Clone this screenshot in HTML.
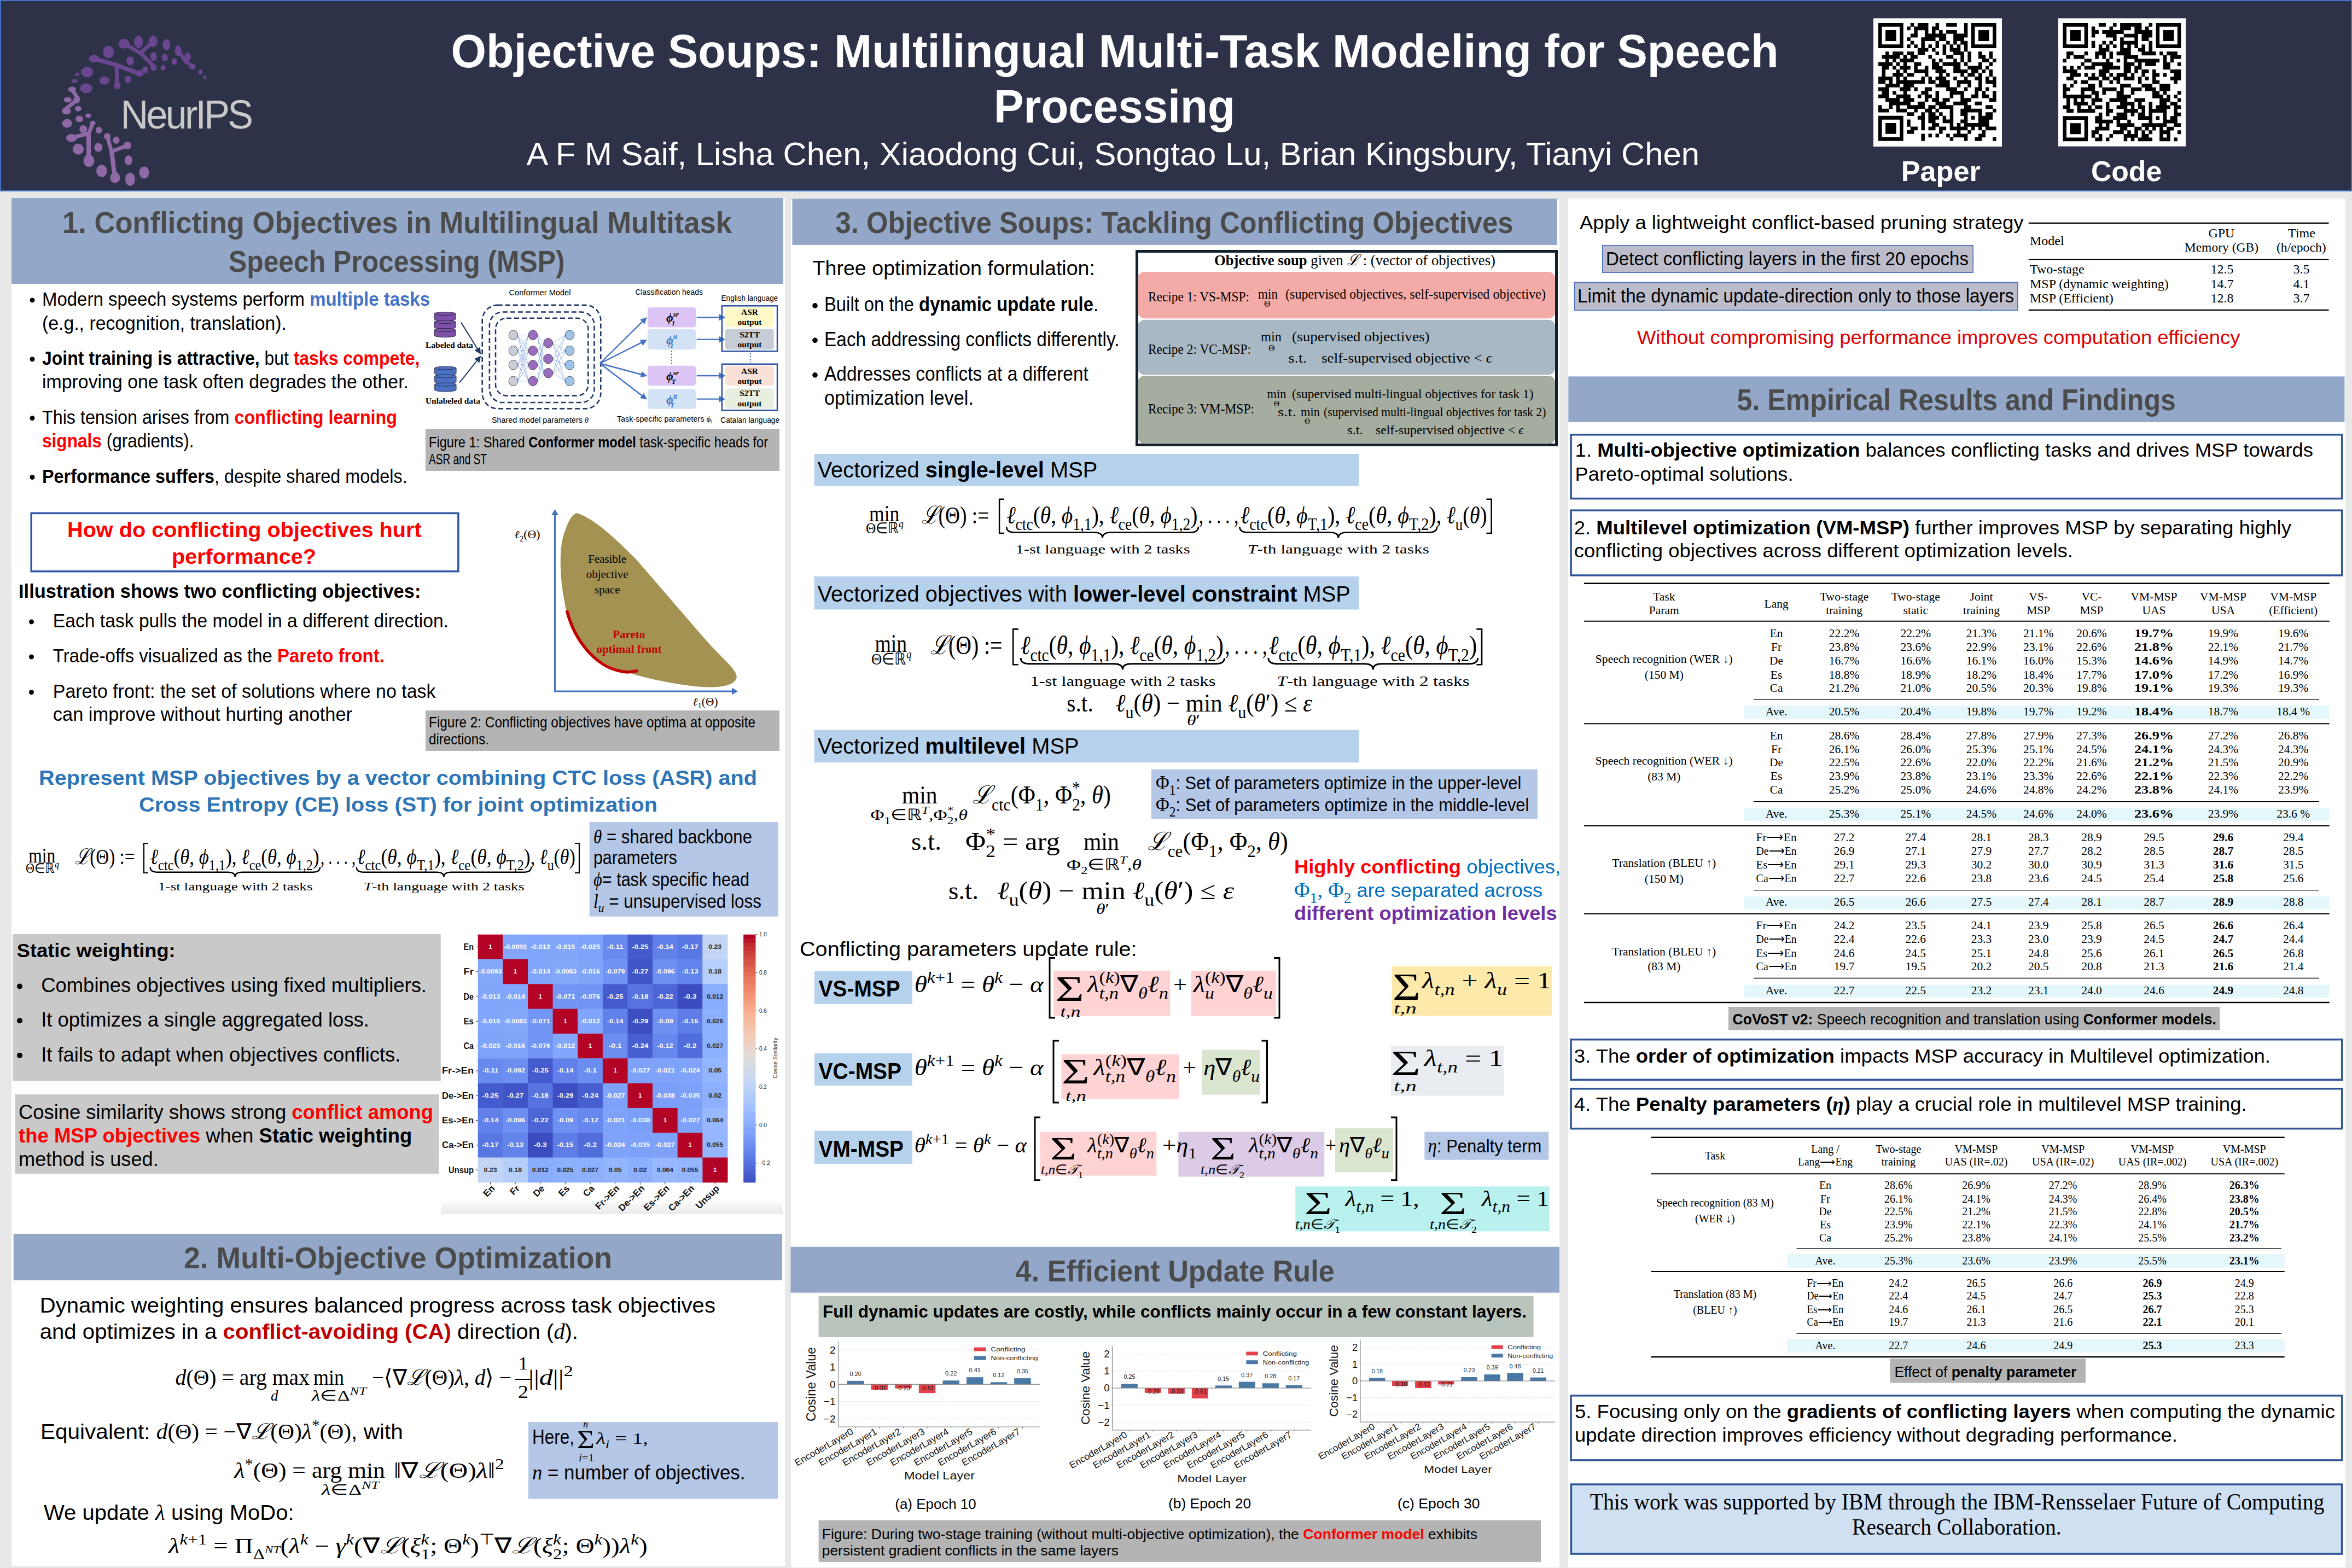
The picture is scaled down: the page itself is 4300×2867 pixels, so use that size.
<!DOCTYPE html>
<html><head><meta charset="utf-8"><title>Objective Soups poster</title>
<style>html,body{margin:0;padding:0;background:#e8e8e8;} svg{display:block;}</style>
</head><body>
<svg width="4300" height="2867" viewBox="0 0 4300 2867">
<rect x="0" y="0" width="4300" height="2867" fill="#e8e8e8"/>
<rect x="0.0" y="0.0" width="4300.0" height="350.0" fill="#2e3248"/>
<rect x="1.0" y="1.0" width="4298.0" height="348.0" fill="none" stroke="#4472c4" stroke-width="2"/>
<text x="824.5" y="123.4" font-family="Liberation Sans" font-size="85.0" font-weight="bold" fill="#fff" textLength="2427.1" lengthAdjust="spacingAndGlyphs">Objective Soups: Multilingual Multi-Task Modeling for Speech</text>
<text x="1817.0" y="224.0" font-family="Liberation Sans" font-size="85.0" font-weight="bold" fill="#fff" textLength="441.0" lengthAdjust="spacingAndGlyphs">Processing</text>
<text x="962.6" y="301.7" font-family="Liberation Sans" font-size="60.0" fill="#fff" textLength="2144.4" lengthAdjust="spacingAndGlyphs">A F M Saif, Lisha Chen, Xiaodong Cui, Songtao Lu, Brian Kingsbury, Tianyi Chen</text>
<rect x="3425.0" y="33.4" width="235.0" height="234.6" fill="#fff"/>
<path d="M3434.00 42.00h45.73v6.78h-45.73zM3492.80 42.00h6.53v6.78h-6.53zM3505.87 42.00h19.60v6.78h-19.60zM3538.53 42.00h6.53v6.78h-6.53zM3558.13 42.00h19.60v6.78h-19.60zM3590.80 42.00h6.53v6.78h-6.53zM3603.87 42.00h45.73v6.78h-45.73zM3434.00 48.53h6.53v6.78h-6.53zM3473.20 48.53h6.53v6.78h-6.53zM3486.27 48.53h6.53v6.78h-6.53zM3499.33 48.53h26.13v6.78h-26.13zM3532.00 48.53h13.07v6.78h-13.07zM3590.80 48.53h6.53v6.78h-6.53zM3603.87 48.53h6.53v6.78h-6.53zM3643.07 48.53h6.53v6.78h-6.53zM3434.00 55.07h6.53v6.78h-6.53zM3447.07 55.07h19.60v6.78h-19.60zM3473.20 55.07h6.53v6.78h-6.53zM3499.33 55.07h6.53v6.78h-6.53zM3518.93 55.07h6.53v6.78h-6.53zM3532.00 55.07h6.53v6.78h-6.53zM3545.07 55.07h6.53v6.78h-6.53zM3558.13 55.07h19.60v6.78h-19.60zM3590.80 55.07h6.53v6.78h-6.53zM3603.87 55.07h6.53v6.78h-6.53zM3616.93 55.07h19.60v6.78h-19.60zM3643.07 55.07h6.53v6.78h-6.53zM3434.00 61.60h6.53v6.78h-6.53zM3447.07 61.60h19.60v6.78h-19.60zM3473.20 61.60h6.53v6.78h-6.53zM3492.80 61.60h13.07v6.78h-13.07zM3518.93 61.60h39.20v6.78h-39.20zM3571.20 61.60h26.13v6.78h-26.13zM3603.87 61.60h6.53v6.78h-6.53zM3616.93 61.60h19.60v6.78h-19.60zM3643.07 61.60h6.53v6.78h-6.53zM3434.00 68.13h6.53v6.78h-6.53zM3447.07 68.13h19.60v6.78h-19.60zM3473.20 68.13h6.53v6.78h-6.53zM3486.27 68.13h6.53v6.78h-6.53zM3512.40 68.13h26.13v6.78h-26.13zM3545.07 68.13h13.07v6.78h-13.07zM3571.20 68.13h19.60v6.78h-19.60zM3603.87 68.13h6.53v6.78h-6.53zM3616.93 68.13h19.60v6.78h-19.60zM3643.07 68.13h6.53v6.78h-6.53zM3434.00 74.67h6.53v6.78h-6.53zM3473.20 74.67h6.53v6.78h-6.53zM3492.80 74.67h6.53v6.78h-6.53zM3512.40 74.67h6.53v6.78h-6.53zM3538.53 74.67h6.53v6.78h-6.53zM3558.13 74.67h6.53v6.78h-6.53zM3571.20 74.67h6.53v6.78h-6.53zM3584.27 74.67h13.07v6.78h-13.07zM3603.87 74.67h6.53v6.78h-6.53zM3643.07 74.67h6.53v6.78h-6.53zM3434.00 81.20h45.73v6.78h-45.73zM3486.27 81.20h6.53v6.78h-6.53zM3499.33 81.20h6.53v6.78h-6.53zM3512.40 81.20h6.53v6.78h-6.53zM3525.47 81.20h6.53v6.78h-6.53zM3538.53 81.20h6.53v6.78h-6.53zM3551.60 81.20h6.53v6.78h-6.53zM3564.67 81.20h6.53v6.78h-6.53zM3577.73 81.20h6.53v6.78h-6.53zM3590.80 81.20h6.53v6.78h-6.53zM3603.87 81.20h45.73v6.78h-45.73zM3505.87 87.73h19.60v6.78h-19.60zM3532.00 87.73h6.53v6.78h-6.53zM3551.60 87.73h6.53v6.78h-6.53zM3564.67 87.73h19.60v6.78h-19.60zM3590.80 87.73h6.53v6.78h-6.53zM3447.07 94.27h6.53v6.78h-6.53zM3460.13 94.27h19.60v6.78h-19.60zM3486.27 94.27h13.07v6.78h-13.07zM3505.87 94.27h13.07v6.78h-13.07zM3538.53 94.27h6.53v6.78h-6.53zM3551.60 94.27h6.53v6.78h-6.53zM3571.20 94.27h19.60v6.78h-19.60zM3597.33 94.27h6.53v6.78h-6.53zM3616.93 94.27h6.53v6.78h-6.53zM3636.53 94.27h6.53v6.78h-6.53zM3440.53 100.80h32.67v6.78h-32.67zM3479.73 100.80h6.53v6.78h-6.53zM3492.80 100.80h13.07v6.78h-13.07zM3525.47 100.80h6.53v6.78h-6.53zM3558.13 100.80h13.07v6.78h-13.07zM3584.27 100.80h6.53v6.78h-6.53zM3597.33 100.80h6.53v6.78h-6.53zM3616.93 100.80h13.07v6.78h-13.07zM3636.53 100.80h6.53v6.78h-6.53zM3447.07 107.33h6.53v6.78h-6.53zM3460.13 107.33h6.53v6.78h-6.53zM3473.20 107.33h26.13v6.78h-26.13zM3532.00 107.33h6.53v6.78h-6.53zM3545.07 107.33h6.53v6.78h-6.53zM3571.20 107.33h6.53v6.78h-6.53zM3584.27 107.33h6.53v6.78h-6.53zM3597.33 107.33h6.53v6.78h-6.53zM3623.47 107.33h13.07v6.78h-13.07zM3643.07 107.33h6.53v6.78h-6.53zM3434.00 113.87h26.13v6.78h-26.13zM3466.67 113.87h6.53v6.78h-6.53zM3479.73 113.87h6.53v6.78h-6.53zM3499.33 113.87h13.07v6.78h-13.07zM3532.00 113.87h13.07v6.78h-13.07zM3551.60 113.87h32.67v6.78h-32.67zM3590.80 113.87h6.53v6.78h-6.53zM3616.93 113.87h6.53v6.78h-6.53zM3636.53 113.87h6.53v6.78h-6.53zM3440.53 120.40h13.07v6.78h-13.07zM3460.13 120.40h6.53v6.78h-6.53zM3473.20 120.40h19.60v6.78h-19.60zM3499.33 120.40h6.53v6.78h-6.53zM3518.93 120.40h6.53v6.78h-6.53zM3532.00 120.40h19.60v6.78h-19.60zM3571.20 120.40h13.07v6.78h-13.07zM3597.33 120.40h26.13v6.78h-26.13zM3630.00 120.40h6.53v6.78h-6.53zM3440.53 126.93h6.53v6.78h-6.53zM3466.67 126.93h6.53v6.78h-6.53zM3479.73 126.93h6.53v6.78h-6.53zM3499.33 126.93h26.13v6.78h-26.13zM3538.53 126.93h19.60v6.78h-19.60zM3571.20 126.93h26.13v6.78h-26.13zM3603.87 126.93h13.07v6.78h-13.07zM3623.47 126.93h6.53v6.78h-6.53zM3636.53 126.93h6.53v6.78h-6.53zM3440.53 133.47h6.53v6.78h-6.53zM3460.13 133.47h19.60v6.78h-19.60zM3486.27 133.47h13.07v6.78h-13.07zM3518.93 133.47h6.53v6.78h-6.53zM3545.07 133.47h6.53v6.78h-6.53zM3558.13 133.47h6.53v6.78h-6.53zM3584.27 133.47h6.53v6.78h-6.53zM3597.33 133.47h13.07v6.78h-13.07zM3616.93 133.47h6.53v6.78h-6.53zM3636.53 133.47h6.53v6.78h-6.53zM3434.00 140.00h26.13v6.78h-26.13zM3466.67 140.00h6.53v6.78h-6.53zM3479.73 140.00h6.53v6.78h-6.53zM3512.40 140.00h6.53v6.78h-6.53zM3525.47 140.00h6.53v6.78h-6.53zM3538.53 140.00h19.60v6.78h-19.60zM3571.20 140.00h6.53v6.78h-6.53zM3590.80 140.00h6.53v6.78h-6.53zM3610.40 140.00h13.07v6.78h-13.07zM3630.00 140.00h6.53v6.78h-6.53zM3643.07 140.00h6.53v6.78h-6.53zM3434.00 146.53h13.07v6.78h-13.07zM3453.60 146.53h6.53v6.78h-6.53zM3466.67 146.53h52.27v6.78h-52.27zM3525.47 146.53h13.07v6.78h-13.07zM3545.07 146.53h19.60v6.78h-19.60zM3577.73 146.53h26.13v6.78h-26.13zM3616.93 146.53h6.53v6.78h-6.53zM3630.00 146.53h19.60v6.78h-19.60zM3447.07 153.07h26.13v6.78h-26.13zM3479.73 153.07h19.60v6.78h-19.60zM3538.53 153.07h26.13v6.78h-26.13zM3577.73 153.07h6.53v6.78h-6.53zM3597.33 153.07h6.53v6.78h-6.53zM3616.93 153.07h6.53v6.78h-6.53zM3643.07 153.07h6.53v6.78h-6.53zM3434.00 159.60h19.60v6.78h-19.60zM3473.20 159.60h19.60v6.78h-19.60zM3499.33 159.60h6.53v6.78h-6.53zM3518.93 159.60h13.07v6.78h-13.07zM3558.13 159.60h19.60v6.78h-19.60zM3590.80 159.60h6.53v6.78h-6.53zM3610.40 159.60h13.07v6.78h-13.07zM3630.00 159.60h6.53v6.78h-6.53zM3440.53 166.13h13.07v6.78h-13.07zM3460.13 166.13h6.53v6.78h-6.53zM3479.73 166.13h6.53v6.78h-6.53zM3512.40 166.13h13.07v6.78h-13.07zM3538.53 166.13h6.53v6.78h-6.53zM3564.67 166.13h26.13v6.78h-26.13zM3610.40 166.13h6.53v6.78h-6.53zM3623.47 166.13h6.53v6.78h-6.53zM3643.07 166.13h6.53v6.78h-6.53zM3434.00 172.67h19.60v6.78h-19.60zM3466.67 172.67h26.13v6.78h-26.13zM3505.87 172.67h6.53v6.78h-6.53zM3518.93 172.67h13.07v6.78h-13.07zM3538.53 172.67h6.53v6.78h-6.53zM3564.67 172.67h6.53v6.78h-6.53zM3584.27 172.67h6.53v6.78h-6.53zM3603.87 172.67h13.07v6.78h-13.07zM3623.47 172.67h13.07v6.78h-13.07zM3643.07 172.67h6.53v6.78h-6.53zM3447.07 179.20h26.13v6.78h-26.13zM3479.73 179.20h19.60v6.78h-19.60zM3518.93 179.20h6.53v6.78h-6.53zM3532.00 179.20h13.07v6.78h-13.07zM3551.60 179.20h13.07v6.78h-13.07zM3584.27 179.20h19.60v6.78h-19.60zM3636.53 179.20h13.07v6.78h-13.07zM3453.60 185.73h39.20v6.78h-39.20zM3505.87 185.73h13.07v6.78h-13.07zM3538.53 185.73h19.60v6.78h-19.60zM3571.20 185.73h26.13v6.78h-26.13zM3610.40 185.73h13.07v6.78h-13.07zM3434.00 192.27h6.53v6.78h-6.53zM3453.60 192.27h6.53v6.78h-6.53zM3466.67 192.27h6.53v6.78h-6.53zM3486.27 192.27h32.67v6.78h-32.67zM3525.47 192.27h13.07v6.78h-13.07zM3545.07 192.27h26.13v6.78h-26.13zM3590.80 192.27h13.07v6.78h-13.07zM3630.00 192.27h13.07v6.78h-13.07zM3434.00 198.80h19.60v6.78h-19.60zM3466.67 198.80h19.60v6.78h-19.60zM3499.33 198.80h6.53v6.78h-6.53zM3518.93 198.80h13.07v6.78h-13.07zM3538.53 198.80h6.53v6.78h-6.53zM3564.67 198.80h6.53v6.78h-6.53zM3584.27 198.80h39.20v6.78h-39.20zM3643.07 198.80h6.53v6.78h-6.53zM3486.27 205.33h13.07v6.78h-13.07zM3512.40 205.33h6.53v6.78h-6.53zM3525.47 205.33h13.07v6.78h-13.07zM3545.07 205.33h6.53v6.78h-6.53zM3564.67 205.33h6.53v6.78h-6.53zM3584.27 205.33h13.07v6.78h-13.07zM3616.93 205.33h6.53v6.78h-6.53zM3630.00 205.33h13.07v6.78h-13.07zM3434.00 211.87h45.73v6.78h-45.73zM3505.87 211.87h13.07v6.78h-13.07zM3525.47 211.87h19.60v6.78h-19.60zM3551.60 211.87h6.53v6.78h-6.53zM3564.67 211.87h6.53v6.78h-6.53zM3590.80 211.87h6.53v6.78h-6.53zM3603.87 211.87h6.53v6.78h-6.53zM3616.93 211.87h26.13v6.78h-26.13zM3434.00 218.40h6.53v6.78h-6.53zM3473.20 218.40h6.53v6.78h-6.53zM3486.27 218.40h6.53v6.78h-6.53zM3512.40 218.40h6.53v6.78h-6.53zM3525.47 218.40h13.07v6.78h-13.07zM3551.60 218.40h19.60v6.78h-19.60zM3584.27 218.40h13.07v6.78h-13.07zM3616.93 218.40h19.60v6.78h-19.60zM3434.00 224.93h6.53v6.78h-6.53zM3447.07 224.93h19.60v6.78h-19.60zM3473.20 224.93h6.53v6.78h-6.53zM3486.27 224.93h6.53v6.78h-6.53zM3512.40 224.93h6.53v6.78h-6.53zM3532.00 224.93h13.07v6.78h-13.07zM3564.67 224.93h6.53v6.78h-6.53zM3577.73 224.93h6.53v6.78h-6.53zM3590.80 224.93h45.73v6.78h-45.73zM3434.00 231.47h6.53v6.78h-6.53zM3447.07 231.47h19.60v6.78h-19.60zM3473.20 231.47h6.53v6.78h-6.53zM3492.80 231.47h13.07v6.78h-13.07zM3512.40 231.47h6.53v6.78h-6.53zM3525.47 231.47h13.07v6.78h-13.07zM3545.07 231.47h13.07v6.78h-13.07zM3564.67 231.47h32.67v6.78h-32.67zM3603.87 231.47h6.53v6.78h-6.53zM3616.93 231.47h6.53v6.78h-6.53zM3630.00 231.47h19.60v6.78h-19.60zM3434.00 238.00h6.53v6.78h-6.53zM3447.07 238.00h19.60v6.78h-19.60zM3473.20 238.00h6.53v6.78h-6.53zM3486.27 238.00h13.07v6.78h-13.07zM3545.07 238.00h6.53v6.78h-6.53zM3577.73 238.00h6.53v6.78h-6.53zM3597.33 238.00h6.53v6.78h-6.53zM3623.47 238.00h6.53v6.78h-6.53zM3434.00 244.53h6.53v6.78h-6.53zM3473.20 244.53h6.53v6.78h-6.53zM3512.40 244.53h6.53v6.78h-6.53zM3525.47 244.53h6.53v6.78h-6.53zM3538.53 244.53h6.53v6.78h-6.53zM3558.13 244.53h6.53v6.78h-6.53zM3571.20 244.53h26.13v6.78h-26.13zM3616.93 244.53h13.07v6.78h-13.07zM3434.00 251.07h45.73v6.78h-45.73zM3512.40 251.07h6.53v6.78h-6.53zM3564.67 251.07h6.53v6.78h-6.53zM3590.80 251.07h6.53v6.78h-6.53zM3610.40 251.07h13.07v6.78h-13.07zM3643.07 251.07h6.53v6.78h-6.53z" fill="#000"/>
<rect x="3763.0" y="33.4" width="233.0" height="234.2" fill="#fff"/>
<path d="M3771.40 42.00h45.82v6.80h-45.82zM3836.85 42.00h13.09v6.80h-13.09zM3863.04 42.00h6.55v6.80h-6.55zM3876.13 42.00h39.27v6.80h-39.27zM3928.49 42.00h6.55v6.80h-6.55zM3941.58 42.00h45.82v6.80h-45.82zM3771.40 48.55h6.55v6.80h-6.55zM3810.67 48.55h6.55v6.80h-6.55zM3823.76 48.55h6.55v6.80h-6.55zM3856.49 48.55h6.55v6.80h-6.55zM3876.13 48.55h19.64v6.80h-19.64zM3902.31 48.55h13.09v6.80h-13.09zM3921.95 48.55h6.55v6.80h-6.55zM3941.58 48.55h6.55v6.80h-6.55zM3980.85 48.55h6.55v6.80h-6.55zM3771.40 55.09h6.55v6.80h-6.55zM3784.49 55.09h19.64v6.80h-19.64zM3810.67 55.09h6.55v6.80h-6.55zM3823.76 55.09h13.09v6.80h-13.09zM3843.40 55.09h39.27v6.80h-39.27zM3902.31 55.09h32.73v6.80h-32.73zM3941.58 55.09h6.55v6.80h-6.55zM3954.67 55.09h19.64v6.80h-19.64zM3980.85 55.09h6.55v6.80h-6.55zM3771.40 61.64h6.55v6.80h-6.55zM3784.49 61.64h19.64v6.80h-19.64zM3810.67 61.64h6.55v6.80h-6.55zM3823.76 61.64h6.55v6.80h-6.55zM3849.95 61.64h19.64v6.80h-19.64zM3882.67 61.64h26.18v6.80h-26.18zM3915.40 61.64h19.64v6.80h-19.64zM3941.58 61.64h6.55v6.80h-6.55zM3954.67 61.64h19.64v6.80h-19.64zM3980.85 61.64h6.55v6.80h-6.55zM3771.40 68.18h6.55v6.80h-6.55zM3784.49 68.18h19.64v6.80h-19.64zM3810.67 68.18h6.55v6.80h-6.55zM3863.04 68.18h6.55v6.80h-6.55zM3876.13 68.18h6.55v6.80h-6.55zM3902.31 68.18h6.55v6.80h-6.55zM3915.40 68.18h13.09v6.80h-13.09zM3941.58 68.18h6.55v6.80h-6.55zM3954.67 68.18h19.64v6.80h-19.64zM3980.85 68.18h6.55v6.80h-6.55zM3771.40 74.73h6.55v6.80h-6.55zM3810.67 74.73h6.55v6.80h-6.55zM3823.76 74.73h6.55v6.80h-6.55zM3843.40 74.73h6.55v6.80h-6.55zM3856.49 74.73h6.55v6.80h-6.55zM3876.13 74.73h32.73v6.80h-32.73zM3928.49 74.73h6.55v6.80h-6.55zM3941.58 74.73h6.55v6.80h-6.55zM3980.85 74.73h6.55v6.80h-6.55zM3771.40 81.27h45.82v6.80h-45.82zM3823.76 81.27h6.55v6.80h-6.55zM3836.85 81.27h6.55v6.80h-6.55zM3849.95 81.27h6.55v6.80h-6.55zM3863.04 81.27h6.55v6.80h-6.55zM3876.13 81.27h6.55v6.80h-6.55zM3889.22 81.27h6.55v6.80h-6.55zM3902.31 81.27h6.55v6.80h-6.55zM3915.40 81.27h6.55v6.80h-6.55zM3928.49 81.27h6.55v6.80h-6.55zM3941.58 81.27h45.82v6.80h-45.82zM3836.85 87.82h19.64v6.80h-19.64zM3876.13 87.82h19.64v6.80h-19.64zM3908.85 87.82h13.09v6.80h-13.09zM3928.49 87.82h6.55v6.80h-6.55zM3777.95 94.36h13.09v6.80h-13.09zM3810.67 94.36h6.55v6.80h-6.55zM3830.31 94.36h19.64v6.80h-19.64zM3856.49 94.36h6.55v6.80h-6.55zM3869.58 94.36h26.18v6.80h-26.18zM3915.40 94.36h26.18v6.80h-26.18zM3948.13 94.36h6.55v6.80h-6.55zM3961.22 94.36h19.64v6.80h-19.64zM3777.95 100.91h6.55v6.80h-6.55zM3791.04 100.91h19.64v6.80h-19.64zM3830.31 100.91h6.55v6.80h-6.55zM3843.40 100.91h6.55v6.80h-6.55zM3856.49 100.91h6.55v6.80h-6.55zM3882.67 100.91h26.18v6.80h-26.18zM3954.67 100.91h6.55v6.80h-6.55zM3967.76 100.91h19.64v6.80h-19.64zM3771.40 107.45h6.55v6.80h-6.55zM3810.67 107.45h13.09v6.80h-13.09zM3849.95 107.45h6.55v6.80h-6.55zM3869.58 107.45h6.55v6.80h-6.55zM3882.67 107.45h6.55v6.80h-6.55zM3902.31 107.45h45.82v6.80h-45.82zM3954.67 107.45h6.55v6.80h-6.55zM3967.76 107.45h6.55v6.80h-6.55zM3804.13 114.00h6.55v6.80h-6.55zM3823.76 114.00h39.27v6.80h-39.27zM3882.67 114.00h19.64v6.80h-19.64zM3908.85 114.00h6.55v6.80h-6.55zM3921.95 114.00h19.64v6.80h-19.64zM3954.67 114.00h13.09v6.80h-13.09zM3980.85 114.00h6.55v6.80h-6.55zM3771.40 120.55h6.55v6.80h-6.55zM3784.49 120.55h6.55v6.80h-6.55zM3797.58 120.55h6.55v6.80h-6.55zM3810.67 120.55h19.64v6.80h-19.64zM3843.40 120.55h32.73v6.80h-32.73zM3882.67 120.55h13.09v6.80h-13.09zM3902.31 120.55h13.09v6.80h-13.09zM3954.67 120.55h13.09v6.80h-13.09zM3771.40 127.09h26.18v6.80h-26.18zM3836.85 127.09h19.64v6.80h-19.64zM3882.67 127.09h13.09v6.80h-13.09zM3902.31 127.09h6.55v6.80h-6.55zM3915.40 127.09h13.09v6.80h-13.09zM3935.04 127.09h6.55v6.80h-6.55zM3967.76 127.09h19.64v6.80h-19.64zM3784.49 133.64h19.64v6.80h-19.64zM3810.67 133.64h6.55v6.80h-6.55zM3823.76 133.64h6.55v6.80h-6.55zM3836.85 133.64h13.09v6.80h-13.09zM3856.49 133.64h6.55v6.80h-6.55zM3869.58 133.64h19.64v6.80h-19.64zM3895.76 133.64h6.55v6.80h-6.55zM3915.40 133.64h6.55v6.80h-6.55zM3935.04 133.64h13.09v6.80h-13.09zM3954.67 133.64h6.55v6.80h-6.55zM3974.31 133.64h13.09v6.80h-13.09zM3777.95 140.18h13.09v6.80h-13.09zM3817.22 140.18h19.64v6.80h-19.64zM3843.40 140.18h13.09v6.80h-13.09zM3863.04 140.18h13.09v6.80h-13.09zM3882.67 140.18h19.64v6.80h-19.64zM3908.85 140.18h6.55v6.80h-6.55zM3921.95 140.18h6.55v6.80h-6.55zM3935.04 140.18h6.55v6.80h-6.55zM3967.76 140.18h19.64v6.80h-19.64zM3791.04 146.73h6.55v6.80h-6.55zM3804.13 146.73h13.09v6.80h-13.09zM3836.85 146.73h6.55v6.80h-6.55zM3856.49 146.73h6.55v6.80h-6.55zM3869.58 146.73h6.55v6.80h-6.55zM3908.85 146.73h6.55v6.80h-6.55zM3935.04 146.73h13.09v6.80h-13.09zM3974.31 146.73h6.55v6.80h-6.55zM3771.40 153.27h6.55v6.80h-6.55zM3784.49 153.27h6.55v6.80h-6.55zM3817.22 153.27h13.09v6.80h-13.09zM3836.85 153.27h6.55v6.80h-6.55zM3876.13 153.27h19.64v6.80h-19.64zM3915.40 153.27h19.64v6.80h-19.64zM3948.13 153.27h19.64v6.80h-19.64zM3771.40 159.82h13.09v6.80h-13.09zM3804.13 159.82h26.18v6.80h-26.18zM3843.40 159.82h26.18v6.80h-26.18zM3876.13 159.82h6.55v6.80h-6.55zM3895.76 159.82h19.64v6.80h-19.64zM3921.95 159.82h19.64v6.80h-19.64zM3948.13 159.82h19.64v6.80h-19.64zM3771.40 166.36h6.55v6.80h-6.55zM3804.13 166.36h6.55v6.80h-6.55zM3823.76 166.36h13.09v6.80h-13.09zM3843.40 166.36h6.55v6.80h-6.55zM3869.58 166.36h13.09v6.80h-13.09zM3895.76 166.36h6.55v6.80h-6.55zM3935.04 166.36h13.09v6.80h-13.09zM3954.67 166.36h6.55v6.80h-6.55zM3980.85 166.36h6.55v6.80h-6.55zM3771.40 172.91h52.36v6.80h-52.36zM3830.31 172.91h6.55v6.80h-6.55zM3869.58 172.91h26.18v6.80h-26.18zM3935.04 172.91h19.64v6.80h-19.64zM3961.22 172.91h6.55v6.80h-6.55zM3974.31 172.91h6.55v6.80h-6.55zM3777.95 179.45h6.55v6.80h-6.55zM3791.04 179.45h6.55v6.80h-6.55zM3804.13 179.45h6.55v6.80h-6.55zM3823.76 179.45h19.64v6.80h-19.64zM3856.49 179.45h32.73v6.80h-32.73zM3902.31 179.45h19.64v6.80h-19.64zM3948.13 179.45h19.64v6.80h-19.64zM3980.85 179.45h6.55v6.80h-6.55zM3777.95 186.00h6.55v6.80h-6.55zM3791.04 186.00h26.18v6.80h-26.18zM3823.76 186.00h6.55v6.80h-6.55zM3849.95 186.00h6.55v6.80h-6.55zM3876.13 186.00h26.18v6.80h-26.18zM3908.85 186.00h6.55v6.80h-6.55zM3928.49 186.00h6.55v6.80h-6.55zM3948.13 186.00h13.09v6.80h-13.09zM3967.76 186.00h13.09v6.80h-13.09zM3771.40 192.55h13.09v6.80h-13.09zM3797.58 192.55h6.55v6.80h-6.55zM3817.22 192.55h6.55v6.80h-6.55zM3830.31 192.55h13.09v6.80h-13.09zM3849.95 192.55h6.55v6.80h-6.55zM3869.58 192.55h19.64v6.80h-19.64zM3895.76 192.55h6.55v6.80h-6.55zM3908.85 192.55h13.09v6.80h-13.09zM3928.49 192.55h6.55v6.80h-6.55zM3941.58 192.55h26.18v6.80h-26.18zM3974.31 192.55h13.09v6.80h-13.09zM3777.95 199.09h13.09v6.80h-13.09zM3797.58 199.09h32.73v6.80h-32.73zM3849.95 199.09h13.09v6.80h-13.09zM3882.67 199.09h26.18v6.80h-26.18zM3915.40 199.09h6.55v6.80h-6.55zM3928.49 199.09h32.73v6.80h-32.73zM3974.31 199.09h6.55v6.80h-6.55zM3836.85 205.64h6.55v6.80h-6.55zM3849.95 205.64h6.55v6.80h-6.55zM3869.58 205.64h19.64v6.80h-19.64zM3895.76 205.64h6.55v6.80h-6.55zM3908.85 205.64h13.09v6.80h-13.09zM3928.49 205.64h6.55v6.80h-6.55zM3954.67 205.64h6.55v6.80h-6.55zM3974.31 205.64h13.09v6.80h-13.09zM3771.40 212.18h45.82v6.80h-45.82zM3830.31 212.18h13.09v6.80h-13.09zM3863.04 212.18h26.18v6.80h-26.18zM3908.85 212.18h26.18v6.80h-26.18zM3941.58 212.18h6.55v6.80h-6.55zM3954.67 212.18h6.55v6.80h-6.55zM3967.76 212.18h13.09v6.80h-13.09zM3771.40 218.73h6.55v6.80h-6.55zM3810.67 218.73h6.55v6.80h-6.55zM3830.31 218.73h32.73v6.80h-32.73zM3869.58 218.73h6.55v6.80h-6.55zM3889.22 218.73h6.55v6.80h-6.55zM3928.49 218.73h6.55v6.80h-6.55zM3954.67 218.73h26.18v6.80h-26.18zM3771.40 225.27h6.55v6.80h-6.55zM3784.49 225.27h19.64v6.80h-19.64zM3810.67 225.27h6.55v6.80h-6.55zM3836.85 225.27h6.55v6.80h-6.55zM3849.95 225.27h6.55v6.80h-6.55zM3869.58 225.27h32.73v6.80h-32.73zM3915.40 225.27h45.82v6.80h-45.82zM3974.31 225.27h13.09v6.80h-13.09zM3771.40 231.82h6.55v6.80h-6.55zM3784.49 231.82h19.64v6.80h-19.64zM3810.67 231.82h6.55v6.80h-6.55zM3830.31 231.82h26.18v6.80h-26.18zM3876.13 231.82h13.09v6.80h-13.09zM3902.31 231.82h13.09v6.80h-13.09zM3921.95 231.82h6.55v6.80h-6.55zM3935.04 231.82h6.55v6.80h-6.55zM3948.13 231.82h6.55v6.80h-6.55zM3961.22 231.82h13.09v6.80h-13.09zM3771.40 238.36h6.55v6.80h-6.55zM3784.49 238.36h19.64v6.80h-19.64zM3810.67 238.36h6.55v6.80h-6.55zM3823.76 238.36h13.09v6.80h-13.09zM3863.04 238.36h19.64v6.80h-19.64zM3889.22 238.36h6.55v6.80h-6.55zM3902.31 238.36h6.55v6.80h-6.55zM3915.40 238.36h6.55v6.80h-6.55zM3928.49 238.36h6.55v6.80h-6.55zM3948.13 238.36h19.64v6.80h-19.64zM3980.85 238.36h6.55v6.80h-6.55zM3771.40 244.91h6.55v6.80h-6.55zM3810.67 244.91h6.55v6.80h-6.55zM3823.76 244.91h6.55v6.80h-6.55zM3836.85 244.91h6.55v6.80h-6.55zM3856.49 244.91h6.55v6.80h-6.55zM3882.67 244.91h26.18v6.80h-26.18zM3915.40 244.91h13.09v6.80h-13.09zM3948.13 244.91h6.55v6.80h-6.55zM3961.22 244.91h6.55v6.80h-6.55zM3771.40 251.45h45.82v6.80h-45.82zM3830.31 251.45h13.09v6.80h-13.09zM3849.95 251.45h6.55v6.80h-6.55zM3882.67 251.45h6.55v6.80h-6.55zM3895.76 251.45h6.55v6.80h-6.55zM3908.85 251.45h26.18v6.80h-26.18zM3948.13 251.45h19.64v6.80h-19.64zM3974.31 251.45h6.55v6.80h-6.55z" fill="#000"/>
<text x="3475.8" y="330.7" font-family="Liberation Sans" font-size="52.0" font-weight="bold" fill="#fff" textLength="145.0" lengthAdjust="spacingAndGlyphs">Paper</text>
<text x="3822.9" y="330.7" font-family="Liberation Sans" font-size="52.0" font-weight="bold" fill="#fff" textLength="129.3" lengthAdjust="spacingAndGlyphs">Code</text>
<ellipse cx="253.3" cy="76.7" rx="8.2" ry="11.2" fill="#6a4590"/>
<ellipse cx="279.8" cy="75.7" rx="8" ry="10.5" fill="#6a4590"/>
<ellipse cx="304.3" cy="81.8" rx="7" ry="10" fill="#6a4590"/>
<ellipse cx="325.7" cy="93" rx="6" ry="10" fill="#6a4590"/>
<ellipse cx="343" cy="104.3" rx="6" ry="8" fill="#6a4590"/>
<ellipse cx="366.6" cy="131.8" rx="3.7" ry="5" fill="#6a4590"/>
<ellipse cx="374.3" cy="141.4" rx="2.5" ry="3.5" fill="#6a4590"/>
<ellipse cx="226.7" cy="79.8" rx="10" ry="9" fill="#6a4590"/>
<ellipse cx="198.2" cy="95.1" rx="10" ry="11" fill="#6a4590"/>
<ellipse cx="238" cy="111.4" rx="7" ry="8" fill="#6a4590"/>
<ellipse cx="280.8" cy="103.3" rx="6" ry="8" fill="#6a4590"/>
<ellipse cx="301.2" cy="105.3" rx="5.5" ry="7" fill="#6a4590"/>
<ellipse cx="318.6" cy="112.5" rx="5" ry="6" fill="#6a4590"/>
<ellipse cx="298.2" cy="123.7" rx="4.5" ry="5" fill="#6a4590"/>
<ellipse cx="280.8" cy="123.7" rx="5.5" ry="6" fill="#6a4590"/>
<ellipse cx="265.5" cy="127.8" rx="5.5" ry="6.5" fill="#6a4590"/>
<ellipse cx="233.9" cy="145.1" rx="6" ry="6.5" fill="#6a4590"/>
<ellipse cx="171.6" cy="107.3" rx="9" ry="7" fill="#6a4590"/>
<ellipse cx="159.4" cy="131.8" rx="11" ry="9.5" fill="#6a4590"/>
<ellipse cx="191" cy="147.2" rx="9" ry="7.5" fill="#6a4590"/>
<ellipse cx="157.4" cy="161.4" rx="11" ry="9" fill="#6a4590"/>
<ellipse cx="141" cy="136" rx="4" ry="2.5" fill="#6a4590"/>
<ellipse cx="136.5" cy="148.2" rx="5.5" ry="3.6" fill="#6a4590"/>
<ellipse cx="255" cy="134" rx="7" ry="6" fill="#6a4590"/>
<ellipse cx="214.5" cy="156.3" rx="6" ry="7" fill="#6a4590"/>
<ellipse cx="352" cy="122" rx="6" ry="5" fill="#6a4590"/>
<line x1="171.0" y1="107.0" x2="213.0" y2="119.0" stroke="#6a4590" stroke-width="8" stroke-linecap="round"/>
<line x1="213.0" y1="119.0" x2="250.0" y2="133.0" stroke="#6a4590" stroke-width="8" stroke-linecap="round"/>
<line x1="213.0" y1="119.0" x2="214.0" y2="156.0" stroke="#6a4590" stroke-width="7" stroke-linecap="round"/>
<line x1="227.0" y1="80.0" x2="257.0" y2="97.0" stroke="#6a4590" stroke-width="7" stroke-linecap="round"/>
<line x1="257.0" y1="97.0" x2="280.0" y2="76.0" stroke="#6a4590" stroke-width="7" stroke-linecap="round"/>
<line x1="257.0" y1="97.0" x2="282.0" y2="122.0" stroke="#6a4590" stroke-width="7" stroke-linecap="round"/>
<line x1="325.0" y1="91.0" x2="340.0" y2="113.0" stroke="#6a4590" stroke-width="7" stroke-linecap="round"/>
<line x1="340.0" y1="113.0" x2="353.0" y2="121.0" stroke="#6a4590" stroke-width="6" stroke-linecap="round"/>
<ellipse cx="131.8" cy="163.5" rx="7" ry="5" fill="#8e69a6"/>
<ellipse cx="123.7" cy="182.5" rx="7" ry="5" fill="#8e69a6"/>
<ellipse cx="140" cy="183" rx="6" ry="6" fill="#8e69a6"/>
<ellipse cx="121.6" cy="203.3" rx="8" ry="6" fill="#8e69a6"/>
<ellipse cx="143" cy="198.8" rx="6" ry="5" fill="#8e69a6"/>
<ellipse cx="161.4" cy="211.4" rx="5" ry="4" fill="#8e69a6"/>
<ellipse cx="145.1" cy="217.6" rx="7" ry="6" fill="#8e69a6"/>
<ellipse cx="122.7" cy="225.7" rx="9" ry="8" fill="#8e69a6"/>
<ellipse cx="152.2" cy="236" rx="7" ry="7" fill="#8e69a6"/>
<ellipse cx="180.8" cy="238" rx="6" ry="6" fill="#8e69a6"/>
<ellipse cx="130.8" cy="252.3" rx="10" ry="7" fill="#8e69a6"/>
<ellipse cx="169.6" cy="224.7" rx="5" ry="4" fill="#8e69a6"/>
<ellipse cx="143" cy="272.7" rx="10" ry="10" fill="#8e69a6"/>
<ellipse cx="179.8" cy="269.6" rx="7.5" ry="8" fill="#8e69a6"/>
<ellipse cx="196.1" cy="249.2" rx="6" ry="6" fill="#8e69a6"/>
<ellipse cx="212.5" cy="256.3" rx="6" ry="6.5" fill="#8e69a6"/>
<ellipse cx="233" cy="266" rx="7" ry="7" fill="#8e69a6"/>
<ellipse cx="162.5" cy="294.1" rx="10" ry="11" fill="#8e69a6"/>
<ellipse cx="185.9" cy="312.5" rx="10" ry="11" fill="#8e69a6"/>
<ellipse cx="210.4" cy="324.7" rx="9" ry="10" fill="#8e69a6"/>
<ellipse cx="238" cy="327.8" rx="9" ry="12" fill="#8e69a6"/>
<ellipse cx="263.5" cy="315.5" rx="9" ry="11" fill="#8e69a6"/>
<ellipse cx="234.9" cy="293.1" rx="7" ry="9" fill="#8e69a6"/>
<line x1="131.0" y1="163.0" x2="143.0" y2="181.0" stroke="#8e69a6" stroke-width="7" stroke-linecap="round"/>
<line x1="143.0" y1="181.0" x2="117.0" y2="202.0" stroke="#8e69a6" stroke-width="7" stroke-linecap="round"/>
<line x1="130.0" y1="252.0" x2="162.0" y2="244.0" stroke="#8e69a6" stroke-width="7" stroke-linecap="round"/>
<line x1="162.0" y1="244.0" x2="170.0" y2="225.0" stroke="#8e69a6" stroke-width="7" stroke-linecap="round"/>
<line x1="162.0" y1="244.0" x2="162.0" y2="294.0" stroke="#8e69a6" stroke-width="8" stroke-linecap="round"/>
<line x1="196.0" y1="249.0" x2="204.0" y2="277.0" stroke="#8e69a6" stroke-width="7" stroke-linecap="round"/>
<line x1="204.0" y1="277.0" x2="233.0" y2="266.0" stroke="#8e69a6" stroke-width="7" stroke-linecap="round"/>
<line x1="204.0" y1="277.0" x2="210.0" y2="324.0" stroke="#8e69a6" stroke-width="8" stroke-linecap="round"/>
<text x="220.6" y="234.9" font-family="Liberation Sans" font-size="75.0" fill="#c9c9c9" textLength="238.8" lengthAdjust="spacingAndGlyphs" letter-spacing="-4">NeurIPS</text>
<rect x="21.0" y="362.0" width="1414.0" height="2501.0" fill="#fff"/>
<rect x="1446.0" y="366.0" width="1405.0" height="2500.0" fill="#fff"/>
<rect x="2867.0" y="363.0" width="1421.0" height="2503.0" fill="#fff"/>
<rect x="21.0" y="362.0" width="1411.0" height="157.0" fill="#93a8c9"/>
<rect x="24.7" y="2256.0" width="1405.3" height="85.0" fill="#93a8c9"/>
<rect x="1448.5" y="363.4" width="1398.2" height="84.5" fill="#93a8c9"/>
<rect x="1445.4" y="2279.7" width="1405.6" height="83.9" fill="#93a8c9"/>
<rect x="2867.3" y="688.3" width="1419.2" height="83.3" fill="#93a8c9"/>
<text x="114.0" y="426.3" font-family="Liberation Sans" font-size="56.0" font-weight="bold" fill="#4b4b4b" textLength="1224.0" lengthAdjust="spacingAndGlyphs">1. Conflicting Objectives in Multilingual Multitask</text>
<text x="418.0" y="497.2" font-family="Liberation Sans" font-size="56.0" font-weight="bold" fill="#4b4b4b" textLength="614.6" lengthAdjust="spacingAndGlyphs">Speech Processing (MSP)</text>
<text x="336.0" y="2319.4" font-family="Liberation Sans" font-size="56.0" font-weight="bold" fill="#4b4b4b" textLength="783.0" lengthAdjust="spacingAndGlyphs">2. Multi-Objective Optimization</text>
<text x="1527.4" y="426.3" font-family="Liberation Sans" font-size="56.0" font-weight="bold" fill="#4b4b4b" textLength="1239.2" lengthAdjust="spacingAndGlyphs">3. Objective Soups: Tackling Conflicting Objectives</text>
<text x="1856.6" y="2343.0" font-family="Liberation Sans" font-size="56.0" font-weight="bold" fill="#4b4b4b" textLength="583.2" lengthAdjust="spacingAndGlyphs">4. Efficient Update Rule</text>
<text x="3175.5" y="750.0" font-family="Liberation Sans" font-size="56.0" font-weight="bold" fill="#4b4b4b" textLength="802.5" lengthAdjust="spacingAndGlyphs">5. Empirical Results and Findings</text>
<circle cx="59" cy="548.9" r="4.5" fill="#000"/>
<circle cx="59" cy="656.7" r="4.5" fill="#000"/>
<circle cx="59" cy="764.6" r="4.5" fill="#000"/>
<circle cx="59" cy="872.5" r="4.5" fill="#000"/>
<text x="77.0" y="558.9" font-family="Liberation Sans" font-size="35.0" textLength="709.0" lengthAdjust="spacingAndGlyphs">Modern speech systems perform <tspan font-weight="bold" fill="#4472c4">multiple tasks</tspan></text>
<text x="77.0" y="603.0" font-family="Liberation Sans" font-size="35.0" textLength="447.0" lengthAdjust="spacingAndGlyphs">(e.g., recognition, translation).</text>
<text x="77.0" y="666.7" font-family="Liberation Sans" font-size="35.0" textLength="690.5" lengthAdjust="spacingAndGlyphs"><tspan font-weight="bold">Joint training is attractive,</tspan> but <tspan font-weight="bold" fill="#ff0000">tasks compete,</tspan></text>
<text x="77.0" y="710.0" font-family="Liberation Sans" font-size="35.0" textLength="670.0" lengthAdjust="spacingAndGlyphs">improving one task often degrades the other.</text>
<text x="77.0" y="774.6" font-family="Liberation Sans" font-size="35.0" textLength="649.0" lengthAdjust="spacingAndGlyphs">This tension arises from <tspan font-weight="bold" fill="#ff0000">conflicting learning</tspan></text>
<text x="77.0" y="817.8" font-family="Liberation Sans" font-size="35.0" textLength="277.5" lengthAdjust="spacingAndGlyphs"><tspan font-weight="bold" fill="#ff0000">signals</tspan> (gradients).</text>
<text x="77.0" y="882.5" font-family="Liberation Sans" font-size="35.0" textLength="667.7" lengthAdjust="spacingAndGlyphs"><tspan font-weight="bold">Performance suffers</tspan>, despite shared models.</text>
<rect x="778.0" y="784.0" width="647.0" height="77.0" fill="#b4b4b4"/>
<text x="784.0" y="818.0" font-family="Liberation Sans" font-size="28.0" textLength="620.0" lengthAdjust="spacingAndGlyphs">Figure 1: Shared <tspan font-weight="bold">Conformer model</tspan> task-specific heads for</text>
<text x="784.0" y="848.6" font-family="Liberation Sans" font-size="28.0" textLength="106.0" lengthAdjust="spacingAndGlyphs">ASR and ST</text>
<text x="930.5" y="540.2" font-family="Liberation Sans" font-size="15.0" textLength="113.0" lengthAdjust="spacingAndGlyphs">Conformer Model</text>
<text x="1161.4" y="538.8" font-family="Liberation Sans" font-size="15.0" textLength="123.6" lengthAdjust="spacingAndGlyphs">Classification heads</text>
<text x="1318.6" y="549.5" font-family="Liberation Sans" font-size="15.0" textLength="103.8" lengthAdjust="spacingAndGlyphs">English language</text>
<text x="899.0" y="772.5" font-family="Liberation Sans" font-size="15.0" textLength="177.0" lengthAdjust="spacingAndGlyphs">Shared model parameters <tspan font-style="italic"><tspan font-family="Liberation Serif">θ</tspan></tspan></text>
<text x="1127.8" y="771.1" font-family="Liberation Sans" font-size="15.0" textLength="174.0" lengthAdjust="spacingAndGlyphs">Task-specific parameters <tspan font-style="italic"><tspan font-family="Liberation Serif">ϕ<tspan font-size="10" dy="3">t</tspan></tspan></tspan></text>
<text x="1317.2" y="772.5" font-family="Liberation Sans" font-size="15.0" textLength="108.0" lengthAdjust="spacingAndGlyphs">Catalan language</text>
<path d="M794 573.5 V583.5 A19.5 3 0 0 0 833 583.5 V573.5" fill="#7d4fa6" stroke="#2b2b4b" stroke-width="1"/>
<ellipse cx="813.5" cy="573.5" rx="19.5" ry="3" fill="#7d4fa6" stroke="#2b2b4b" stroke-width="1"/>
<path d="M794 588.5 V598.5 A19.5 3 0 0 0 833 598.5 V588.5" fill="#7d4fa6" stroke="#2b2b4b" stroke-width="1"/>
<ellipse cx="813.5" cy="588.5" rx="19.5" ry="3" fill="#7d4fa6" stroke="#2b2b4b" stroke-width="1"/>
<path d="M794 603.5 V613.5 A19.5 3 0 0 0 833 613.5 V603.5" fill="#7d4fa6" stroke="#2b2b4b" stroke-width="1"/>
<ellipse cx="813.5" cy="603.5" rx="19.5" ry="3" fill="#7d4fa6" stroke="#2b2b4b" stroke-width="1"/>
<path d="M794.7 673.0 V683.0 A19.649999999999977 3 0 0 0 834 683.0 V673.0" fill="#4a72c4" stroke="#2b2b4b" stroke-width="1"/>
<ellipse cx="814.35" cy="673.0" rx="19.649999999999977" ry="3" fill="#4a72c4" stroke="#2b2b4b" stroke-width="1"/>
<path d="M794.7 688.0 V698.0 A19.649999999999977 3 0 0 0 834 698.0 V688.0" fill="#4a72c4" stroke="#2b2b4b" stroke-width="1"/>
<ellipse cx="814.35" cy="688.0" rx="19.649999999999977" ry="3" fill="#4a72c4" stroke="#2b2b4b" stroke-width="1"/>
<path d="M794.7 703.0 V713.0 A19.649999999999977 3 0 0 0 834 713.0 V703.0" fill="#4a72c4" stroke="#2b2b4b" stroke-width="1"/>
<ellipse cx="814.35" cy="703.0" rx="19.649999999999977" ry="3" fill="#4a72c4" stroke="#2b2b4b" stroke-width="1"/>
<text x="777.9" y="636.4" font-family="Liberation Serif" font-size="15.5" font-weight="bold" textLength="87.0" lengthAdjust="spacingAndGlyphs">Labeled data</text>
<text x="777.9" y="737.5" font-family="Liberation Serif" font-size="15.5" font-weight="bold" textLength="100.0" lengthAdjust="spacingAndGlyphs">Unlabeled data</text>
<defs><marker id="ah" markerWidth="6" markerHeight="6" refX="5" refY="3" orient="auto" markerUnits="strokeWidth"><path d="M0 0 L6 3 L0 6 z" fill="#203864"/></marker><marker id="ahb" markerWidth="5" markerHeight="5" refX="4" refY="2.5" orient="auto" markerUnits="strokeWidth"><path d="M0 0 L5 2.5 L0 5 z" fill="#4472c4"/></marker></defs>
<line x1="843.0" y1="589.6" x2="878.0" y2="646.0" stroke="#203864" stroke-width="2" marker-end="url(#ah)"/>
<line x1="840.0" y1="699.6" x2="878.0" y2="652.0" stroke="#203864" stroke-width="2" marker-end="url(#ah)"/>
<rect x="881.7" y="557.9" width="216.6" height="189.4" rx="28" fill="none" stroke="#203864" stroke-width="2.6" stroke-dasharray="9 5"/>
<rect x="894.9" y="570.5" width="191.6" height="165.5" rx="24" fill="none" stroke="#203864" stroke-width="2.6" stroke-dasharray="9 5"/>
<rect x="906" y="581.7" width="169.3" height="141.7" rx="20" fill="none" stroke="#203864" stroke-width="2.6" stroke-dasharray="9 5"/>
<line x1="946.4" y1="612.6" x2="966.3" y2="612.6" stroke="#5b8ad6" stroke-width="0.6"/>
<line x1="946.4" y1="612.6" x2="966.3" y2="641.2" stroke="#5b8ad6" stroke-width="0.6"/>
<line x1="946.4" y1="612.6" x2="966.3" y2="667.3" stroke="#5b8ad6" stroke-width="0.6"/>
<line x1="946.4" y1="612.6" x2="966.3" y2="696.8" stroke="#5b8ad6" stroke-width="0.6"/>
<line x1="946.4" y1="641.2" x2="966.3" y2="612.6" stroke="#5b8ad6" stroke-width="0.6"/>
<line x1="946.4" y1="641.2" x2="966.3" y2="641.2" stroke="#5b8ad6" stroke-width="0.6"/>
<line x1="946.4" y1="641.2" x2="966.3" y2="667.3" stroke="#5b8ad6" stroke-width="0.6"/>
<line x1="946.4" y1="641.2" x2="966.3" y2="696.8" stroke="#5b8ad6" stroke-width="0.6"/>
<line x1="946.4" y1="667.3" x2="966.3" y2="612.6" stroke="#5b8ad6" stroke-width="0.6"/>
<line x1="946.4" y1="667.3" x2="966.3" y2="641.2" stroke="#5b8ad6" stroke-width="0.6"/>
<line x1="946.4" y1="667.3" x2="966.3" y2="667.3" stroke="#5b8ad6" stroke-width="0.6"/>
<line x1="946.4" y1="667.3" x2="966.3" y2="696.8" stroke="#5b8ad6" stroke-width="0.6"/>
<line x1="946.4" y1="696.8" x2="966.3" y2="612.6" stroke="#5b8ad6" stroke-width="0.6"/>
<line x1="946.4" y1="696.8" x2="966.3" y2="641.2" stroke="#5b8ad6" stroke-width="0.6"/>
<line x1="946.4" y1="696.8" x2="966.3" y2="667.3" stroke="#5b8ad6" stroke-width="0.6"/>
<line x1="946.4" y1="696.8" x2="966.3" y2="696.8" stroke="#5b8ad6" stroke-width="0.6"/>
<line x1="982.3" y1="612.6" x2="994.3" y2="627.2" stroke="#5b8ad6" stroke-width="0.6"/>
<line x1="982.3" y1="612.6" x2="994.3" y2="656.1" stroke="#5b8ad6" stroke-width="0.6"/>
<line x1="982.3" y1="612.6" x2="994.3" y2="682.2" stroke="#5b8ad6" stroke-width="0.6"/>
<line x1="982.3" y1="641.2" x2="994.3" y2="627.2" stroke="#5b8ad6" stroke-width="0.6"/>
<line x1="982.3" y1="641.2" x2="994.3" y2="656.1" stroke="#5b8ad6" stroke-width="0.6"/>
<line x1="982.3" y1="641.2" x2="994.3" y2="682.2" stroke="#5b8ad6" stroke-width="0.6"/>
<line x1="982.3" y1="667.3" x2="994.3" y2="627.2" stroke="#5b8ad6" stroke-width="0.6"/>
<line x1="982.3" y1="667.3" x2="994.3" y2="656.1" stroke="#5b8ad6" stroke-width="0.6"/>
<line x1="982.3" y1="667.3" x2="994.3" y2="682.2" stroke="#5b8ad6" stroke-width="0.6"/>
<line x1="982.3" y1="696.8" x2="994.3" y2="627.2" stroke="#5b8ad6" stroke-width="0.6"/>
<line x1="982.3" y1="696.8" x2="994.3" y2="656.1" stroke="#5b8ad6" stroke-width="0.6"/>
<line x1="982.3" y1="696.8" x2="994.3" y2="682.2" stroke="#5b8ad6" stroke-width="0.6"/>
<line x1="1010.3" y1="627.2" x2="1033.6" y2="612.6" stroke="#5b8ad6" stroke-width="0.6"/>
<line x1="1010.3" y1="627.2" x2="1033.6" y2="641.2" stroke="#5b8ad6" stroke-width="0.6"/>
<line x1="1010.3" y1="627.2" x2="1033.6" y2="667.3" stroke="#5b8ad6" stroke-width="0.6"/>
<line x1="1010.3" y1="627.2" x2="1033.6" y2="696.8" stroke="#5b8ad6" stroke-width="0.6"/>
<line x1="1010.3" y1="656.1" x2="1033.6" y2="612.6" stroke="#5b8ad6" stroke-width="0.6"/>
<line x1="1010.3" y1="656.1" x2="1033.6" y2="641.2" stroke="#5b8ad6" stroke-width="0.6"/>
<line x1="1010.3" y1="656.1" x2="1033.6" y2="667.3" stroke="#5b8ad6" stroke-width="0.6"/>
<line x1="1010.3" y1="656.1" x2="1033.6" y2="696.8" stroke="#5b8ad6" stroke-width="0.6"/>
<line x1="1010.3" y1="682.2" x2="1033.6" y2="612.6" stroke="#5b8ad6" stroke-width="0.6"/>
<line x1="1010.3" y1="682.2" x2="1033.6" y2="641.2" stroke="#5b8ad6" stroke-width="0.6"/>
<line x1="1010.3" y1="682.2" x2="1033.6" y2="667.3" stroke="#5b8ad6" stroke-width="0.6"/>
<line x1="1010.3" y1="682.2" x2="1033.6" y2="696.8" stroke="#5b8ad6" stroke-width="0.6"/>
<ellipse cx="938.4" cy="612.6" rx="8.3" ry="8.8" fill="#c9cdd8" stroke="#333" stroke-width="0.8"/>
<ellipse cx="938.4" cy="641.2" rx="8.3" ry="8.8" fill="#c9cdd8" stroke="#333" stroke-width="0.8"/>
<ellipse cx="938.4" cy="667.3" rx="8.3" ry="8.8" fill="#c9cdd8" stroke="#333" stroke-width="0.8"/>
<ellipse cx="938.4" cy="696.8" rx="8.3" ry="8.8" fill="#c9cdd8" stroke="#333" stroke-width="0.8"/>
<ellipse cx="974.3" cy="612.6" rx="8.3" ry="8.8" fill="#9a6cc0" stroke="#333" stroke-width="0.8"/>
<ellipse cx="974.3" cy="641.2" rx="8.3" ry="8.8" fill="#9a6cc0" stroke="#333" stroke-width="0.8"/>
<ellipse cx="974.3" cy="667.3" rx="8.3" ry="8.8" fill="#9a6cc0" stroke="#333" stroke-width="0.8"/>
<ellipse cx="974.3" cy="696.8" rx="8.3" ry="8.8" fill="#9a6cc0" stroke="#333" stroke-width="0.8"/>
<ellipse cx="1002.3" cy="627.2" rx="8.3" ry="8.8" fill="#9a6cc0" stroke="#333" stroke-width="0.8"/>
<ellipse cx="1002.3" cy="656.1" rx="8.3" ry="8.8" fill="#9a6cc0" stroke="#333" stroke-width="0.8"/>
<ellipse cx="1002.3" cy="682.2" rx="8.3" ry="8.8" fill="#9a6cc0" stroke="#333" stroke-width="0.8"/>
<ellipse cx="1041.6" cy="612.6" rx="8.3" ry="8.8" fill="#9dc3e6" stroke="#333" stroke-width="0.8"/>
<ellipse cx="1041.6" cy="641.2" rx="8.3" ry="8.8" fill="#9dc3e6" stroke="#333" stroke-width="0.8"/>
<ellipse cx="1041.6" cy="667.3" rx="8.3" ry="8.8" fill="#9dc3e6" stroke="#333" stroke-width="0.8"/>
<ellipse cx="1041.6" cy="696.8" rx="8.3" ry="8.8" fill="#9dc3e6" stroke="#333" stroke-width="0.8"/>
<line x1="1096.9" y1="664.5" x2="1181.0" y2="581.7" stroke="#4472c4" stroke-width="2.4" marker-end="url(#ahb)"/>
<line x1="1096.9" y1="664.5" x2="1181.0" y2="622.4" stroke="#4472c4" stroke-width="2.4" marker-end="url(#ahb)"/>
<line x1="1096.9" y1="664.5" x2="1181.0" y2="687.0" stroke="#4472c4" stroke-width="2.4" marker-end="url(#ahb)"/>
<line x1="1096.9" y1="664.5" x2="1181.0" y2="729.0" stroke="#4472c4" stroke-width="2.4" marker-end="url(#ahb)"/>
<rect x="1183.9" y="562.0" width="88.4" height="36.6" fill="#dcc4f6" rx="5"/>
<text x="1218" y="588.3" font-family="Liberation Serif" font-size="22" font-weight="bold" font-style="italic" fill="#000">ϕ<tspan font-size="13" dy="-9">sr</tspan><tspan font-size="13" dx="-13" dy="16">1</tspan></text>
<line x1="1273.7" y1="580.3" x2="1324.0" y2="580.3" stroke="#4472c4" stroke-width="2.4" marker-end="url(#ahb)"/>
<rect x="1183.9" y="602.0" width="88.4" height="37.3" fill="#d3e2f4" rx="5"/>
<text x="1218" y="628.6" font-family="Liberation Serif" font-size="22" font-weight="bold" font-style="italic" fill="#4472c4">ϕ<tspan font-size="13" dy="-9">tt</tspan><tspan font-size="13" dx="-13" dy="16">1</tspan></text>
<line x1="1273.7" y1="620.6" x2="1324.0" y2="620.6" stroke="#4472c4" stroke-width="2.4" marker-end="url(#ahb)"/>
<rect x="1183.9" y="668.7" width="88.4" height="36.5" fill="#dcc4f6" rx="5"/>
<text x="1218" y="695.0" font-family="Liberation Serif" font-size="22" font-weight="bold" font-style="italic" fill="#000">ϕ<tspan font-size="13" dy="-9">sr</tspan><tspan font-size="13" dx="-13" dy="16">T</tspan></text>
<line x1="1273.7" y1="687.0" x2="1324.0" y2="687.0" stroke="#4472c4" stroke-width="2.4" marker-end="url(#ahb)"/>
<rect x="1183.9" y="711.4" width="88.4" height="36.4" fill="#d3e2f4" rx="5"/>
<text x="1218" y="737.6" font-family="Liberation Serif" font-size="22" font-weight="bold" font-style="italic" fill="#4472c4">ϕ<tspan font-size="13" dy="-9">tt</tspan><tspan font-size="13" dx="-13" dy="16">T</tspan></text>
<line x1="1273.7" y1="729.6" x2="1324.0" y2="729.6" stroke="#4472c4" stroke-width="2.4" marker-end="url(#ahb)"/>
<line x1="1228.0" y1="641.0" x2="1228.0" y2="666.5" stroke="#4472c4" stroke-width="2" stroke-dasharray="2.5 3"/>
<line x1="1371.9" y1="645.0" x2="1371.9" y2="663.0" stroke="#4472c4" stroke-width="2" stroke-dasharray="2.5 3"/>
<rect x="1319.9" y="559.2" width="101.2" height="83.0" fill="none" stroke="#2f55a4" stroke-width="2.6"/>
<rect x="1319.9" y="665.8" width="101.2" height="84.4" fill="none" stroke="#2f55a4" stroke-width="2.6"/>
<rect x="1326.0" y="562.0" width="88.8" height="36.0" fill="#fff9c8" rx="5"/>
<text x="1370.5" y="576.0" font-family="Liberation Serif" font-size="15.5" text-anchor="middle" font-weight="bold">ASR</text>
<text x="1370.5" y="593.5" font-family="Liberation Serif" font-size="15.5" text-anchor="middle" font-weight="bold">output</text>
<rect x="1326.0" y="601.4" width="88.8" height="37.9" fill="#c6cdd7" rx="5"/>
<text x="1370.5" y="616.8" font-family="Liberation Serif" font-size="15.5" text-anchor="middle" font-weight="bold">S2TT</text>
<text x="1370.5" y="634.5" font-family="Liberation Serif" font-size="15.5" text-anchor="middle" font-weight="bold">output</text>
<rect x="1326.0" y="668.7" width="88.8" height="36.5" fill="#f9e1d8" rx="5"/>
<text x="1370.5" y="683.6" font-family="Liberation Serif" font-size="15.5" text-anchor="middle" font-weight="bold">ASR</text>
<text x="1370.5" y="701.8" font-family="Liberation Serif" font-size="15.5" text-anchor="middle" font-weight="bold">output</text>
<rect x="1326.0" y="710.2" width="88.8" height="37.1" fill="#e7efe1" rx="5"/>
<text x="1370.5" y="724.3" font-family="Liberation Serif" font-size="15.5" text-anchor="middle" font-weight="bold">S2TT</text>
<text x="1370.5" y="743.1" font-family="Liberation Serif" font-size="15.5" text-anchor="middle" font-weight="bold">output</text>
<rect x="57.2" y="938.4" width="780.7" height="106.3" fill="#fff" stroke="#2f55a4" stroke-width="3.5"/>
<text x="123.0" y="981.7" font-family="Liberation Sans" font-size="39.0" font-weight="bold" fill="#ff0000" textLength="647.6" lengthAdjust="spacingAndGlyphs">How do conflicting objectives hurt</text>
<text x="314.0" y="1031.0" font-family="Liberation Sans" font-size="39.0" font-weight="bold" fill="#ff0000" textLength="264.0" lengthAdjust="spacingAndGlyphs">performance?</text>
<text x="34.0" y="1092.6" font-family="Liberation Sans" font-size="35.0" textLength="735.4" lengthAdjust="spacingAndGlyphs"><tspan font-weight="bold">Illustration shows two conflicting objectives:</tspan></text>
<circle cx="57.5" cy="1136.9" r="4.5" fill="#000"/>
<circle cx="57.5" cy="1201.0" r="4.5" fill="#000"/>
<circle cx="57.5" cy="1265.7" r="4.5" fill="#000"/>
<text x="96.8" y="1146.9" font-family="Liberation Sans" font-size="35.0" textLength="723.2" lengthAdjust="spacingAndGlyphs">Each task pulls the model in a different direction.</text>
<text x="96.8" y="1211.0" font-family="Liberation Sans" font-size="35.0" textLength="606.0" lengthAdjust="spacingAndGlyphs">Trade-offs visualized as the <tspan font-weight="bold" fill="#ff0000">Pareto front.</tspan></text>
<text x="96.8" y="1275.7" font-family="Liberation Sans" font-size="35.0" textLength="699.7" lengthAdjust="spacingAndGlyphs">Pareto front: the set of solutions where no task</text>
<text x="96.8" y="1317.6" font-family="Liberation Sans" font-size="35.0" textLength="547.2" lengthAdjust="spacingAndGlyphs">can improve without hurting another</text>
<path d="M1055.7 938.2 C1090 950 1130 990 1162.3 1021.8 L1283.5 1162.3 C1320 1205 1350 1225 1346.5 1240 C1340 1258 1300 1258 1270 1255 C1200 1246 1150 1232 1120 1220 C1060 1192 1040 1150 1032 1100 C1024 1060 1020 1000 1033.9 968.5 C1040 950 1048 938 1055.7 938.2 Z" fill="#a49253"/>
<path d="M1036.3 1116.3 C1050 1170 1090 1225 1147.8 1229 L1166 1226.5" fill="none" stroke="#c00000" stroke-width="5.5"/>
<line x1="1014.5" y1="1265.3" x2="1014.5" y2="940.0" stroke="#4472c4" stroke-width="3"/>
<path d="M1008 942 L1014.5 931 L1021 942 Z" fill="#4472c4"/>
<line x1="1013.0" y1="1264.0" x2="1340.0" y2="1264.0" stroke="#4472c4" stroke-width="3"/>
<path d="M1338 1257.5 L1349 1264 L1338 1270.5 Z" fill="#4472c4"/>
<text x="1110.2" y="1029.0" font-family="Liberation Serif" font-size="21.0" text-anchor="middle">Feasible</text>
<text x="1110.2" y="1056.9" font-family="Liberation Serif" font-size="21.0" text-anchor="middle">objective</text>
<text x="1110.2" y="1084.8" font-family="Liberation Serif" font-size="21.0" text-anchor="middle">space</text>
<text x="1149.7" y="1167.1" font-family="Liberation Serif" font-size="21.0" text-anchor="middle" font-weight="bold" fill="#c00000">Pareto</text>
<text x="1150.2" y="1194.3" font-family="Liberation Serif" font-size="21.0" text-anchor="middle" font-weight="bold" fill="#c00000">optimal front</text>
<text x="940.6" y="984.2" font-family="Liberation Serif" font-size="20.0" textLength="47.0" lengthAdjust="spacingAndGlyphs"><tspan font-family="Liberation Serif"><tspan font-size="20.0" font-style="italic">ℓ</tspan><tspan font-size="14.0" dy="5.60">2</tspan><tspan font-size="20.0" dy="-5.60">(Θ)</tspan></tspan></text>
<text x="1266.5" y="1289.5" font-family="Liberation Serif" font-size="20.0" textLength="46.0" lengthAdjust="spacingAndGlyphs"><tspan font-family="Liberation Serif"><tspan font-size="20.0" font-style="italic">ℓ</tspan><tspan font-size="14.0" dy="5.60">1</tspan><tspan font-size="20.0" dy="-5.60">(Θ)</tspan></tspan></text>
<rect x="778.0" y="1299.0" width="647.0" height="74.0" fill="#b4b4b4"/>
<text x="784.0" y="1330.0" font-family="Liberation Sans" font-size="28.0" textLength="597.0" lengthAdjust="spacingAndGlyphs">Figure 2: Conflicting objectives have optima at opposite</text>
<text x="784.0" y="1361.0" font-family="Liberation Sans" font-size="28.0" textLength="110.0" lengthAdjust="spacingAndGlyphs">directions.</text>
<text x="71.0" y="1434.8" font-family="Liberation Sans" font-size="37.0" font-weight="bold" fill="#2e75b6" textLength="1313.0" lengthAdjust="spacingAndGlyphs">Represent MSP objectives by a vector combining CTC loss (ASR) and</text>
<text x="254.0" y="1484.0" font-family="Liberation Sans" font-size="37.0" font-weight="bold" fill="#2e75b6" textLength="948.0" lengthAdjust="spacingAndGlyphs">Cross Entropy (CE) loss (ST) for joint optimization</text>
<text x="52.3" y="1577.0" font-family="Liberation Serif" font-size="38.0" textLength="49.0" lengthAdjust="spacingAndGlyphs"><tspan font-family="Liberation Serif"><tspan font-size="38.0">min</tspan></tspan></text>
<text x="47.0" y="1596.0" font-family="Liberation Serif" font-size="24.8" textLength="61.0" lengthAdjust="spacingAndGlyphs"><tspan font-family="Liberation Serif"><tspan font-size="24.8">Θ∈ℝ</tspan><tspan font-size="17.4" dy="-9.92" font-style="italic">q</tspan><tspan dy="9.92">​</tspan></tspan></text>
<text x="137.0" y="1580.0" font-family="Liberation Serif" font-size="40.0" textLength="109.5" lengthAdjust="spacingAndGlyphs"><tspan font-family="Liberation Serif"><tspan font-size="40.0" font-style="italic">ℒ</tspan><tspan font-size="40.0">(Θ) :=</tspan></tspan></text>
<path d="M271.0 1542.0 H263.0 V1596.0 H271.0" fill="none" stroke="#000" stroke-width="2.2"/>
<text x="274.6" y="1580.0" font-family="Liberation Serif" font-size="40.0" textLength="309.0" lengthAdjust="spacingAndGlyphs"><tspan font-family="Liberation Serif"><tspan font-size="40.0" font-style="italic">ℓ</tspan><tspan font-size="28.0" dy="11.20">ctc</tspan><tspan font-size="40.0" dy="-11.20">(</tspan><tspan font-size="40.0" font-style="italic">θ</tspan><tspan font-size="40.0">, </tspan><tspan font-size="40.0" font-style="italic">ϕ</tspan><tspan font-size="28.0" dy="11.20">1,1</tspan><tspan font-size="40.0" dy="-11.20">), </tspan><tspan font-size="40.0" font-style="italic">ℓ</tspan><tspan font-size="28.0" dy="11.20">ce</tspan><tspan font-size="40.0" dy="-11.20">(</tspan><tspan font-size="40.0" font-style="italic">θ</tspan><tspan font-size="40.0">, </tspan><tspan font-size="40.0" font-style="italic">ϕ</tspan><tspan font-size="28.0" dy="11.20">1,2</tspan><tspan font-size="40.0" dy="-11.20">)</tspan></tspan></text>
<text x="586.0" y="1580.0" font-family="Liberation Serif" font-size="40.0" textLength="64.0" lengthAdjust="spacingAndGlyphs"><tspan font-family="Liberation Serif"><tspan font-size="40.0">, . . . ,</tspan></tspan></text>
<text x="652.7" y="1580.0" font-family="Liberation Serif" font-size="40.0" textLength="317.0" lengthAdjust="spacingAndGlyphs"><tspan font-family="Liberation Serif"><tspan font-size="40.0" font-style="italic">ℓ</tspan><tspan font-size="28.0" dy="11.20">ctc</tspan><tspan font-size="40.0" dy="-11.20">(</tspan><tspan font-size="40.0" font-style="italic">θ</tspan><tspan font-size="40.0">, </tspan><tspan font-size="40.0" font-style="italic">ϕ</tspan><tspan font-size="28.0" dy="11.20">T,1</tspan><tspan font-size="40.0" dy="-11.20">), </tspan><tspan font-size="40.0" font-style="italic">ℓ</tspan><tspan font-size="28.0" dy="11.20">ce</tspan><tspan font-size="40.0" dy="-11.20">(</tspan><tspan font-size="40.0" font-style="italic">θ</tspan><tspan font-size="40.0">, </tspan><tspan font-size="40.0" font-style="italic">ϕ</tspan><tspan font-size="28.0" dy="11.20">T,2</tspan><tspan font-size="40.0" dy="-11.20">)</tspan></tspan></text>
<text x="969.7" y="1580.0" font-family="Liberation Serif" font-size="40.0" textLength="82.0" lengthAdjust="spacingAndGlyphs"><tspan font-family="Liberation Serif"><tspan font-size="40.0">, </tspan><tspan font-size="40.0" font-style="italic">ℓ</tspan><tspan font-size="28.0" dy="11.20">u</tspan><tspan font-size="40.0" dy="-11.20">(</tspan><tspan font-size="40.0" font-style="italic">θ</tspan><tspan font-size="40.0">)</tspan></tspan></text>
<path d="M1051.0 1542.0 H1059.0 V1596.0 H1051.0" fill="none" stroke="#000" stroke-width="2.2"/>
<path d="M274.6 1585.8 Q274.6 1594.8 288.0 1594.8 L416.4 1594.8 Q429.8 1594.8 429.8 1603.7 Q429.8 1594.8 443.2 1594.8 L571.6 1594.8 Q585.0 1594.8 585.0 1585.8" fill="none" stroke="#000" stroke-width="2.4"/>
<path d="M651.8 1585.8 Q651.8 1594.8 665.2 1594.8 L798.0 1594.8 Q811.4 1594.8 811.4 1603.7 Q811.4 1594.8 824.8 1594.8 L957.6 1594.8 Q971.0 1594.8 971.0 1585.8" fill="none" stroke="#000" stroke-width="2.4"/>
<text x="289.0" y="1628.2" font-family="Liberation Serif" font-size="20.8" textLength="282.5" lengthAdjust="spacingAndGlyphs"><tspan font-family="Liberation Serif"><tspan font-size="20.8">1-st language with 2 tasks</tspan></tspan></text>
<text x="664.8" y="1628.2" font-family="Liberation Serif" font-size="20.8" textLength="293.7" lengthAdjust="spacingAndGlyphs"><tspan font-family="Liberation Serif"><tspan font-size="20.8" font-style="italic">T</tspan><tspan font-size="20.8">-th language with 2 tasks</tspan></tspan></text>
<rect x="1077.6" y="1503.0" width="345.4" height="172.7" fill="#b4c7e7"/>
<text x="1085.0" y="1542.0" font-family="Liberation Sans" font-size="35.0" textLength="290.0" lengthAdjust="spacingAndGlyphs"><tspan font-family="Liberation Serif" font-style="italic">θ</tspan> = shared backbone</text>
<text x="1085.0" y="1580.0" font-family="Liberation Sans" font-size="35.0" textLength="153.0" lengthAdjust="spacingAndGlyphs">parameters</text>
<text x="1085.0" y="1620.0" font-family="Liberation Sans" font-size="35.0" textLength="285.0" lengthAdjust="spacingAndGlyphs"><tspan font-family="Liberation Serif" font-style="italic">ϕ</tspan>= task specific head</text>
<text x="1085.0" y="1660.0" font-family="Liberation Sans" font-size="35.0" textLength="307.0" lengthAdjust="spacingAndGlyphs"><tspan font-family="Liberation Serif" font-style="italic">l<tspan font-size="24" dy="8">u</tspan></tspan><tspan dy="-8"> = unsupervised loss</tspan></text>
<rect x="23.4" y="1708.0" width="782.4" height="268.6" fill="#c9c9c9"/>
<text x="30.8" y="1749.7" font-family="Liberation Sans" font-size="35.0" textLength="289.8" lengthAdjust="spacingAndGlyphs"><tspan font-weight="bold">Static weighting:</tspan></text>
<circle cx="36" cy="1803.4" r="5" fill="#000"/>
<circle cx="36" cy="1866.3" r="5" fill="#000"/>
<circle cx="36" cy="1929.8" r="5" fill="#000"/>
<text x="75.2" y="1814.4" font-family="Liberation Sans" font-size="36.0" textLength="704.8" lengthAdjust="spacingAndGlyphs">Combines objectives using fixed multipliers.</text>
<text x="75.2" y="1877.3" font-family="Liberation Sans" font-size="36.0" textLength="599.8" lengthAdjust="spacingAndGlyphs">It optimizes a single aggregated loss.</text>
<text x="75.2" y="1940.8" font-family="Liberation Sans" font-size="36.0" textLength="657.2" lengthAdjust="spacingAndGlyphs">It fails to adapt when objectives conflicts.</text>
<rect x="27.7" y="2001.0" width="775.0" height="145.0" fill="#c9c9c9"/>
<text x="34.0" y="2045.6" font-family="Liberation Sans" font-size="36.0" textLength="758.0" lengthAdjust="spacingAndGlyphs">Cosine similarity shows strong <tspan font-weight="bold" fill="#ff0000">conflict among</tspan></text>
<text x="34.0" y="2088.8" font-family="Liberation Sans" font-size="36.0" textLength="719.4" lengthAdjust="spacingAndGlyphs"><tspan font-weight="bold" fill="#ff0000">the MSP objectives</tspan> when <tspan font-weight="bold">Static weighting</tspan></text>
<text x="34.0" y="2132.0" font-family="Liberation Sans" font-size="36.0" textLength="255.8" lengthAdjust="spacingAndGlyphs">method is used.</text>
<defs><linearGradient id="hmg" x1="0" y1="0" x2="0" y2="1"><stop offset="0" stop-color="#ffffff"/><stop offset="1" stop-color="#e9e9e9"/></linearGradient></defs>
<rect x="806.0" y="2193.0" width="625.0" height="26.7" fill="url(#hmg)"/>
<rect x="873.7" y="1708.7" width="46.1" height="45.8" fill="#b40426"/>
<rect x="919.3" y="1708.7" width="46.1" height="45.8" fill="#84a7fc"/>
<rect x="965.0" y="1708.7" width="46.1" height="45.8" fill="#82a6fb"/>
<rect x="1010.6" y="1708.7" width="46.1" height="45.8" fill="#82a6fb"/>
<rect x="1056.2" y="1708.7" width="46.1" height="45.8" fill="#80a3fa"/>
<rect x="1101.9" y="1708.7" width="46.1" height="45.8" fill="#688aef"/>
<rect x="1147.5" y="1708.7" width="46.1" height="45.8" fill="#455cce"/>
<rect x="1193.1" y="1708.7" width="46.1" height="45.8" fill="#6180e9"/>
<rect x="1238.7" y="1708.7" width="46.1" height="45.8" fill="#5977e3"/>
<rect x="1284.4" y="1708.7" width="46.1" height="45.8" fill="#c3d5f4"/>
<rect x="873.7" y="1754.0" width="46.1" height="45.8" fill="#84a7fc"/>
<rect x="919.3" y="1754.0" width="46.1" height="45.8" fill="#b40426"/>
<rect x="965.0" y="1754.0" width="46.1" height="45.8" fill="#82a6fb"/>
<rect x="1010.6" y="1754.0" width="46.1" height="45.8" fill="#84a7fc"/>
<rect x="1056.2" y="1754.0" width="46.1" height="45.8" fill="#81a4fb"/>
<rect x="1101.9" y="1754.0" width="46.1" height="45.8" fill="#7093f3"/>
<rect x="1147.5" y="1754.0" width="46.1" height="45.8" fill="#4055c8"/>
<rect x="1193.1" y="1754.0" width="46.1" height="45.8" fill="#6c8ff1"/>
<rect x="1238.7" y="1754.0" width="46.1" height="45.8" fill="#6384eb"/>
<rect x="1284.4" y="1754.0" width="46.1" height="45.8" fill="#b6cefa"/>
<rect x="873.7" y="1799.3" width="46.1" height="45.8" fill="#82a6fb"/>
<rect x="919.3" y="1799.3" width="46.1" height="45.8" fill="#82a6fb"/>
<rect x="965.0" y="1799.3" width="46.1" height="45.8" fill="#b40426"/>
<rect x="1010.6" y="1799.3" width="46.1" height="45.8" fill="#7396f5"/>
<rect x="1056.2" y="1799.3" width="46.1" height="45.8" fill="#7295f4"/>
<rect x="1101.9" y="1799.3" width="46.1" height="45.8" fill="#455cce"/>
<rect x="1147.5" y="1799.3" width="46.1" height="45.8" fill="#5673e0"/>
<rect x="1193.1" y="1799.3" width="46.1" height="45.8" fill="#4c66d6"/>
<rect x="1238.7" y="1799.3" width="46.1" height="45.8" fill="#3b4cc0"/>
<rect x="1284.4" y="1799.3" width="46.1" height="45.8" fill="#89acfd"/>
<rect x="873.7" y="1844.6" width="46.1" height="45.8" fill="#82a6fb"/>
<rect x="919.3" y="1844.6" width="46.1" height="45.8" fill="#84a7fc"/>
<rect x="965.0" y="1844.6" width="46.1" height="45.8" fill="#7396f5"/>
<rect x="1010.6" y="1844.6" width="46.1" height="45.8" fill="#b40426"/>
<rect x="1056.2" y="1844.6" width="46.1" height="45.8" fill="#82a6fb"/>
<rect x="1101.9" y="1844.6" width="46.1" height="45.8" fill="#6180e9"/>
<rect x="1147.5" y="1844.6" width="46.1" height="45.8" fill="#3c4ec2"/>
<rect x="1193.1" y="1844.6" width="46.1" height="45.8" fill="#6e90f2"/>
<rect x="1238.7" y="1844.6" width="46.1" height="45.8" fill="#5e7de7"/>
<rect x="1284.4" y="1844.6" width="46.1" height="45.8" fill="#8db0fe"/>
<rect x="873.7" y="1889.9" width="46.1" height="45.8" fill="#80a3fa"/>
<rect x="919.3" y="1889.9" width="46.1" height="45.8" fill="#81a4fb"/>
<rect x="965.0" y="1889.9" width="46.1" height="45.8" fill="#7295f4"/>
<rect x="1010.6" y="1889.9" width="46.1" height="45.8" fill="#82a6fb"/>
<rect x="1056.2" y="1889.9" width="46.1" height="45.8" fill="#b40426"/>
<rect x="1101.9" y="1889.9" width="46.1" height="45.8" fill="#6b8df0"/>
<rect x="1147.5" y="1889.9" width="46.1" height="45.8" fill="#485fd1"/>
<rect x="1193.1" y="1889.9" width="46.1" height="45.8" fill="#6687ed"/>
<rect x="1238.7" y="1889.9" width="46.1" height="45.8" fill="#516ddb"/>
<rect x="1284.4" y="1889.9" width="46.1" height="45.8" fill="#8db0fe"/>
<rect x="873.7" y="1935.2" width="46.1" height="45.8" fill="#688aef"/>
<rect x="919.3" y="1935.2" width="46.1" height="45.8" fill="#6c8ff1"/>
<rect x="965.0" y="1935.2" width="46.1" height="45.8" fill="#455cce"/>
<rect x="1010.6" y="1935.2" width="46.1" height="45.8" fill="#6180e9"/>
<rect x="1056.2" y="1935.2" width="46.1" height="45.8" fill="#6b8df0"/>
<rect x="1101.9" y="1935.2" width="46.1" height="45.8" fill="#b40426"/>
<rect x="1147.5" y="1935.2" width="46.1" height="45.8" fill="#7ea1fa"/>
<rect x="1193.1" y="1935.2" width="46.1" height="45.8" fill="#80a3fa"/>
<rect x="1238.7" y="1935.2" width="46.1" height="45.8" fill="#80a3fa"/>
<rect x="1284.4" y="1935.2" width="46.1" height="45.8" fill="#93b5fe"/>
<rect x="873.7" y="1980.6" width="46.1" height="45.8" fill="#455cce"/>
<rect x="919.3" y="1980.6" width="46.1" height="45.8" fill="#4055c8"/>
<rect x="965.0" y="1980.6" width="46.1" height="45.8" fill="#5673e0"/>
<rect x="1010.6" y="1980.6" width="46.1" height="45.8" fill="#3c4ec2"/>
<rect x="1056.2" y="1980.6" width="46.1" height="45.8" fill="#485fd1"/>
<rect x="1101.9" y="1980.6" width="46.1" height="45.8" fill="#7ea1fa"/>
<rect x="1147.5" y="1980.6" width="46.1" height="45.8" fill="#b40426"/>
<rect x="1193.1" y="1980.6" width="46.1" height="45.8" fill="#7b9ff9"/>
<rect x="1238.7" y="1980.6" width="46.1" height="45.8" fill="#7da0f9"/>
<rect x="1284.4" y="1980.6" width="46.1" height="45.8" fill="#8caffe"/>
<rect x="873.7" y="2025.9" width="46.1" height="45.8" fill="#6180e9"/>
<rect x="919.3" y="2025.9" width="46.1" height="45.8" fill="#6c8ff1"/>
<rect x="965.0" y="2025.9" width="46.1" height="45.8" fill="#4c66d6"/>
<rect x="1010.6" y="2025.9" width="46.1" height="45.8" fill="#6e90f2"/>
<rect x="1056.2" y="2025.9" width="46.1" height="45.8" fill="#6687ed"/>
<rect x="1101.9" y="2025.9" width="46.1" height="45.8" fill="#80a3fa"/>
<rect x="1147.5" y="2025.9" width="46.1" height="45.8" fill="#7b9ff9"/>
<rect x="1193.1" y="2025.9" width="46.1" height="45.8" fill="#b40426"/>
<rect x="1238.7" y="2025.9" width="46.1" height="45.8" fill="#7ea1fa"/>
<rect x="1284.4" y="2025.9" width="46.1" height="45.8" fill="#97b8ff"/>
<rect x="873.7" y="2071.2" width="46.1" height="45.8" fill="#5977e3"/>
<rect x="919.3" y="2071.2" width="46.1" height="45.8" fill="#6384eb"/>
<rect x="965.0" y="2071.2" width="46.1" height="45.8" fill="#3b4cc0"/>
<rect x="1010.6" y="2071.2" width="46.1" height="45.8" fill="#5e7de7"/>
<rect x="1056.2" y="2071.2" width="46.1" height="45.8" fill="#516ddb"/>
<rect x="1101.9" y="2071.2" width="46.1" height="45.8" fill="#80a3fa"/>
<rect x="1147.5" y="2071.2" width="46.1" height="45.8" fill="#7da0f9"/>
<rect x="1193.1" y="2071.2" width="46.1" height="45.8" fill="#7ea1fa"/>
<rect x="1238.7" y="2071.2" width="46.1" height="45.8" fill="#b40426"/>
<rect x="1284.4" y="2071.2" width="46.1" height="45.8" fill="#94b6ff"/>
<rect x="873.7" y="2116.5" width="46.1" height="45.8" fill="#c3d5f4"/>
<rect x="919.3" y="2116.5" width="46.1" height="45.8" fill="#b6cefa"/>
<rect x="965.0" y="2116.5" width="46.1" height="45.8" fill="#89acfd"/>
<rect x="1010.6" y="2116.5" width="46.1" height="45.8" fill="#8db0fe"/>
<rect x="1056.2" y="2116.5" width="46.1" height="45.8" fill="#8db0fe"/>
<rect x="1101.9" y="2116.5" width="46.1" height="45.8" fill="#93b5fe"/>
<rect x="1147.5" y="2116.5" width="46.1" height="45.8" fill="#8caffe"/>
<rect x="1193.1" y="2116.5" width="46.1" height="45.8" fill="#97b8ff"/>
<rect x="1238.7" y="2116.5" width="46.1" height="45.8" fill="#94b6ff"/>
<rect x="1284.4" y="2116.5" width="46.1" height="45.8" fill="#b40426"/>
<text x="896.5" y="1734.9" font-family="Liberation Sans" font-size="10.0" text-anchor="middle" font-weight="bold" fill="#ffffff" textLength="6.0" lengthAdjust="spacingAndGlyphs">1</text>
<text x="942.1" y="1734.9" font-family="Liberation Sans" font-size="10.0" text-anchor="middle" font-weight="bold" fill="#ffffff" textLength="41.5" lengthAdjust="spacingAndGlyphs">-0.0093</text>
<text x="987.8" y="1734.9" font-family="Liberation Sans" font-size="10.0" text-anchor="middle" font-weight="bold" fill="#ffffff" textLength="36.0" lengthAdjust="spacingAndGlyphs">-0.013</text>
<text x="1033.4" y="1734.9" font-family="Liberation Sans" font-size="10.0" text-anchor="middle" font-weight="bold" fill="#ffffff" textLength="36.0" lengthAdjust="spacingAndGlyphs">-0.015</text>
<text x="1079.0" y="1734.9" font-family="Liberation Sans" font-size="10.0" text-anchor="middle" font-weight="bold" fill="#ffffff" textLength="36.0" lengthAdjust="spacingAndGlyphs">-0.025</text>
<text x="1124.7" y="1734.9" font-family="Liberation Sans" font-size="10.0" text-anchor="middle" font-weight="bold" fill="#ffffff" textLength="30.0" lengthAdjust="spacingAndGlyphs">-0.11</text>
<text x="1170.3" y="1734.9" font-family="Liberation Sans" font-size="10.0" text-anchor="middle" font-weight="bold" fill="#ffffff" textLength="30.0" lengthAdjust="spacingAndGlyphs">-0.25</text>
<text x="1215.9" y="1734.9" font-family="Liberation Sans" font-size="10.0" text-anchor="middle" font-weight="bold" fill="#ffffff" textLength="30.0" lengthAdjust="spacingAndGlyphs">-0.14</text>
<text x="1261.6" y="1734.9" font-family="Liberation Sans" font-size="10.0" text-anchor="middle" font-weight="bold" fill="#ffffff" textLength="30.0" lengthAdjust="spacingAndGlyphs">-0.17</text>
<text x="1307.2" y="1734.9" font-family="Liberation Sans" font-size="10.0" text-anchor="middle" font-weight="bold" fill="#262626" textLength="24.0" lengthAdjust="spacingAndGlyphs">0.23</text>
<text x="896.5" y="1780.2" font-family="Liberation Sans" font-size="10.0" text-anchor="middle" font-weight="bold" fill="#ffffff" textLength="41.5" lengthAdjust="spacingAndGlyphs">-0.0093</text>
<text x="942.1" y="1780.2" font-family="Liberation Sans" font-size="10.0" text-anchor="middle" font-weight="bold" fill="#ffffff" textLength="6.0" lengthAdjust="spacingAndGlyphs">1</text>
<text x="987.8" y="1780.2" font-family="Liberation Sans" font-size="10.0" text-anchor="middle" font-weight="bold" fill="#ffffff" textLength="36.0" lengthAdjust="spacingAndGlyphs">-0.014</text>
<text x="1033.4" y="1780.2" font-family="Liberation Sans" font-size="10.0" text-anchor="middle" font-weight="bold" fill="#ffffff" textLength="41.5" lengthAdjust="spacingAndGlyphs">-0.0083</text>
<text x="1079.0" y="1780.2" font-family="Liberation Sans" font-size="10.0" text-anchor="middle" font-weight="bold" fill="#ffffff" textLength="36.0" lengthAdjust="spacingAndGlyphs">-0.016</text>
<text x="1124.7" y="1780.2" font-family="Liberation Sans" font-size="10.0" text-anchor="middle" font-weight="bold" fill="#ffffff" textLength="36.0" lengthAdjust="spacingAndGlyphs">-0.079</text>
<text x="1170.3" y="1780.2" font-family="Liberation Sans" font-size="10.0" text-anchor="middle" font-weight="bold" fill="#ffffff" textLength="30.0" lengthAdjust="spacingAndGlyphs">-0.27</text>
<text x="1215.9" y="1780.2" font-family="Liberation Sans" font-size="10.0" text-anchor="middle" font-weight="bold" fill="#ffffff" textLength="36.0" lengthAdjust="spacingAndGlyphs">-0.096</text>
<text x="1261.6" y="1780.2" font-family="Liberation Sans" font-size="10.0" text-anchor="middle" font-weight="bold" fill="#ffffff" textLength="30.0" lengthAdjust="spacingAndGlyphs">-0.13</text>
<text x="1307.2" y="1780.2" font-family="Liberation Sans" font-size="10.0" text-anchor="middle" font-weight="bold" fill="#262626" textLength="24.0" lengthAdjust="spacingAndGlyphs">0.18</text>
<text x="896.5" y="1825.5" font-family="Liberation Sans" font-size="10.0" text-anchor="middle" font-weight="bold" fill="#ffffff" textLength="36.0" lengthAdjust="spacingAndGlyphs">-0.013</text>
<text x="942.1" y="1825.5" font-family="Liberation Sans" font-size="10.0" text-anchor="middle" font-weight="bold" fill="#ffffff" textLength="36.0" lengthAdjust="spacingAndGlyphs">-0.014</text>
<text x="987.8" y="1825.5" font-family="Liberation Sans" font-size="10.0" text-anchor="middle" font-weight="bold" fill="#ffffff" textLength="6.0" lengthAdjust="spacingAndGlyphs">1</text>
<text x="1033.4" y="1825.5" font-family="Liberation Sans" font-size="10.0" text-anchor="middle" font-weight="bold" fill="#ffffff" textLength="36.0" lengthAdjust="spacingAndGlyphs">-0.071</text>
<text x="1079.0" y="1825.5" font-family="Liberation Sans" font-size="10.0" text-anchor="middle" font-weight="bold" fill="#ffffff" textLength="36.0" lengthAdjust="spacingAndGlyphs">-0.076</text>
<text x="1124.7" y="1825.5" font-family="Liberation Sans" font-size="10.0" text-anchor="middle" font-weight="bold" fill="#ffffff" textLength="30.0" lengthAdjust="spacingAndGlyphs">-0.25</text>
<text x="1170.3" y="1825.5" font-family="Liberation Sans" font-size="10.0" text-anchor="middle" font-weight="bold" fill="#ffffff" textLength="30.0" lengthAdjust="spacingAndGlyphs">-0.18</text>
<text x="1215.9" y="1825.5" font-family="Liberation Sans" font-size="10.0" text-anchor="middle" font-weight="bold" fill="#ffffff" textLength="30.0" lengthAdjust="spacingAndGlyphs">-0.22</text>
<text x="1261.6" y="1825.5" font-family="Liberation Sans" font-size="10.0" text-anchor="middle" font-weight="bold" fill="#ffffff" textLength="24.0" lengthAdjust="spacingAndGlyphs">-0.3</text>
<text x="1307.2" y="1825.5" font-family="Liberation Sans" font-size="10.0" text-anchor="middle" font-weight="bold" fill="#262626" textLength="30.0" lengthAdjust="spacingAndGlyphs">0.012</text>
<text x="896.5" y="1870.8" font-family="Liberation Sans" font-size="10.0" text-anchor="middle" font-weight="bold" fill="#ffffff" textLength="36.0" lengthAdjust="spacingAndGlyphs">-0.015</text>
<text x="942.1" y="1870.8" font-family="Liberation Sans" font-size="10.0" text-anchor="middle" font-weight="bold" fill="#ffffff" textLength="41.5" lengthAdjust="spacingAndGlyphs">-0.0083</text>
<text x="987.8" y="1870.8" font-family="Liberation Sans" font-size="10.0" text-anchor="middle" font-weight="bold" fill="#ffffff" textLength="36.0" lengthAdjust="spacingAndGlyphs">-0.071</text>
<text x="1033.4" y="1870.8" font-family="Liberation Sans" font-size="10.0" text-anchor="middle" font-weight="bold" fill="#ffffff" textLength="6.0" lengthAdjust="spacingAndGlyphs">1</text>
<text x="1079.0" y="1870.8" font-family="Liberation Sans" font-size="10.0" text-anchor="middle" font-weight="bold" fill="#ffffff" textLength="36.0" lengthAdjust="spacingAndGlyphs">-0.012</text>
<text x="1124.7" y="1870.8" font-family="Liberation Sans" font-size="10.0" text-anchor="middle" font-weight="bold" fill="#ffffff" textLength="30.0" lengthAdjust="spacingAndGlyphs">-0.14</text>
<text x="1170.3" y="1870.8" font-family="Liberation Sans" font-size="10.0" text-anchor="middle" font-weight="bold" fill="#ffffff" textLength="30.0" lengthAdjust="spacingAndGlyphs">-0.29</text>
<text x="1215.9" y="1870.8" font-family="Liberation Sans" font-size="10.0" text-anchor="middle" font-weight="bold" fill="#ffffff" textLength="30.0" lengthAdjust="spacingAndGlyphs">-0.09</text>
<text x="1261.6" y="1870.8" font-family="Liberation Sans" font-size="10.0" text-anchor="middle" font-weight="bold" fill="#ffffff" textLength="30.0" lengthAdjust="spacingAndGlyphs">-0.15</text>
<text x="1307.2" y="1870.8" font-family="Liberation Sans" font-size="10.0" text-anchor="middle" font-weight="bold" fill="#262626" textLength="30.0" lengthAdjust="spacingAndGlyphs">0.025</text>
<text x="896.5" y="1916.1" font-family="Liberation Sans" font-size="10.0" text-anchor="middle" font-weight="bold" fill="#ffffff" textLength="36.0" lengthAdjust="spacingAndGlyphs">-0.025</text>
<text x="942.1" y="1916.1" font-family="Liberation Sans" font-size="10.0" text-anchor="middle" font-weight="bold" fill="#ffffff" textLength="36.0" lengthAdjust="spacingAndGlyphs">-0.016</text>
<text x="987.8" y="1916.1" font-family="Liberation Sans" font-size="10.0" text-anchor="middle" font-weight="bold" fill="#ffffff" textLength="36.0" lengthAdjust="spacingAndGlyphs">-0.076</text>
<text x="1033.4" y="1916.1" font-family="Liberation Sans" font-size="10.0" text-anchor="middle" font-weight="bold" fill="#ffffff" textLength="36.0" lengthAdjust="spacingAndGlyphs">-0.012</text>
<text x="1079.0" y="1916.1" font-family="Liberation Sans" font-size="10.0" text-anchor="middle" font-weight="bold" fill="#ffffff" textLength="6.0" lengthAdjust="spacingAndGlyphs">1</text>
<text x="1124.7" y="1916.1" font-family="Liberation Sans" font-size="10.0" text-anchor="middle" font-weight="bold" fill="#ffffff" textLength="24.0" lengthAdjust="spacingAndGlyphs">-0.1</text>
<text x="1170.3" y="1916.1" font-family="Liberation Sans" font-size="10.0" text-anchor="middle" font-weight="bold" fill="#ffffff" textLength="30.0" lengthAdjust="spacingAndGlyphs">-0.24</text>
<text x="1215.9" y="1916.1" font-family="Liberation Sans" font-size="10.0" text-anchor="middle" font-weight="bold" fill="#ffffff" textLength="30.0" lengthAdjust="spacingAndGlyphs">-0.12</text>
<text x="1261.6" y="1916.1" font-family="Liberation Sans" font-size="10.0" text-anchor="middle" font-weight="bold" fill="#ffffff" textLength="24.0" lengthAdjust="spacingAndGlyphs">-0.2</text>
<text x="1307.2" y="1916.1" font-family="Liberation Sans" font-size="10.0" text-anchor="middle" font-weight="bold" fill="#262626" textLength="30.0" lengthAdjust="spacingAndGlyphs">0.027</text>
<text x="896.5" y="1961.4" font-family="Liberation Sans" font-size="10.0" text-anchor="middle" font-weight="bold" fill="#ffffff" textLength="30.0" lengthAdjust="spacingAndGlyphs">-0.11</text>
<text x="942.1" y="1961.4" font-family="Liberation Sans" font-size="10.0" text-anchor="middle" font-weight="bold" fill="#ffffff" textLength="36.0" lengthAdjust="spacingAndGlyphs">-0.092</text>
<text x="987.8" y="1961.4" font-family="Liberation Sans" font-size="10.0" text-anchor="middle" font-weight="bold" fill="#ffffff" textLength="30.0" lengthAdjust="spacingAndGlyphs">-0.25</text>
<text x="1033.4" y="1961.4" font-family="Liberation Sans" font-size="10.0" text-anchor="middle" font-weight="bold" fill="#ffffff" textLength="30.0" lengthAdjust="spacingAndGlyphs">-0.14</text>
<text x="1079.0" y="1961.4" font-family="Liberation Sans" font-size="10.0" text-anchor="middle" font-weight="bold" fill="#ffffff" textLength="24.0" lengthAdjust="spacingAndGlyphs">-0.1</text>
<text x="1124.7" y="1961.4" font-family="Liberation Sans" font-size="10.0" text-anchor="middle" font-weight="bold" fill="#ffffff" textLength="6.0" lengthAdjust="spacingAndGlyphs">1</text>
<text x="1170.3" y="1961.4" font-family="Liberation Sans" font-size="10.0" text-anchor="middle" font-weight="bold" fill="#ffffff" textLength="36.0" lengthAdjust="spacingAndGlyphs">-0.027</text>
<text x="1215.9" y="1961.4" font-family="Liberation Sans" font-size="10.0" text-anchor="middle" font-weight="bold" fill="#ffffff" textLength="36.0" lengthAdjust="spacingAndGlyphs">-0.021</text>
<text x="1261.6" y="1961.4" font-family="Liberation Sans" font-size="10.0" text-anchor="middle" font-weight="bold" fill="#ffffff" textLength="36.0" lengthAdjust="spacingAndGlyphs">-0.024</text>
<text x="1307.2" y="1961.4" font-family="Liberation Sans" font-size="10.0" text-anchor="middle" font-weight="bold" fill="#262626" textLength="24.0" lengthAdjust="spacingAndGlyphs">0.05</text>
<text x="896.5" y="2006.7" font-family="Liberation Sans" font-size="10.0" text-anchor="middle" font-weight="bold" fill="#ffffff" textLength="30.0" lengthAdjust="spacingAndGlyphs">-0.25</text>
<text x="942.1" y="2006.7" font-family="Liberation Sans" font-size="10.0" text-anchor="middle" font-weight="bold" fill="#ffffff" textLength="30.0" lengthAdjust="spacingAndGlyphs">-0.27</text>
<text x="987.8" y="2006.7" font-family="Liberation Sans" font-size="10.0" text-anchor="middle" font-weight="bold" fill="#ffffff" textLength="30.0" lengthAdjust="spacingAndGlyphs">-0.18</text>
<text x="1033.4" y="2006.7" font-family="Liberation Sans" font-size="10.0" text-anchor="middle" font-weight="bold" fill="#ffffff" textLength="30.0" lengthAdjust="spacingAndGlyphs">-0.29</text>
<text x="1079.0" y="2006.7" font-family="Liberation Sans" font-size="10.0" text-anchor="middle" font-weight="bold" fill="#ffffff" textLength="30.0" lengthAdjust="spacingAndGlyphs">-0.24</text>
<text x="1124.7" y="2006.7" font-family="Liberation Sans" font-size="10.0" text-anchor="middle" font-weight="bold" fill="#ffffff" textLength="36.0" lengthAdjust="spacingAndGlyphs">-0.027</text>
<text x="1170.3" y="2006.7" font-family="Liberation Sans" font-size="10.0" text-anchor="middle" font-weight="bold" fill="#ffffff" textLength="6.0" lengthAdjust="spacingAndGlyphs">1</text>
<text x="1215.9" y="2006.7" font-family="Liberation Sans" font-size="10.0" text-anchor="middle" font-weight="bold" fill="#ffffff" textLength="36.0" lengthAdjust="spacingAndGlyphs">-0.038</text>
<text x="1261.6" y="2006.7" font-family="Liberation Sans" font-size="10.0" text-anchor="middle" font-weight="bold" fill="#ffffff" textLength="36.0" lengthAdjust="spacingAndGlyphs">-0.035</text>
<text x="1307.2" y="2006.7" font-family="Liberation Sans" font-size="10.0" text-anchor="middle" font-weight="bold" fill="#262626" textLength="24.0" lengthAdjust="spacingAndGlyphs">0.02</text>
<text x="896.5" y="2052.0" font-family="Liberation Sans" font-size="10.0" text-anchor="middle" font-weight="bold" fill="#ffffff" textLength="30.0" lengthAdjust="spacingAndGlyphs">-0.14</text>
<text x="942.1" y="2052.0" font-family="Liberation Sans" font-size="10.0" text-anchor="middle" font-weight="bold" fill="#ffffff" textLength="36.0" lengthAdjust="spacingAndGlyphs">-0.096</text>
<text x="987.8" y="2052.0" font-family="Liberation Sans" font-size="10.0" text-anchor="middle" font-weight="bold" fill="#ffffff" textLength="30.0" lengthAdjust="spacingAndGlyphs">-0.22</text>
<text x="1033.4" y="2052.0" font-family="Liberation Sans" font-size="10.0" text-anchor="middle" font-weight="bold" fill="#ffffff" textLength="30.0" lengthAdjust="spacingAndGlyphs">-0.09</text>
<text x="1079.0" y="2052.0" font-family="Liberation Sans" font-size="10.0" text-anchor="middle" font-weight="bold" fill="#ffffff" textLength="30.0" lengthAdjust="spacingAndGlyphs">-0.12</text>
<text x="1124.7" y="2052.0" font-family="Liberation Sans" font-size="10.0" text-anchor="middle" font-weight="bold" fill="#ffffff" textLength="36.0" lengthAdjust="spacingAndGlyphs">-0.021</text>
<text x="1170.3" y="2052.0" font-family="Liberation Sans" font-size="10.0" text-anchor="middle" font-weight="bold" fill="#ffffff" textLength="36.0" lengthAdjust="spacingAndGlyphs">-0.038</text>
<text x="1215.9" y="2052.0" font-family="Liberation Sans" font-size="10.0" text-anchor="middle" font-weight="bold" fill="#ffffff" textLength="6.0" lengthAdjust="spacingAndGlyphs">1</text>
<text x="1261.6" y="2052.0" font-family="Liberation Sans" font-size="10.0" text-anchor="middle" font-weight="bold" fill="#ffffff" textLength="36.0" lengthAdjust="spacingAndGlyphs">-0.027</text>
<text x="1307.2" y="2052.0" font-family="Liberation Sans" font-size="10.0" text-anchor="middle" font-weight="bold" fill="#262626" textLength="30.0" lengthAdjust="spacingAndGlyphs">0.064</text>
<text x="896.5" y="2097.3" font-family="Liberation Sans" font-size="10.0" text-anchor="middle" font-weight="bold" fill="#ffffff" textLength="30.0" lengthAdjust="spacingAndGlyphs">-0.17</text>
<text x="942.1" y="2097.3" font-family="Liberation Sans" font-size="10.0" text-anchor="middle" font-weight="bold" fill="#ffffff" textLength="30.0" lengthAdjust="spacingAndGlyphs">-0.13</text>
<text x="987.8" y="2097.3" font-family="Liberation Sans" font-size="10.0" text-anchor="middle" font-weight="bold" fill="#ffffff" textLength="24.0" lengthAdjust="spacingAndGlyphs">-0.3</text>
<text x="1033.4" y="2097.3" font-family="Liberation Sans" font-size="10.0" text-anchor="middle" font-weight="bold" fill="#ffffff" textLength="30.0" lengthAdjust="spacingAndGlyphs">-0.15</text>
<text x="1079.0" y="2097.3" font-family="Liberation Sans" font-size="10.0" text-anchor="middle" font-weight="bold" fill="#ffffff" textLength="24.0" lengthAdjust="spacingAndGlyphs">-0.2</text>
<text x="1124.7" y="2097.3" font-family="Liberation Sans" font-size="10.0" text-anchor="middle" font-weight="bold" fill="#ffffff" textLength="36.0" lengthAdjust="spacingAndGlyphs">-0.024</text>
<text x="1170.3" y="2097.3" font-family="Liberation Sans" font-size="10.0" text-anchor="middle" font-weight="bold" fill="#ffffff" textLength="36.0" lengthAdjust="spacingAndGlyphs">-0.035</text>
<text x="1215.9" y="2097.3" font-family="Liberation Sans" font-size="10.0" text-anchor="middle" font-weight="bold" fill="#ffffff" textLength="36.0" lengthAdjust="spacingAndGlyphs">-0.027</text>
<text x="1261.6" y="2097.3" font-family="Liberation Sans" font-size="10.0" text-anchor="middle" font-weight="bold" fill="#ffffff" textLength="6.0" lengthAdjust="spacingAndGlyphs">1</text>
<text x="1307.2" y="2097.3" font-family="Liberation Sans" font-size="10.0" text-anchor="middle" font-weight="bold" fill="#262626" textLength="30.0" lengthAdjust="spacingAndGlyphs">0.055</text>
<text x="896.5" y="2142.6" font-family="Liberation Sans" font-size="10.0" text-anchor="middle" font-weight="bold" fill="#262626" textLength="24.0" lengthAdjust="spacingAndGlyphs">0.23</text>
<text x="942.1" y="2142.6" font-family="Liberation Sans" font-size="10.0" text-anchor="middle" font-weight="bold" fill="#262626" textLength="24.0" lengthAdjust="spacingAndGlyphs">0.18</text>
<text x="987.8" y="2142.6" font-family="Liberation Sans" font-size="10.0" text-anchor="middle" font-weight="bold" fill="#262626" textLength="30.0" lengthAdjust="spacingAndGlyphs">0.012</text>
<text x="1033.4" y="2142.6" font-family="Liberation Sans" font-size="10.0" text-anchor="middle" font-weight="bold" fill="#262626" textLength="30.0" lengthAdjust="spacingAndGlyphs">0.025</text>
<text x="1079.0" y="2142.6" font-family="Liberation Sans" font-size="10.0" text-anchor="middle" font-weight="bold" fill="#262626" textLength="30.0" lengthAdjust="spacingAndGlyphs">0.027</text>
<text x="1124.7" y="2142.6" font-family="Liberation Sans" font-size="10.0" text-anchor="middle" font-weight="bold" fill="#262626" textLength="24.0" lengthAdjust="spacingAndGlyphs">0.05</text>
<text x="1170.3" y="2142.6" font-family="Liberation Sans" font-size="10.0" text-anchor="middle" font-weight="bold" fill="#262626" textLength="24.0" lengthAdjust="spacingAndGlyphs">0.02</text>
<text x="1215.9" y="2142.6" font-family="Liberation Sans" font-size="10.0" text-anchor="middle" font-weight="bold" fill="#262626" textLength="30.0" lengthAdjust="spacingAndGlyphs">0.064</text>
<text x="1261.6" y="2142.6" font-family="Liberation Sans" font-size="10.0" text-anchor="middle" font-weight="bold" fill="#262626" textLength="30.0" lengthAdjust="spacingAndGlyphs">0.055</text>
<text x="1307.2" y="2142.6" font-family="Liberation Sans" font-size="10.0" text-anchor="middle" font-weight="bold" fill="#ffffff" textLength="6.0" lengthAdjust="spacingAndGlyphs">1</text>
<line x1="869.9" y1="1731.4" x2="873.7" y2="1731.4" stroke="#333" stroke-width="1"/>
<text x="866.0" y="1736.9" font-family="Liberation Sans" font-size="16.0" text-anchor="end" font-weight="bold" fill="#111" textLength="18.5" lengthAdjust="spacingAndGlyphs">En</text>
<line x1="869.9" y1="1776.7" x2="873.7" y2="1776.7" stroke="#333" stroke-width="1"/>
<text x="866.0" y="1782.2" font-family="Liberation Sans" font-size="16.0" text-anchor="end" font-weight="bold" fill="#111" textLength="18.5" lengthAdjust="spacingAndGlyphs">Fr</text>
<line x1="869.9" y1="1822.0" x2="873.7" y2="1822.0" stroke="#333" stroke-width="1"/>
<text x="866.0" y="1827.5" font-family="Liberation Sans" font-size="16.0" text-anchor="end" font-weight="bold" fill="#111" textLength="18.5" lengthAdjust="spacingAndGlyphs">De</text>
<line x1="869.9" y1="1867.3" x2="873.7" y2="1867.3" stroke="#333" stroke-width="1"/>
<text x="866.0" y="1872.8" font-family="Liberation Sans" font-size="16.0" text-anchor="end" font-weight="bold" fill="#111" textLength="18.5" lengthAdjust="spacingAndGlyphs">Es</text>
<line x1="869.9" y1="1912.6" x2="873.7" y2="1912.6" stroke="#333" stroke-width="1"/>
<text x="866.0" y="1918.1" font-family="Liberation Sans" font-size="16.0" text-anchor="end" font-weight="bold" fill="#111" textLength="18.5" lengthAdjust="spacingAndGlyphs">Ca</text>
<line x1="869.9" y1="1957.9" x2="873.7" y2="1957.9" stroke="#333" stroke-width="1"/>
<text x="866.0" y="1963.4" font-family="Liberation Sans" font-size="16.0" text-anchor="end" font-weight="bold" fill="#111" textLength="58.0" lengthAdjust="spacingAndGlyphs">Fr->En</text>
<line x1="869.9" y1="2003.2" x2="873.7" y2="2003.2" stroke="#333" stroke-width="1"/>
<text x="866.0" y="2008.7" font-family="Liberation Sans" font-size="16.0" text-anchor="end" font-weight="bold" fill="#111" textLength="58.0" lengthAdjust="spacingAndGlyphs">De->En</text>
<line x1="869.9" y1="2048.5" x2="873.7" y2="2048.5" stroke="#333" stroke-width="1"/>
<text x="866.0" y="2054.0" font-family="Liberation Sans" font-size="16.0" text-anchor="end" font-weight="bold" fill="#111" textLength="58.0" lengthAdjust="spacingAndGlyphs">Es->En</text>
<line x1="869.9" y1="2093.8" x2="873.7" y2="2093.8" stroke="#333" stroke-width="1"/>
<text x="866.0" y="2099.3" font-family="Liberation Sans" font-size="16.0" text-anchor="end" font-weight="bold" fill="#111" textLength="58.0" lengthAdjust="spacingAndGlyphs">Ca->En</text>
<line x1="869.9" y1="2139.1" x2="873.7" y2="2139.1" stroke="#333" stroke-width="1"/>
<text x="866.0" y="2144.6" font-family="Liberation Sans" font-size="16.0" text-anchor="end" font-weight="bold" fill="#111" textLength="46.0" lengthAdjust="spacingAndGlyphs">Unsup</text>
<line x1="896.5" y1="2161.8" x2="896.5" y2="2165.5" stroke="#333" stroke-width="1"/>
<text x="905.5" y="2174" font-family="Liberation Sans" font-size="17" font-weight="bold" fill="#111" text-anchor="end" transform="rotate(-45 905.5 2174)">En</text>
<line x1="942.1" y1="2161.8" x2="942.1" y2="2165.5" stroke="#333" stroke-width="1"/>
<text x="951.1" y="2174" font-family="Liberation Sans" font-size="17" font-weight="bold" fill="#111" text-anchor="end" transform="rotate(-45 951.1 2174)">Fr</text>
<line x1="987.8" y1="2161.8" x2="987.8" y2="2165.5" stroke="#333" stroke-width="1"/>
<text x="996.8" y="2174" font-family="Liberation Sans" font-size="17" font-weight="bold" fill="#111" text-anchor="end" transform="rotate(-45 996.8 2174)">De</text>
<line x1="1033.4" y1="2161.8" x2="1033.4" y2="2165.5" stroke="#333" stroke-width="1"/>
<text x="1042.4" y="2174" font-family="Liberation Sans" font-size="17" font-weight="bold" fill="#111" text-anchor="end" transform="rotate(-45 1042.4 2174)">Es</text>
<line x1="1079.0" y1="2161.8" x2="1079.0" y2="2165.5" stroke="#333" stroke-width="1"/>
<text x="1088.0" y="2174" font-family="Liberation Sans" font-size="17" font-weight="bold" fill="#111" text-anchor="end" transform="rotate(-45 1088.0 2174)">Ca</text>
<line x1="1124.7" y1="2161.8" x2="1124.7" y2="2165.5" stroke="#333" stroke-width="1"/>
<text x="1133.7" y="2174" font-family="Liberation Sans" font-size="17" font-weight="bold" fill="#111" text-anchor="end" transform="rotate(-45 1133.7 2174)">Fr-&gt;En</text>
<line x1="1170.3" y1="2161.8" x2="1170.3" y2="2165.5" stroke="#333" stroke-width="1"/>
<text x="1179.3" y="2174" font-family="Liberation Sans" font-size="17" font-weight="bold" fill="#111" text-anchor="end" transform="rotate(-45 1179.3 2174)">De-&gt;En</text>
<line x1="1215.9" y1="2161.8" x2="1215.9" y2="2165.5" stroke="#333" stroke-width="1"/>
<text x="1224.9" y="2174" font-family="Liberation Sans" font-size="17" font-weight="bold" fill="#111" text-anchor="end" transform="rotate(-45 1224.9 2174)">Es-&gt;En</text>
<line x1="1261.6" y1="2161.8" x2="1261.6" y2="2165.5" stroke="#333" stroke-width="1"/>
<text x="1270.6" y="2174" font-family="Liberation Sans" font-size="17" font-weight="bold" fill="#111" text-anchor="end" transform="rotate(-45 1270.6 2174)">Ca-&gt;En</text>
<line x1="1307.2" y1="2161.8" x2="1307.2" y2="2165.5" stroke="#333" stroke-width="1"/>
<text x="1316.2" y="2174" font-family="Liberation Sans" font-size="17" font-weight="bold" fill="#111" text-anchor="end" transform="rotate(-45 1316.2 2174)">Unsup</text>
<rect x="1359.2" y="1708.7" width="22.3" height="8.2" fill="#b40426"/>
<rect x="1359.2" y="1716.3" width="22.3" height="8.2" fill="#ba162b"/>
<rect x="1359.2" y="1723.8" width="22.3" height="8.2" fill="#c0282f"/>
<rect x="1359.2" y="1731.4" width="22.3" height="8.2" fill="#c53334"/>
<rect x="1359.2" y="1738.9" width="22.3" height="8.2" fill="#cc403a"/>
<rect x="1359.2" y="1746.5" width="22.3" height="8.2" fill="#d1493f"/>
<rect x="1359.2" y="1754.0" width="22.3" height="8.2" fill="#d65244"/>
<rect x="1359.2" y="1761.6" width="22.3" height="8.2" fill="#da5a49"/>
<rect x="1359.2" y="1769.1" width="22.3" height="8.2" fill="#e0654f"/>
<rect x="1359.2" y="1776.7" width="22.3" height="8.2" fill="#e36c55"/>
<rect x="1359.2" y="1784.2" width="22.3" height="8.2" fill="#e7745b"/>
<rect x="1359.2" y="1791.8" width="22.3" height="8.2" fill="#ea7b60"/>
<rect x="1359.2" y="1799.3" width="22.3" height="8.2" fill="#ee8468"/>
<rect x="1359.2" y="1806.9" width="22.3" height="8.2" fill="#f08b6e"/>
<rect x="1359.2" y="1814.4" width="22.3" height="8.2" fill="#f29274"/>
<rect x="1359.2" y="1822.0" width="22.3" height="8.2" fill="#f4987a"/>
<rect x="1359.2" y="1829.5" width="22.3" height="8.2" fill="#f5a081"/>
<rect x="1359.2" y="1837.1" width="22.3" height="8.2" fill="#f7a688"/>
<rect x="1359.2" y="1844.6" width="22.3" height="8.2" fill="#f7ac8e"/>
<rect x="1359.2" y="1852.2" width="22.3" height="8.2" fill="#f7b396"/>
<rect x="1359.2" y="1859.7" width="22.3" height="8.2" fill="#f7b89c"/>
<rect x="1359.2" y="1867.3" width="22.3" height="8.2" fill="#f6bda2"/>
<rect x="1359.2" y="1874.8" width="22.3" height="8.2" fill="#f5c1a9"/>
<rect x="1359.2" y="1882.4" width="22.3" height="8.2" fill="#f3c7b1"/>
<rect x="1359.2" y="1889.9" width="22.3" height="8.2" fill="#f2cbb7"/>
<rect x="1359.2" y="1897.5" width="22.3" height="8.2" fill="#efcebd"/>
<rect x="1359.2" y="1905.0" width="22.3" height="8.2" fill="#edd2c3"/>
<rect x="1359.2" y="1912.6" width="22.3" height="8.2" fill="#e9d5cb"/>
<rect x="1359.2" y="1920.1" width="22.3" height="8.2" fill="#e5d8d1"/>
<rect x="1359.2" y="1927.7" width="22.3" height="8.2" fill="#e1dad6"/>
<rect x="1359.2" y="1935.2" width="22.3" height="8.2" fill="#dddcdc"/>
<rect x="1359.2" y="1942.8" width="22.3" height="8.2" fill="#d8dce2"/>
<rect x="1359.2" y="1950.4" width="22.3" height="8.2" fill="#d4dbe6"/>
<rect x="1359.2" y="1957.9" width="22.3" height="8.2" fill="#cfdaea"/>
<rect x="1359.2" y="1965.5" width="22.3" height="8.2" fill="#cad8ef"/>
<rect x="1359.2" y="1973.0" width="22.3" height="8.2" fill="#c5d6f2"/>
<rect x="1359.2" y="1980.6" width="22.3" height="8.2" fill="#c0d4f5"/>
<rect x="1359.2" y="1988.1" width="22.3" height="8.2" fill="#bbd1f8"/>
<rect x="1359.2" y="1995.7" width="22.3" height="8.2" fill="#b5cdfa"/>
<rect x="1359.2" y="2003.2" width="22.3" height="8.2" fill="#afcafc"/>
<rect x="1359.2" y="2010.8" width="22.3" height="8.2" fill="#aac7fd"/>
<rect x="1359.2" y="2018.3" width="22.3" height="8.2" fill="#a5c3fe"/>
<rect x="1359.2" y="2025.9" width="22.3" height="8.2" fill="#9ebeff"/>
<rect x="1359.2" y="2033.4" width="22.3" height="8.2" fill="#98b9ff"/>
<rect x="1359.2" y="2041.0" width="22.3" height="8.2" fill="#93b5fe"/>
<rect x="1359.2" y="2048.5" width="22.3" height="8.2" fill="#8db0fe"/>
<rect x="1359.2" y="2056.1" width="22.3" height="8.2" fill="#86a9fc"/>
<rect x="1359.2" y="2063.6" width="22.3" height="8.2" fill="#81a4fb"/>
<rect x="1359.2" y="2071.2" width="22.3" height="8.2" fill="#7b9ff9"/>
<rect x="1359.2" y="2078.7" width="22.3" height="8.2" fill="#7597f6"/>
<rect x="1359.2" y="2086.3" width="22.3" height="8.2" fill="#6f92f3"/>
<rect x="1359.2" y="2093.8" width="22.3" height="8.2" fill="#6a8bef"/>
<rect x="1359.2" y="2101.4" width="22.3" height="8.2" fill="#6485ec"/>
<rect x="1359.2" y="2108.9" width="22.3" height="8.2" fill="#5e7de7"/>
<rect x="1359.2" y="2116.5" width="22.3" height="8.2" fill="#5977e3"/>
<rect x="1359.2" y="2124.0" width="22.3" height="8.2" fill="#5470de"/>
<rect x="1359.2" y="2131.6" width="22.3" height="8.2" fill="#4f69d9"/>
<rect x="1359.2" y="2139.1" width="22.3" height="8.2" fill="#4961d2"/>
<rect x="1359.2" y="2146.7" width="22.3" height="8.2" fill="#445acc"/>
<rect x="1359.2" y="2154.2" width="22.3" height="8.2" fill="#3f53c6"/>
<line x1="1381.5" y1="1708.7" x2="1385.0" y2="1708.7" stroke="#333" stroke-width="0.8"/>
<text x="1388.0" y="1712.2" font-family="Liberation Sans" font-size="10.0" fill="#222">1.0</text>
<line x1="1381.5" y1="1778.4" x2="1385.0" y2="1778.4" stroke="#333" stroke-width="0.8"/>
<text x="1388.0" y="1781.9" font-family="Liberation Sans" font-size="10.0" fill="#222">0.8</text>
<line x1="1381.5" y1="1848.1" x2="1385.0" y2="1848.1" stroke="#333" stroke-width="0.8"/>
<text x="1388.0" y="1851.6" font-family="Liberation Sans" font-size="10.0" fill="#222">0.6</text>
<line x1="1381.5" y1="1917.8" x2="1385.0" y2="1917.8" stroke="#333" stroke-width="0.8"/>
<text x="1388.0" y="1921.3" font-family="Liberation Sans" font-size="10.0" fill="#222">0.4</text>
<line x1="1381.5" y1="1987.5" x2="1385.0" y2="1987.5" stroke="#333" stroke-width="0.8"/>
<text x="1388.0" y="1991.0" font-family="Liberation Sans" font-size="10.0" fill="#222">0.2</text>
<line x1="1381.5" y1="2057.2" x2="1385.0" y2="2057.2" stroke="#333" stroke-width="0.8"/>
<text x="1388.0" y="2060.7" font-family="Liberation Sans" font-size="10.0" fill="#222">0.0</text>
<line x1="1381.5" y1="2126.9" x2="1385.0" y2="2126.9" stroke="#333" stroke-width="0.8"/>
<text x="1388.0" y="2130.4" font-family="Liberation Sans" font-size="10.0" fill="#222">−0.2</text>
<text x="1421" y="1934.6" font-family="Liberation Sans" font-size="10" fill="#222" text-anchor="middle" transform="rotate(-90 1421 1934.6)">Cosine Similarity</text>
<text x="72.7" y="2399.5" font-family="Liberation Sans" font-size="39.0" textLength="1235.3" lengthAdjust="spacingAndGlyphs">Dynamic weighting ensures balanced progress  across task objectives</text>
<text x="72.7" y="2447.6" font-family="Liberation Sans" font-size="39.0" textLength="984.3" lengthAdjust="spacingAndGlyphs">and optimizes in a <tspan font-weight="bold" fill="#c00000">conflict-avoiding (CA)</tspan> direction (<tspan font-style="italic"><tspan font-family="Liberation Serif">d</tspan></tspan>).</text>
<text x="320.6" y="2532.0" font-family="Liberation Serif" font-size="40.0" textLength="245.4" lengthAdjust="spacingAndGlyphs"><tspan font-family="Liberation Serif"><tspan font-size="40.0" font-style="italic">d</tspan><tspan font-size="40.0">(Θ) = arg max</tspan></tspan></text>
<text x="495.0" y="2561.0" font-family="Liberation Serif" font-size="27.0"><tspan font-family="Liberation Serif"><tspan font-size="27.0" font-style="italic">d</tspan></tspan></text>
<text x="573.0" y="2532.0" font-family="Liberation Serif" font-size="40.0" textLength="56.0" lengthAdjust="spacingAndGlyphs"><tspan font-family="Liberation Serif"><tspan font-size="40.0">min</tspan></tspan></text>
<text x="570.0" y="2561.0" font-family="Liberation Serif" font-size="27.0" textLength="100.0" lengthAdjust="spacingAndGlyphs"><tspan font-family="Liberation Serif"><tspan font-size="27.0" font-style="italic">λ</tspan><tspan font-size="27.0">∈Δ</tspan><tspan font-size="18.9" dy="-10.80" font-style="italic">NT</tspan><tspan dy="10.80">​</tspan></tspan></text>
<text x="680.0" y="2532.0" font-family="Liberation Serif" font-size="40.0" textLength="255.0" lengthAdjust="spacingAndGlyphs"><tspan font-family="Liberation Serif"><tspan font-size="40.0">−⟨∇</tspan><tspan font-size="40.0" font-style="italic">ℒ</tspan><tspan font-size="40.0">(Θ)</tspan><tspan font-size="40.0" font-style="italic">λ</tspan><tspan font-size="40.0">, </tspan><tspan font-size="40.0" font-style="italic">d</tspan><tspan font-size="40.0">⟩ −</tspan></tspan></text>
<text x="948.0" y="2504.0" font-family="Liberation Serif" font-size="34.0" textLength="17.0" lengthAdjust="spacingAndGlyphs"><tspan font-family="Liberation Serif"><tspan font-size="34.0">1</tspan></tspan></text>
<line x1="942.0" y1="2522.0" x2="972.0" y2="2522.0" stroke="#000" stroke-width="2"/>
<text x="947.0" y="2556.0" font-family="Liberation Serif" font-size="34.0" textLength="19.0" lengthAdjust="spacingAndGlyphs"><tspan font-family="Liberation Serif"><tspan font-size="34.0">2</tspan></tspan></text>
<text x="966.0" y="2532.0" font-family="Liberation Serif" font-size="40.0" textLength="82.0" lengthAdjust="spacingAndGlyphs"><tspan font-family="Liberation Serif"><tspan font-size="40.0">||</tspan><tspan font-size="40.0" font-style="italic">d</tspan><tspan font-size="40.0">||</tspan><tspan font-size="28.0" dy="-16.00">2</tspan><tspan dy="16.00">​</tspan></tspan></text>
<text x="74.0" y="2630.7" font-family="Liberation Sans" font-size="39.0" textLength="662.7" lengthAdjust="spacingAndGlyphs">Equivalent: <tspan font-family="Liberation Serif"><tspan font-size="40.0" font-style="italic">d</tspan><tspan font-size="40.0">(Θ) = −∇</tspan><tspan font-size="40.0" font-style="italic">ℒ</tspan><tspan font-size="40.0">(Θ)</tspan><tspan font-size="40.0" font-style="italic">λ</tspan><tspan font-size="28.0" dy="-16.00">*</tspan><tspan font-size="40.0" dy="16.00">(Θ)</tspan></tspan><tspan font-size="39" dy="0">, with</tspan></text>
<text x="428.5" y="2701.6" font-family="Liberation Serif" font-size="40.0" textLength="275.5" lengthAdjust="spacingAndGlyphs"><tspan font-family="Liberation Serif"><tspan font-size="40.0" font-style="italic">λ</tspan><tspan font-size="28.0" dy="-16.00">*</tspan><tspan font-size="40.0" dy="16.00">(Θ) = arg min</tspan></tspan></text>
<text x="588.0" y="2733.0" font-family="Liberation Serif" font-size="27.0" textLength="105.0" lengthAdjust="spacingAndGlyphs"><tspan font-family="Liberation Serif"><tspan font-size="27.0" font-style="italic">λ</tspan><tspan font-size="27.0">∈Δ</tspan><tspan font-size="18.9" dy="-10.80" font-style="italic">NT</tspan><tspan dy="10.80">​</tspan></tspan></text>
<text x="720.0" y="2701.6" font-family="Liberation Serif" font-size="40.0" textLength="201.7" lengthAdjust="spacingAndGlyphs"><tspan font-family="Liberation Serif"><tspan font-size="40.0">‖∇</tspan><tspan font-size="40.0" font-style="italic">ℒ</tspan><tspan font-size="40.0">(Θ)</tspan><tspan font-size="40.0" font-style="italic">λ</tspan><tspan font-size="40.0">‖</tspan><tspan font-size="28.0" dy="-16.00">2</tspan><tspan dy="16.00">​</tspan></tspan></text>
<rect x="966.0" y="2600.0" width="456.0" height="140.5" fill="#b4c7e7"/>
<text x="973.0" y="2640.0" font-family="Liberation Sans" font-size="36.0" textLength="77.0" lengthAdjust="spacingAndGlyphs">Here,</text>
<text x="1055.0" y="2648.0" font-family="Liberation Serif" font-size="46.0" textLength="32.0" lengthAdjust="spacingAndGlyphs"><tspan font-family="Liberation Serif"><tspan font-size="46.0">Σ</tspan></tspan></text>
<text x="1066.0" y="2610.0" font-family="Liberation Serif" font-size="18.0"><tspan font-family="Liberation Serif"><tspan font-size="18.0" font-style="italic">n</tspan></tspan></text>
<text x="1058.0" y="2672.0" font-family="Liberation Serif" font-size="18.0" textLength="28.0" lengthAdjust="spacingAndGlyphs"><tspan font-family="Liberation Serif"><tspan font-size="18.0" font-style="italic">i</tspan><tspan font-size="18.0">=1</tspan></tspan></text>
<text x="1090.0" y="2640.0" font-family="Liberation Serif" font-size="30.0" textLength="95.0" lengthAdjust="spacingAndGlyphs"><tspan font-family="Liberation Serif"><tspan font-size="30.0" font-style="italic">λ</tspan><tspan font-size="21.0" dy="8.40" font-style="italic">i</tspan><tspan font-size="30.0" dy="-8.40"> = 1,</tspan></tspan></text>
<text x="973.0" y="2704.7" font-family="Liberation Sans" font-size="36.0" textLength="389.5" lengthAdjust="spacingAndGlyphs"><tspan font-family="Liberation Serif"><tspan font-size="38.0" font-style="italic">n</tspan></tspan> = number of objectives.</text>
<text x="80.0" y="2778.7" font-family="Liberation Sans" font-size="39.0" textLength="457.6" lengthAdjust="spacingAndGlyphs">We update <tspan font-family="Liberation Serif"><tspan font-size="40.0" font-style="italic">λ</tspan></tspan> using MoDo:</text>
<text x="308.0" y="2840.0" font-family="Liberation Serif" font-size="40.0" textLength="875.7" lengthAdjust="spacingAndGlyphs"><tspan font-family="Liberation Serif"><tspan font-size="40.0" font-style="italic">λ</tspan><tspan font-size="28.0" dy="-16.00" font-style="italic">k</tspan><tspan font-size="28.0">+1</tspan><tspan font-size="40.0" dy="16.00"> = Π</tspan><tspan font-size="28.0" dy="11.20">Δ</tspan><tspan font-size="19.6" dy="-11.20" font-style="italic">NT</tspan><tspan font-size="40.0">(</tspan><tspan font-size="40.0" font-style="italic">λ</tspan><tspan font-size="28.0" dy="-16.00" font-style="italic">k</tspan><tspan font-size="40.0" dy="16.00"> − </tspan><tspan font-size="40.0" font-style="italic">γ</tspan><tspan font-size="28.0" dy="-16.00" font-style="italic">k</tspan><tspan font-size="40.0" dy="16.00">(∇</tspan><tspan font-size="40.0" font-style="italic">ℒ</tspan><tspan font-size="40.0">(</tspan><tspan font-size="40.0" font-style="italic">ξ</tspan><tspan font-size="28.0" dy="-16.00" font-style="italic">k</tspan><tspan font-size="28.0" dy="27.20" dx="-12.42">1</tspan><tspan font-size="40.0" dy="-11.20">; Θ</tspan><tspan font-size="28.0" dy="-16.00" font-style="italic">k</tspan><tspan font-size="40.0" dy="16.00">)</tspan><tspan font-size="28.0" dy="-16.00">⊤</tspan><tspan font-size="40.0" dy="16.00">∇</tspan><tspan font-size="40.0" font-style="italic">ℒ</tspan><tspan font-size="40.0">(</tspan><tspan font-size="40.0" font-style="italic">ξ</tspan><tspan font-size="28.0" dy="-16.00" font-style="italic">k</tspan><tspan font-size="28.0" dy="27.20" dx="-12.42">2</tspan><tspan font-size="40.0" dy="-11.20">; Θ</tspan><tspan font-size="28.0" dy="-16.00" font-style="italic">k</tspan><tspan font-size="40.0" dy="16.00">))</tspan><tspan font-size="40.0" font-style="italic">λ</tspan><tspan font-size="28.0" dy="-16.00" font-style="italic">k</tspan><tspan font-size="40.0" dy="16.00">)</tspan></tspan></text>
<text x="1485.5" y="503.4" font-family="Liberation Sans" font-size="37.0" textLength="516.5" lengthAdjust="spacingAndGlyphs">Three optimization formulation:</text>
<circle cx="1490" cy="558.8" r="4.8" fill="#000"/>
<circle cx="1490" cy="622.3" r="4.8" fill="#000"/>
<circle cx="1490" cy="685.8" r="4.8" fill="#000"/>
<text x="1507.0" y="569.3" font-family="Liberation Sans" font-size="36.0" textLength="501.0" lengthAdjust="spacingAndGlyphs">Built on the <tspan font-weight="bold">dynamic update rule</tspan>.</text>
<text x="1507.0" y="632.8" font-family="Liberation Sans" font-size="36.0" textLength="539.5" lengthAdjust="spacingAndGlyphs">Each addressing conflicts differently.</text>
<text x="1507.0" y="696.3" font-family="Liberation Sans" font-size="36.0" textLength="482.8" lengthAdjust="spacingAndGlyphs">Addresses conflicts at a different</text>
<text x="1507.0" y="739.5" font-family="Liberation Sans" font-size="36.0" textLength="273.0" lengthAdjust="spacingAndGlyphs">optimization level.</text>
<rect x="2078.5" y="459.5" width="767.0" height="354.0" fill="#fff" stroke="#12202e" stroke-width="5"/>
<text x="2220.0" y="485.0" font-family="Liberation Serif" font-size="27.0" textLength="514.0" lengthAdjust="spacingAndGlyphs"><tspan font-weight="bold">Objective soup</tspan> given <tspan font-family="Liberation Serif"><tspan font-size="28.0" font-style="italic">ℒ</tspan></tspan><tspan> : (vector of objectives)</tspan></text>
<rect x="2080.4" y="497.0" width="762.6" height="85.3" fill="#f4aba7" rx="12"/>
<rect x="2080.4" y="584.7" width="762.6" height="100.5" fill="#a8b9c5" rx="12"/>
<rect x="2080.4" y="687.0" width="762.6" height="124.6" fill="#a5ada1" rx="12"/>
<text x="2099.0" y="551.0" font-family="Liberation Serif" font-size="25.0" textLength="185.0" lengthAdjust="spacingAndGlyphs">Recipe 1: VS-MSP:</text>
<text x="2300.0" y="546.0" font-family="Liberation Serif" font-size="25.0" textLength="36.0" lengthAdjust="spacingAndGlyphs">min</text>
<text x="2311.0" y="561.0" font-family="Liberation Serif" font-size="16.0">Θ</text>
<text x="2350.0" y="546.0" font-family="Liberation Serif" font-size="25.0" textLength="476.0" lengthAdjust="spacingAndGlyphs">(supervised objectives, self-supervised objective)</text>
<text x="2099.0" y="647.0" font-family="Liberation Serif" font-size="25.0" textLength="188.0" lengthAdjust="spacingAndGlyphs">Recipe 2: VC-MSP:</text>
<text x="2305.0" y="623.6" font-family="Liberation Serif" font-size="25.0" textLength="38.0" lengthAdjust="spacingAndGlyphs">min</text>
<text x="2319.0" y="641.5" font-family="Liberation Serif" font-size="16.0">Θ</text>
<text x="2362.0" y="623.6" font-family="Liberation Serif" font-size="25.0" textLength="251.7" lengthAdjust="spacingAndGlyphs">(supervised objectives)</text>
<text x="2355.6" y="663.0" font-family="Liberation Serif" font-size="25.0" textLength="33.4" lengthAdjust="spacingAndGlyphs">s.t.</text>
<text x="2416.0" y="663.0" font-family="Liberation Serif" font-size="25.0" textLength="311.7" lengthAdjust="spacingAndGlyphs">self-supervised objective &lt; <tspan font-style="italic">ϵ</tspan></text>
<text x="2099.0" y="756.0" font-family="Liberation Serif" font-size="25.0" textLength="194.0" lengthAdjust="spacingAndGlyphs">Recipe 3: VM-MSP:</text>
<text x="2316.5" y="728.4" font-family="Liberation Serif" font-size="23.0" textLength="35.0" lengthAdjust="spacingAndGlyphs">min</text>
<text x="2329.0" y="742.5" font-family="Liberation Serif" font-size="14.0">Θ</text>
<text x="2362.0" y="728.4" font-family="Liberation Serif" font-size="23.0" textLength="441.6" lengthAdjust="spacingAndGlyphs">(supervised multi-lingual objectives for task 1)</text>
<text x="2336.0" y="761.0" font-family="Liberation Serif" font-size="23.0" textLength="34.0" lengthAdjust="spacingAndGlyphs">s.t.</text>
<text x="2378.0" y="761.0" font-family="Liberation Serif" font-size="23.0" textLength="35.0" lengthAdjust="spacingAndGlyphs">min</text>
<text x="2385.0" y="774.5" font-family="Liberation Serif" font-size="14.0">Θ</text>
<text x="2420.0" y="761.0" font-family="Liberation Serif" font-size="23.0" textLength="406.4" lengthAdjust="spacingAndGlyphs">(supervised multi-lingual objectives for task 2)</text>
<text x="2463.0" y="794.4" font-family="Liberation Serif" font-size="23.0" textLength="28.7" lengthAdjust="spacingAndGlyphs">s.t.</text>
<text x="2515.0" y="794.4" font-family="Liberation Serif" font-size="23.0" textLength="270.7" lengthAdjust="spacingAndGlyphs">self-supervised objective &lt; <tspan font-style="italic">ϵ</tspan></text>
<rect x="1488.6" y="830.0" width="995.4" height="58.7" fill="#b5d1ec"/>
<text x="1494.7" y="873.3" font-family="Liberation Sans" font-size="40.0" textLength="511.7" lengthAdjust="spacingAndGlyphs">Vectorized <tspan font-weight="bold">single-level</tspan> MSP</text>
<text x="1589.0" y="953.0" font-family="Liberation Serif" font-size="42.8" textLength="55.4" lengthAdjust="spacingAndGlyphs"><tspan font-family="Liberation Serif"><tspan font-size="42.8">min</tspan></tspan></text>
<text x="1583.0" y="974.9" font-family="Liberation Serif" font-size="27.9" textLength="68.9" lengthAdjust="spacingAndGlyphs"><tspan font-family="Liberation Serif"><tspan font-size="27.9">Θ∈ℝ</tspan><tspan font-size="19.5" dy="-11.16" font-style="italic">q</tspan><tspan dy="11.16">​</tspan></tspan></text>
<text x="1684.7" y="956.5" font-family="Liberation Serif" font-size="45.0" textLength="123.7" lengthAdjust="spacingAndGlyphs"><tspan font-family="Liberation Serif"><tspan font-size="45.0" font-style="italic">ℒ</tspan><tspan font-size="45.0">(Θ) :=</tspan></tspan></text>
<path d="M1836.1 912.8 H1827.1 V974.9 H1836.1" fill="none" stroke="#000" stroke-width="2.4859999999999998"/>
<text x="1840.2" y="956.5" font-family="Liberation Serif" font-size="45.0" textLength="349.2" lengthAdjust="spacingAndGlyphs"><tspan font-family="Liberation Serif"><tspan font-size="45.0" font-style="italic">ℓ</tspan><tspan font-size="31.5" dy="12.60">ctc</tspan><tspan font-size="45.0" dy="-12.60">(</tspan><tspan font-size="45.0" font-style="italic">θ</tspan><tspan font-size="45.0">, </tspan><tspan font-size="45.0" font-style="italic">ϕ</tspan><tspan font-size="31.5" dy="12.60">1,1</tspan><tspan font-size="45.0" dy="-12.60">), </tspan><tspan font-size="45.0" font-style="italic">ℓ</tspan><tspan font-size="31.5" dy="12.60">ce</tspan><tspan font-size="45.0" dy="-12.60">(</tspan><tspan font-size="45.0" font-style="italic">θ</tspan><tspan font-size="45.0">, </tspan><tspan font-size="45.0" font-style="italic">ϕ</tspan><tspan font-size="31.5" dy="12.60">1,2</tspan><tspan font-size="45.0" dy="-12.60">)</tspan></tspan></text>
<text x="2192.1" y="956.5" font-family="Liberation Serif" font-size="45.0" textLength="72.3" lengthAdjust="spacingAndGlyphs"><tspan font-family="Liberation Serif"><tspan font-size="45.0">, . . . ,</tspan></tspan></text>
<text x="2267.4" y="956.5" font-family="Liberation Serif" font-size="45.0" textLength="358.2" lengthAdjust="spacingAndGlyphs"><tspan font-family="Liberation Serif"><tspan font-size="45.0" font-style="italic">ℓ</tspan><tspan font-size="31.5" dy="12.60">ctc</tspan><tspan font-size="45.0" dy="-12.60">(</tspan><tspan font-size="45.0" font-style="italic">θ</tspan><tspan font-size="45.0">, </tspan><tspan font-size="45.0" font-style="italic">ϕ</tspan><tspan font-size="31.5" dy="12.60">T,1</tspan><tspan font-size="45.0" dy="-12.60">), </tspan><tspan font-size="45.0" font-style="italic">ℓ</tspan><tspan font-size="31.5" dy="12.60">ce</tspan><tspan font-size="45.0" dy="-12.60">(</tspan><tspan font-size="45.0" font-style="italic">θ</tspan><tspan font-size="45.0">, </tspan><tspan font-size="45.0" font-style="italic">ϕ</tspan><tspan font-size="31.5" dy="12.60">T,2</tspan><tspan font-size="45.0" dy="-12.60">)</tspan></tspan></text>
<text x="2625.7" y="956.5" font-family="Liberation Serif" font-size="45.0" textLength="92.7" lengthAdjust="spacingAndGlyphs"><tspan font-family="Liberation Serif"><tspan font-size="45.0">, </tspan><tspan font-size="45.0" font-style="italic">ℓ</tspan><tspan font-size="31.5" dy="12.60">u</tspan><tspan font-size="45.0" dy="-12.60">(</tspan><tspan font-size="45.0" font-style="italic">θ</tspan><tspan font-size="45.0">)</tspan></tspan></text>
<path d="M2717.5 912.8 H2726.6 V974.9 H2717.5" fill="none" stroke="#000" stroke-width="2.4859999999999998"/>
<path d="M1840.2 963.2 Q1840.2 973.5 1855.6 973.5 L2000.1 973.5 Q2015.6 973.5 2015.6 983.8 Q2015.6 973.5 2031.0 973.5 L2175.5 973.5 Q2190.9 973.5 2190.9 963.2" fill="none" stroke="#000" stroke-width="2.7119999999999997"/>
<path d="M2266.4 963.2 Q2266.4 973.5 2281.9 973.5 L2431.3 973.5 Q2446.8 973.5 2446.8 983.8 Q2446.8 973.5 2462.2 973.5 L2611.7 973.5 Q2627.1 973.5 2627.1 963.2" fill="none" stroke="#000" stroke-width="2.7119999999999997"/>
<text x="1856.5" y="1011.9" font-family="Liberation Serif" font-size="23.4" textLength="319.2" lengthAdjust="spacingAndGlyphs"><tspan font-family="Liberation Serif"><tspan font-size="23.4">1-st language with 2 tasks</tspan></tspan></text>
<text x="2281.1" y="1011.9" font-family="Liberation Serif" font-size="23.4" textLength="331.9" lengthAdjust="spacingAndGlyphs"><tspan font-family="Liberation Serif"><tspan font-size="23.4" font-style="italic">T</tspan><tspan font-size="23.4">-th language with 2 tasks</tspan></tspan></text>
<rect x="1488.6" y="1054.0" width="995.4" height="60.5" fill="#b5d1ec"/>
<text x="1494.7" y="1100.4" font-family="Liberation Sans" font-size="40.0" textLength="974.1" lengthAdjust="spacingAndGlyphs">Vectorized objectives with <tspan font-weight="bold">lower-level constraint</tspan> MSP</text>
<text x="1599.4" y="1192.4" font-family="Liberation Serif" font-size="45.6" textLength="58.8" lengthAdjust="spacingAndGlyphs"><tspan font-family="Liberation Serif"><tspan font-size="45.6">min</tspan></tspan></text>
<text x="1593.0" y="1215.2" font-family="Liberation Serif" font-size="29.8" textLength="73.2" lengthAdjust="spacingAndGlyphs"><tspan font-family="Liberation Serif"><tspan font-size="29.8">Θ∈ℝ</tspan><tspan font-size="20.8" dy="-11.90" font-style="italic">q</tspan><tspan dy="11.90">​</tspan></tspan></text>
<text x="1701.0" y="1196.0" font-family="Liberation Serif" font-size="48.0" textLength="131.4" lengthAdjust="spacingAndGlyphs"><tspan font-family="Liberation Serif"><tspan font-size="48.0" font-style="italic">ℒ</tspan><tspan font-size="48.0">(Θ) :=</tspan></tspan></text>
<path d="M1861.8 1150.4 H1852.2 V1215.2 H1861.8" fill="none" stroke="#000" stroke-width="2.64"/>
<text x="1866.1" y="1196.0" font-family="Liberation Serif" font-size="48.0" textLength="370.8" lengthAdjust="spacingAndGlyphs"><tspan font-family="Liberation Serif"><tspan font-size="48.0" font-style="italic">ℓ</tspan><tspan font-size="33.6" dy="13.44">ctc</tspan><tspan font-size="48.0" dy="-13.44">(</tspan><tspan font-size="48.0" font-style="italic">θ</tspan><tspan font-size="48.0">, </tspan><tspan font-size="48.0" font-style="italic">ϕ</tspan><tspan font-size="33.6" dy="13.44">1,1</tspan><tspan font-size="48.0" dy="-13.44">), </tspan><tspan font-size="48.0" font-style="italic">ℓ</tspan><tspan font-size="33.6" dy="13.44">ce</tspan><tspan font-size="48.0" dy="-13.44">(</tspan><tspan font-size="48.0" font-style="italic">θ</tspan><tspan font-size="48.0">, </tspan><tspan font-size="48.0" font-style="italic">ϕ</tspan><tspan font-size="33.6" dy="13.44">1,2</tspan><tspan font-size="48.0" dy="-13.44">)</tspan></tspan></text>
<text x="2239.8" y="1196.0" font-family="Liberation Serif" font-size="48.0" textLength="76.8" lengthAdjust="spacingAndGlyphs"><tspan font-family="Liberation Serif"><tspan font-size="48.0">, . . . ,</tspan></tspan></text>
<text x="2319.8" y="1196.0" font-family="Liberation Serif" font-size="48.0" textLength="380.4" lengthAdjust="spacingAndGlyphs"><tspan font-family="Liberation Serif"><tspan font-size="48.0" font-style="italic">ℓ</tspan><tspan font-size="33.6" dy="13.44">ctc</tspan><tspan font-size="48.0" dy="-13.44">(</tspan><tspan font-size="48.0" font-style="italic">θ</tspan><tspan font-size="48.0">, </tspan><tspan font-size="48.0" font-style="italic">ϕ</tspan><tspan font-size="33.6" dy="13.44">T,1</tspan><tspan font-size="48.0" dy="-13.44">), </tspan><tspan font-size="48.0" font-style="italic">ℓ</tspan><tspan font-size="33.6" dy="13.44">ce</tspan><tspan font-size="48.0" dy="-13.44">(</tspan><tspan font-size="48.0" font-style="italic">θ</tspan><tspan font-size="48.0">, </tspan><tspan font-size="48.0" font-style="italic">ϕ</tspan><tspan font-size="33.6" dy="13.44">T,2</tspan><tspan font-size="48.0" dy="-13.44">)</tspan></tspan></text>
<path d="M2699.4 1150.4 H2709.0 V1215.2 H2699.4" fill="none" stroke="#000" stroke-width="2.64"/>
<path d="M1866.1 1203.0 Q1866.1 1213.7 1882.2 1213.7 L2036.2 1213.7 Q2052.4 1213.7 2052.4 1224.4 Q2052.4 1213.7 2068.5 1213.7 L2222.5 1213.7 Q2238.6 1213.7 2238.6 1203.0" fill="none" stroke="#000" stroke-width="2.88"/>
<path d="M2318.8 1203.0 Q2318.8 1213.7 2334.9 1213.7 L2494.2 1213.7 Q2510.3 1213.7 2510.3 1224.4 Q2510.3 1213.7 2526.4 1213.7 L2685.7 1213.7 Q2701.8 1213.7 2701.8 1203.0" fill="none" stroke="#000" stroke-width="2.88"/>
<text x="1883.4" y="1253.8" font-family="Liberation Serif" font-size="25.0" textLength="339.0" lengthAdjust="spacingAndGlyphs"><tspan font-family="Liberation Serif"><tspan font-size="25.0">1-st language with 2 tasks</tspan></tspan></text>
<text x="2334.4" y="1253.8" font-family="Liberation Serif" font-size="25.0" textLength="352.4" lengthAdjust="spacingAndGlyphs"><tspan font-family="Liberation Serif"><tspan font-size="25.0" font-style="italic">T</tspan><tspan font-size="25.0">-th language with 2 tasks</tspan></tspan></text>
<text x="1950.3" y="1300.5" font-family="Liberation Serif" font-size="46.0" textLength="48.5" lengthAdjust="spacingAndGlyphs"><tspan font-family="Liberation Serif"><tspan font-size="46.0">s.t.</tspan></tspan></text>
<text x="2039.6" y="1300.5" font-family="Liberation Serif" font-size="46.0" textLength="359.7" lengthAdjust="spacingAndGlyphs"><tspan font-family="Liberation Serif"><tspan font-size="46.0" font-style="italic">ℓ</tspan><tspan font-size="32.2" dy="12.88">u</tspan><tspan font-size="46.0" dy="-12.88">(</tspan><tspan font-size="46.0" font-style="italic">θ</tspan><tspan font-size="46.0">) − min </tspan><tspan font-size="46.0" font-style="italic">ℓ</tspan><tspan font-size="32.2" dy="12.88">u</tspan><tspan font-size="46.0" dy="-12.88">(</tspan><tspan font-size="46.0" font-style="italic">θ</tspan><tspan font-size="46.0">′) ≤ </tspan><tspan font-size="46.0" font-style="italic">ε</tspan></tspan></text>
<text x="2170.0" y="1326.0" font-family="Liberation Serif" font-size="28.0" textLength="24.0" lengthAdjust="spacingAndGlyphs"><tspan font-family="Liberation Serif"><tspan font-size="28.0" font-style="italic">θ</tspan><tspan font-size="28.0">′</tspan></tspan></text>
<rect x="1488.6" y="1334.6" width="995.4" height="59.8" fill="#b5d1ec"/>
<text x="1494.7" y="1377.8" font-family="Liberation Sans" font-size="40.0" textLength="477.8" lengthAdjust="spacingAndGlyphs">Vectorized <tspan font-weight="bold">multilevel</tspan> MSP</text>
<rect x="2105.0" y="1406.5" width="706.0" height="90.5" fill="#b4c7e7"/>
<text x="2113.0" y="1442.5" font-family="Liberation Sans" font-size="33.0" textLength="668.4" lengthAdjust="spacingAndGlyphs"><tspan font-family="Liberation Serif"><tspan font-size="36.0">Φ</tspan><tspan font-size="25.2" dy="10.08">1</tspan><tspan dy="-10.08">​</tspan></tspan><tspan dy="0">: Set of parameters optimize in the upper-level</tspan></text>
<text x="2113.0" y="1482.6" font-family="Liberation Sans" font-size="33.0" textLength="682.5" lengthAdjust="spacingAndGlyphs"><tspan font-family="Liberation Serif"><tspan font-size="36.0">Φ</tspan><tspan font-size="25.2" dy="10.08">2</tspan><tspan dy="-10.08">​</tspan></tspan><tspan dy="0">: Set of parameters optimize in the middle-level</tspan></text>
<text x="1648.9" y="1469.0" font-family="Liberation Serif" font-size="46.0" textLength="64.7" lengthAdjust="spacingAndGlyphs"><tspan font-family="Liberation Serif"><tspan font-size="46.0">min</tspan></tspan></text>
<text x="1591.5" y="1499.0" font-family="Liberation Serif" font-size="28.0" textLength="177.5" lengthAdjust="spacingAndGlyphs"><tspan font-family="Liberation Serif"><tspan font-size="28.0">Φ</tspan><tspan font-size="19.6" dy="7.84">1</tspan><tspan font-size="28.0" dy="-7.84">∈ℝ</tspan><tspan font-size="19.6" dy="-11.20" font-style="italic">T</tspan><tspan font-size="28.0" dy="11.20">,Φ</tspan><tspan font-size="19.6" dy="-11.20">*</tspan><tspan font-size="19.6" dy="19.04" dx="-9.80">2</tspan><tspan font-size="28.0" dy="-7.84">,</tspan><tspan font-size="28.0" font-style="italic">θ</tspan></tspan></text>
<text x="1778.0" y="1469.0" font-family="Liberation Serif" font-size="46.0" textLength="253.0" lengthAdjust="spacingAndGlyphs"><tspan font-family="Liberation Serif"><tspan font-size="46.0" font-style="italic">ℒ</tspan><tspan font-size="32.2" dy="12.88">ctc</tspan><tspan font-size="46.0" dy="-12.88">(Φ</tspan><tspan font-size="32.2" dy="12.88">1</tspan><tspan font-size="46.0" dy="-12.88">, Φ</tspan><tspan font-size="32.2" dy="-18.40">*</tspan><tspan font-size="32.2" dy="31.28" dx="-16.09">2</tspan><tspan font-size="46.0" dy="-12.88">, </tspan><tspan font-size="46.0" font-style="italic">θ</tspan><tspan font-size="46.0">)</tspan></tspan></text>
<text x="1666.0" y="1554.0" font-family="Liberation Serif" font-size="46.0" textLength="55.0" lengthAdjust="spacingAndGlyphs"><tspan font-family="Liberation Serif"><tspan font-size="46.0">s.t.</tspan></tspan></text>
<text x="1765.0" y="1554.0" font-family="Liberation Serif" font-size="46.0" textLength="173.0" lengthAdjust="spacingAndGlyphs"><tspan font-family="Liberation Serif"><tspan font-size="46.0">Φ</tspan><tspan font-size="32.2" dy="-18.40">*</tspan><tspan font-size="32.2" dy="31.28" dx="-16.09">2</tspan><tspan font-size="46.0" dy="-12.88"> = arg</tspan></tspan></text>
<text x="1981.0" y="1554.0" font-family="Liberation Serif" font-size="46.0" textLength="64.7" lengthAdjust="spacingAndGlyphs"><tspan font-family="Liberation Serif"><tspan font-size="46.0">min</tspan></tspan></text>
<text x="1950.0" y="1590.0" font-family="Liberation Serif" font-size="28.0" textLength="137.0" lengthAdjust="spacingAndGlyphs"><tspan font-family="Liberation Serif"><tspan font-size="28.0">Φ</tspan><tspan font-size="19.6" dy="7.84">2</tspan><tspan font-size="28.0" dy="-7.84">∈ℝ</tspan><tspan font-size="19.6" dy="-11.20" font-style="italic">T</tspan><tspan font-size="28.0" dy="11.20">,</tspan><tspan font-size="28.0" font-style="italic">θ</tspan></tspan></text>
<text x="2098.0" y="1554.0" font-family="Liberation Serif" font-size="46.0" textLength="256.8" lengthAdjust="spacingAndGlyphs"><tspan font-family="Liberation Serif"><tspan font-size="46.0" font-style="italic">ℒ</tspan><tspan font-size="32.2" dy="12.88">ce</tspan><tspan font-size="46.0" dy="-12.88">(Φ</tspan><tspan font-size="32.2" dy="12.88">1</tspan><tspan font-size="46.0" dy="-12.88">, Φ</tspan><tspan font-size="32.2" dy="12.88">2</tspan><tspan font-size="46.0" dy="-12.88">, </tspan><tspan font-size="46.0" font-style="italic">θ</tspan><tspan font-size="46.0">)</tspan></tspan></text>
<text x="1734.0" y="1643.5" font-family="Liberation Serif" font-size="46.0" textLength="55.0" lengthAdjust="spacingAndGlyphs"><tspan font-family="Liberation Serif"><tspan font-size="46.0">s.t.</tspan></tspan></text>
<text x="1823.0" y="1643.5" font-family="Liberation Serif" font-size="46.0" textLength="433.0" lengthAdjust="spacingAndGlyphs"><tspan font-family="Liberation Serif"><tspan font-size="46.0" font-style="italic">ℓ</tspan><tspan font-size="32.2" dy="12.88">u</tspan><tspan font-size="46.0" dy="-12.88">(</tspan><tspan font-size="46.0" font-style="italic">θ</tspan><tspan font-size="46.0">) − min </tspan><tspan font-size="46.0" font-style="italic">ℓ</tspan><tspan font-size="32.2" dy="12.88">u</tspan><tspan font-size="46.0" dy="-12.88">(</tspan><tspan font-size="46.0" font-style="italic">θ</tspan><tspan font-size="46.0">′) ≤ </tspan><tspan font-size="46.0" font-style="italic">ε</tspan></tspan></text>
<text x="2004.0" y="1671.0" font-family="Liberation Serif" font-size="28.0" textLength="24.0" lengthAdjust="spacingAndGlyphs"><tspan font-family="Liberation Serif"><tspan font-size="28.0" font-style="italic">θ</tspan><tspan font-size="28.0">′</tspan></tspan></text>
<text x="2366.0" y="1597.3" font-family="Liberation Sans" font-size="35.0" textLength="487.0" lengthAdjust="spacingAndGlyphs"><tspan font-weight="bold" fill="#ff0000">Highly conflicting</tspan><tspan fill="#0070c0"> objectives,</tspan></text>
<text x="2366.0" y="1640.4" font-family="Liberation Sans" font-size="35.0" fill="#0070c0" textLength="454.0" lengthAdjust="spacingAndGlyphs"><tspan font-family="Liberation Serif"><tspan font-size="38.0">Φ</tspan><tspan font-size="26.6" dy="10.64">1</tspan><tspan font-size="38.0" dy="-10.64">, Φ</tspan><tspan font-size="26.6" dy="10.64">2</tspan><tspan dy="-10.64">​</tspan></tspan><tspan fill="#0070c0"> are separated across</tspan></text>
<text x="2366.0" y="1682.4" font-family="Liberation Sans" font-size="35.0" textLength="480.7" lengthAdjust="spacingAndGlyphs"><tspan font-weight="bold" fill="#7030a0">different optimization levels</tspan></text>
<text x="1462.0" y="1748.3" font-family="Liberation Sans" font-size="37.0" textLength="616.6" lengthAdjust="spacingAndGlyphs">Conflicting parameters update rule:</text>
<rect x="1489.0" y="1776.0" width="179.0" height="60.0" fill="#b5d1ec"/>
<text x="1496.6" y="1822.3" font-family="Liberation Sans" font-size="43.0" textLength="149.2" lengthAdjust="spacingAndGlyphs"><tspan font-weight="bold">VS-MSP</tspan></text>
<text x="1671.7" y="1814.0" font-family="Liberation Serif" font-size="43.0" textLength="236.1" lengthAdjust="spacingAndGlyphs"><tspan font-family="Liberation Serif"><tspan font-size="43.0" font-style="italic">θ</tspan><tspan font-size="30.1" dy="-17.20" font-style="italic">k</tspan><tspan font-size="30.1">+1</tspan><tspan font-size="43.0" dy="17.20"> = </tspan><tspan font-size="43.0" font-style="italic">θ</tspan><tspan font-size="30.1" dy="-17.20" font-style="italic">k</tspan><tspan font-size="43.0" dy="17.20"> − </tspan><tspan font-size="43.0" font-style="italic">α</tspan></tspan></text>
<rect x="1926.0" y="1774.8" width="213.0" height="82.6" fill="#ffd3d3"/>
<rect x="2178.0" y="1774.8" width="155.0" height="82.6" fill="#ffd3d3"/>
<path d="M1929.0 1751.4 H1919.0 V1861.0 H1929.0" fill="none" stroke="#000" stroke-width="3"/>
<path d="M2329.0 1751.4 H2339.0 V1861.0 H2329.0" fill="none" stroke="#000" stroke-width="3"/>
<text x="1929.4" y="1829.6" font-family="Liberation Serif" font-size="65.7" textLength="52.4" lengthAdjust="spacingAndGlyphs">Σ</text>
<text x="1938.6" y="1859.3" font-family="Liberation Serif" font-size="28.0" textLength="37.0" lengthAdjust="spacingAndGlyphs"><tspan font-family="Liberation Serif"><tspan font-size="28.0" font-style="italic">t,n</tspan></tspan></text>
<text x="1988.0" y="1814.0" font-family="Liberation Serif" font-size="43.0" textLength="148.0" lengthAdjust="spacingAndGlyphs"><tspan font-family="Liberation Serif"><tspan font-size="43.0" font-style="italic">λ</tspan><tspan font-size="30.1" dy="-17.20">(</tspan><tspan font-size="30.1" font-style="italic">k</tspan><tspan font-size="30.1">)</tspan><tspan font-size="30.1" dy="29.24" dx="-33.39" font-style="italic">t,n</tspan><tspan font-size="30.1" dx="2.45">​</tspan><tspan font-size="43.0" dy="-12.04">∇</tspan><tspan font-size="30.1" dy="12.04" font-style="italic">θ</tspan><tspan font-size="43.0" dy="-12.04" font-style="italic">ℓ</tspan><tspan font-size="30.1" dy="12.04" font-style="italic">n</tspan><tspan dy="-12.04">​</tspan></tspan></text>
<text x="2145.0" y="1814.0" font-family="Liberation Serif" font-size="43.0" textLength="25.0" lengthAdjust="spacingAndGlyphs"><tspan font-family="Liberation Serif"><tspan font-size="43.0">+</tspan></tspan></text>
<text x="2182.0" y="1814.0" font-family="Liberation Serif" font-size="43.0" textLength="145.0" lengthAdjust="spacingAndGlyphs"><tspan font-family="Liberation Serif"><tspan font-size="43.0" font-style="italic">λ</tspan><tspan font-size="30.1" dy="-17.20">(</tspan><tspan font-size="30.1" font-style="italic">k</tspan><tspan font-size="30.1">)</tspan><tspan font-size="30.1" dy="29.24" dx="-33.39" font-style="italic">u</tspan><tspan font-size="30.1" dx="18.34">​</tspan><tspan font-size="43.0" dy="-12.04">∇</tspan><tspan font-size="30.1" dy="12.04" font-style="italic">θ</tspan><tspan font-size="43.0" dy="-12.04" font-style="italic">ℓ</tspan><tspan font-size="30.1" dy="12.04" font-style="italic">u</tspan><tspan dy="-12.04">​</tspan></tspan></text>
<rect x="2544.6" y="1766.8" width="292.9" height="90.6" fill="#fde9a9"/>
<text x="2546.0" y="1828.0" font-family="Liberation Serif" font-size="68.8" textLength="51.0" lengthAdjust="spacingAndGlyphs">Σ</text>
<text x="2548.0" y="1853.0" font-family="Liberation Serif" font-size="28.0" textLength="42.0" lengthAdjust="spacingAndGlyphs"><tspan font-family="Liberation Serif"><tspan font-size="28.0" font-style="italic">t,n</tspan></tspan></text>
<text x="2600.0" y="1807.0" font-family="Liberation Serif" font-size="43.0" textLength="236.0" lengthAdjust="spacingAndGlyphs"><tspan font-family="Liberation Serif"><tspan font-size="43.0" font-style="italic">λ</tspan><tspan font-size="30.1" dy="12.04" font-style="italic">t,n</tspan><tspan font-size="43.0" dy="-12.04"> + </tspan><tspan font-size="43.0" font-style="italic">λ</tspan><tspan font-size="30.1" dy="12.04" font-style="italic">u</tspan><tspan font-size="43.0" dy="-12.04"> = 1</tspan></tspan></text>
<rect x="1489.0" y="1926.0" width="179.0" height="59.0" fill="#b5d1ec"/>
<text x="1496.6" y="1972.7" font-family="Liberation Sans" font-size="43.0" textLength="151.4" lengthAdjust="spacingAndGlyphs"><tspan font-weight="bold">VC-MSP</tspan></text>
<text x="1671.7" y="1966.0" font-family="Liberation Serif" font-size="43.0" textLength="236.1" lengthAdjust="spacingAndGlyphs"><tspan font-family="Liberation Serif"><tspan font-size="43.0" font-style="italic">θ</tspan><tspan font-size="30.1" dy="-17.20" font-style="italic">k</tspan><tspan font-size="30.1">+1</tspan><tspan font-size="43.0" dy="17.20"> = </tspan><tspan font-size="43.0" font-style="italic">θ</tspan><tspan font-size="30.1" dy="-17.20" font-style="italic">k</tspan><tspan font-size="43.0" dy="17.20"> − </tspan><tspan font-size="43.0" font-style="italic">α</tspan></tspan></text>
<rect x="1940.5" y="1927.7" width="215.5" height="82.0" fill="#ffd3d3"/>
<rect x="2197.5" y="1919.7" width="106.5" height="82.0" fill="#d9e5cf"/>
<path d="M1936.0 1903.0 H1926.0 V2016.0 H1936.0" fill="none" stroke="#000" stroke-width="3"/>
<path d="M2306.5 1903.0 H2316.5 V2016.0 H2306.5" fill="none" stroke="#000" stroke-width="3"/>
<text x="1941.0" y="1981.0" font-family="Liberation Serif" font-size="66.2" textLength="51.0" lengthAdjust="spacingAndGlyphs">Σ</text>
<text x="1948.0" y="2013.0" font-family="Liberation Serif" font-size="28.0" textLength="38.0" lengthAdjust="spacingAndGlyphs"><tspan font-family="Liberation Serif"><tspan font-size="28.0" font-style="italic">t,n</tspan></tspan></text>
<text x="1999.0" y="1966.0" font-family="Liberation Serif" font-size="43.0" textLength="151.0" lengthAdjust="spacingAndGlyphs"><tspan font-family="Liberation Serif"><tspan font-size="43.0" font-style="italic">λ</tspan><tspan font-size="30.1" dy="-17.20">(</tspan><tspan font-size="30.1" font-style="italic">k</tspan><tspan font-size="30.1">)</tspan><tspan font-size="30.1" dy="29.24" dx="-33.39" font-style="italic">t,n</tspan><tspan font-size="30.1" dx="2.45">​</tspan><tspan font-size="43.0" dy="-12.04">∇</tspan><tspan font-size="30.1" dy="12.04" font-style="italic">θ</tspan><tspan font-size="43.0" dy="-12.04" font-style="italic">ℓ</tspan><tspan font-size="30.1" dy="12.04" font-style="italic">n</tspan><tspan dy="-12.04">​</tspan></tspan></text>
<text x="2162.0" y="1966.0" font-family="Liberation Serif" font-size="43.0" textLength="25.0" lengthAdjust="spacingAndGlyphs"><tspan font-family="Liberation Serif"><tspan font-size="43.0">+</tspan></tspan></text>
<text x="2200.0" y="1966.0" font-family="Liberation Serif" font-size="43.0" textLength="103.0" lengthAdjust="spacingAndGlyphs"><tspan font-family="Liberation Serif"><tspan font-size="43.0" font-style="italic">η</tspan><tspan font-size="43.0">∇</tspan><tspan font-size="30.1" dy="12.04" font-style="italic">θ</tspan><tspan font-size="43.0" dy="-12.04" font-style="italic">ℓ</tspan><tspan font-size="30.1" dy="12.04" font-style="italic">u</tspan><tspan dy="-12.04">​</tspan></tspan></text>
<rect x="2542.8" y="1912.3" width="206.2" height="91.3" fill="#e9edf1"/>
<text x="2543.0" y="1966.0" font-family="Liberation Serif" font-size="66.2" textLength="54.0" lengthAdjust="spacingAndGlyphs">Σ</text>
<text x="2548.0" y="1995.0" font-family="Liberation Serif" font-size="28.0" textLength="42.0" lengthAdjust="spacingAndGlyphs"><tspan font-family="Liberation Serif"><tspan font-size="28.0" font-style="italic">t,n</tspan></tspan></text>
<text x="2604.0" y="1949.0" font-family="Liberation Serif" font-size="43.0" textLength="144.0" lengthAdjust="spacingAndGlyphs"><tspan font-family="Liberation Serif"><tspan font-size="43.0" font-style="italic">λ</tspan><tspan font-size="30.1" dy="12.04" font-style="italic">t,n</tspan><tspan font-size="43.0" dy="-12.04"> = 1</tspan></tspan></text>
<rect x="1489.0" y="2067.7" width="179.0" height="60.3" fill="#b5d1ec"/>
<text x="1496.6" y="2114.5" font-family="Liberation Sans" font-size="43.0" textLength="155.4" lengthAdjust="spacingAndGlyphs"><tspan font-weight="bold">VM-MSP</tspan></text>
<text x="1671.7" y="2107.0" font-family="Liberation Serif" font-size="38.7" textLength="205.3" lengthAdjust="spacingAndGlyphs"><tspan font-family="Liberation Serif"><tspan font-size="38.7" font-style="italic">θ</tspan><tspan font-size="27.1" dy="-15.48" font-style="italic">k</tspan><tspan font-size="27.1">+1</tspan><tspan font-size="38.7" dy="15.48"> = </tspan><tspan font-size="38.7" font-style="italic">θ</tspan><tspan font-size="27.1" dy="-15.48" font-style="italic">k</tspan><tspan font-size="38.7" dy="15.48"> − </tspan><tspan font-size="38.7" font-style="italic">α</tspan></tspan></text>
<rect x="1901.6" y="2069.5" width="212.7" height="80.2" fill="#ffd3d3"/>
<rect x="2154.4" y="2069.5" width="266.9" height="82.0" fill="#dccbe7"/>
<rect x="2441.0" y="2063.0" width="106.0" height="80.5" fill="#d9e5cf"/>
<path d="M1902.0 2043.0 H1892.0 V2157.7 H1902.0" fill="none" stroke="#000" stroke-width="3"/>
<path d="M2543.0 2043.0 H2553.0 V2157.7 H2543.0" fill="none" stroke="#000" stroke-width="3"/>
<text x="1920.0" y="2120.0" font-family="Liberation Serif" font-size="58.8" textLength="48.0" lengthAdjust="spacingAndGlyphs">Σ</text>
<text x="1903.0" y="2147.0" font-family="Liberation Serif" font-size="25.0" textLength="77.0" lengthAdjust="spacingAndGlyphs"><tspan font-family="Liberation Serif"><tspan font-size="25.0" font-style="italic">t,n</tspan><tspan font-size="25.0">∈</tspan><tspan font-size="25.0" font-style="italic">𝒯</tspan><tspan font-size="17.5" dy="7.00">1</tspan><tspan dy="-7.00">​</tspan></tspan></text>
<text x="1988.0" y="2107.0" font-family="Liberation Serif" font-size="38.7" textLength="122.0" lengthAdjust="spacingAndGlyphs"><tspan font-family="Liberation Serif"><tspan font-size="38.7" font-style="italic">λ</tspan><tspan font-size="27.1" dy="-15.48">(</tspan><tspan font-size="27.1" font-style="italic">k</tspan><tspan font-size="27.1">)</tspan><tspan font-size="27.1" dy="26.32" dx="-30.05" font-style="italic">t,n</tspan><tspan font-size="27.1" dx="2.22">​</tspan><tspan font-size="38.7" dy="-10.84">∇</tspan><tspan font-size="27.1" dy="10.84" font-style="italic">θ</tspan><tspan font-size="38.7" dy="-10.84" font-style="italic">ℓ</tspan><tspan font-size="27.1" dy="10.84" font-style="italic">n</tspan><tspan dy="-10.84">​</tspan></tspan></text>
<text x="2125.0" y="2107.0" font-family="Liberation Serif" font-size="38.7" textLength="63.0" lengthAdjust="spacingAndGlyphs"><tspan font-family="Liberation Serif"><tspan font-size="38.7">+</tspan><tspan font-size="38.7" font-style="italic">η</tspan><tspan font-size="27.1" dy="10.84">1</tspan><tspan dy="-10.84">​</tspan></tspan></text>
<text x="2213.0" y="2120.0" font-family="Liberation Serif" font-size="58.8" textLength="46.0" lengthAdjust="spacingAndGlyphs">Σ</text>
<text x="2195.0" y="2147.0" font-family="Liberation Serif" font-size="25.0" textLength="80.0" lengthAdjust="spacingAndGlyphs"><tspan font-family="Liberation Serif"><tspan font-size="25.0" font-style="italic">t,n</tspan><tspan font-size="25.0">∈</tspan><tspan font-size="25.0" font-style="italic">𝒯</tspan><tspan font-size="17.5" dy="7.00">2</tspan><tspan dy="-7.00">​</tspan></tspan></text>
<text x="2283.0" y="2107.0" font-family="Liberation Serif" font-size="38.7" textLength="127.0" lengthAdjust="spacingAndGlyphs"><tspan font-family="Liberation Serif"><tspan font-size="38.7" font-style="italic">λ</tspan><tspan font-size="27.1" dy="-15.48">(</tspan><tspan font-size="27.1" font-style="italic">k</tspan><tspan font-size="27.1">)</tspan><tspan font-size="27.1" dy="26.32" dx="-30.05" font-style="italic">t,n</tspan><tspan font-size="27.1" dx="2.22">​</tspan><tspan font-size="38.7" dy="-10.84">∇</tspan><tspan font-size="27.1" dy="10.84" font-style="italic">θ</tspan><tspan font-size="38.7" dy="-10.84" font-style="italic">ℓ</tspan><tspan font-size="27.1" dy="10.84" font-style="italic">n</tspan><tspan dy="-10.84">​</tspan></tspan></text>
<text x="2423.0" y="2107.0" font-family="Liberation Serif" font-size="38.7" textLength="20.0" lengthAdjust="spacingAndGlyphs"><tspan font-family="Liberation Serif"><tspan font-size="38.7">+</tspan></tspan></text>
<text x="2448.0" y="2107.0" font-family="Liberation Serif" font-size="38.7" textLength="92.0" lengthAdjust="spacingAndGlyphs"><tspan font-family="Liberation Serif"><tspan font-size="38.7" font-style="italic">η</tspan><tspan font-size="38.7">∇</tspan><tspan font-size="27.1" dy="10.84" font-style="italic">θ</tspan><tspan font-size="38.7" dy="-10.84" font-style="italic">ℓ</tspan><tspan font-size="27.1" dy="10.84" font-style="italic">u</tspan><tspan dy="-10.84">​</tspan></tspan></text>
<rect x="2604.4" y="2069.5" width="226.9" height="51.2" fill="#b4c7e7"/>
<text x="2610.6" y="2106.5" font-family="Liberation Sans" font-size="34.0" textLength="207.8" lengthAdjust="spacingAndGlyphs"><tspan font-family="Liberation Serif"><tspan font-size="36.0" font-style="italic">η</tspan></tspan><tspan dy="0">: Penalty term</tspan></text>
<rect x="2368.3" y="2169.4" width="464.3" height="82.0" fill="#b8f1ed"/>
<text x="2385.0" y="2220.0" font-family="Liberation Serif" font-size="58.8" textLength="50.0" lengthAdjust="spacingAndGlyphs">Σ</text>
<text x="2368.0" y="2247.0" font-family="Liberation Serif" font-size="25.0" textLength="82.0" lengthAdjust="spacingAndGlyphs"><tspan font-family="Liberation Serif"><tspan font-size="25.0" font-style="italic">t,n</tspan><tspan font-size="25.0">∈</tspan><tspan font-size="25.0" font-style="italic">𝒯</tspan><tspan font-size="17.5" dy="7.00">1</tspan><tspan dy="-7.00">​</tspan></tspan></text>
<text x="2459.5" y="2205.0" font-family="Liberation Serif" font-size="40.9" textLength="135.2" lengthAdjust="spacingAndGlyphs"><tspan font-family="Liberation Serif"><tspan font-size="40.9" font-style="italic">λ</tspan><tspan font-size="28.6" dy="11.44" font-style="italic">t,n</tspan><tspan font-size="40.9" dy="-11.44"> = 1,</tspan></tspan></text>
<text x="2632.0" y="2220.0" font-family="Liberation Serif" font-size="58.8" textLength="49.0" lengthAdjust="spacingAndGlyphs">Σ</text>
<text x="2614.0" y="2247.0" font-family="Liberation Serif" font-size="25.0" textLength="86.0" lengthAdjust="spacingAndGlyphs"><tspan font-family="Liberation Serif"><tspan font-size="25.0" font-style="italic">t,n</tspan><tspan font-size="25.0">∈</tspan><tspan font-size="25.0" font-style="italic">𝒯</tspan><tspan font-size="17.5" dy="7.00">2</tspan><tspan dy="-7.00">​</tspan></tspan></text>
<text x="2709.0" y="2205.0" font-family="Liberation Serif" font-size="40.9" textLength="123.0" lengthAdjust="spacingAndGlyphs"><tspan font-family="Liberation Serif"><tspan font-size="40.9" font-style="italic">λ</tspan><tspan font-size="28.6" dy="11.44" font-style="italic">t,n</tspan><tspan font-size="40.9" dy="-11.44"> = 1</tspan></tspan></text>
<rect x="1496.6" y="2369.7" width="1307.0" height="75.3" fill="#b8c4bc"/>
<text x="1504.0" y="2409.0" font-family="Liberation Sans" font-size="31.5" textLength="1287.0" lengthAdjust="spacingAndGlyphs"><tspan font-weight="bold">Full dynamic updates are costly, while conflicts mainly occur in a few constant layers.</tspan></text>
<line x1="1532.5" y1="2468.0" x2="1901.5" y2="2468.0" stroke="#cfcfcf" stroke-width="0.8" stroke-dasharray="2 2"/>
<line x1="1532.5" y1="2499.5" x2="1901.5" y2="2499.5" stroke="#cfcfcf" stroke-width="0.8" stroke-dasharray="2 2"/>
<line x1="1532.5" y1="2562.7" x2="1901.5" y2="2562.7" stroke="#cfcfcf" stroke-width="0.8" stroke-dasharray="2 2"/>
<line x1="1532.5" y1="2594.2" x2="1901.5" y2="2594.2" stroke="#cfcfcf" stroke-width="0.8" stroke-dasharray="2 2"/>
<text x="1527.5" y="2474.5" font-family="Liberation Sans" font-size="19.0" text-anchor="end" fill="#111">2</text>
<text x="1527.5" y="2506.0" font-family="Liberation Sans" font-size="19.0" text-anchor="end" fill="#111">1</text>
<text x="1527.5" y="2537.6" font-family="Liberation Sans" font-size="19.0" text-anchor="end" fill="#111">0</text>
<text x="1527.5" y="2569.2" font-family="Liberation Sans" font-size="19.0" text-anchor="end" fill="#111">−1</text>
<text x="1527.5" y="2600.7" font-family="Liberation Sans" font-size="19.0" text-anchor="end" fill="#111">−2</text>
<rect x="1549.0" y="2524.8" width="30.5" height="6.3" fill="#4878a3"/>
<text x="1564.3" y="2515.8" font-family="Liberation Sans" font-size="11.0" text-anchor="middle" fill="#222">0.20</text>
<line x1="1564.3" y1="2609.0" x2="1564.3" y2="2611.5" stroke="#555" stroke-width="1"/>
<text x="1561.3" y="2621.0" font-family="Liberation Sans" font-size="17.5" fill="#111" text-anchor="end" textLength="120.0" lengthAdjust="spacingAndGlyphs" transform="rotate(-30 1561.3 2621.0)">EncoderLayer0</text>
<rect x="1592.7" y="2531.1" width="30.5" height="9.8" fill="#e3424b"/>
<text x="1607.9" y="2541.6" font-family="Liberation Sans" font-size="11.0" text-anchor="middle" fill="#111">-0.31</text>
<line x1="1607.9" y1="2609.0" x2="1607.9" y2="2611.5" stroke="#555" stroke-width="1"/>
<text x="1604.9" y="2621.0" font-family="Liberation Sans" font-size="17.5" fill="#111" text-anchor="end" textLength="120.0" lengthAdjust="spacingAndGlyphs" transform="rotate(-30 1604.9 2621.0)">EncoderLayer1</text>
<rect x="1636.2" y="2531.1" width="30.5" height="7.3" fill="#e3424b"/>
<text x="1651.5" y="2541.6" font-family="Liberation Sans" font-size="11.0" text-anchor="middle" fill="#111">-0.23</text>
<line x1="1651.5" y1="2609.0" x2="1651.5" y2="2611.5" stroke="#555" stroke-width="1"/>
<text x="1648.5" y="2621.0" font-family="Liberation Sans" font-size="17.5" fill="#111" text-anchor="end" textLength="120.0" lengthAdjust="spacingAndGlyphs" transform="rotate(-30 1648.5 2621.0)">EncoderLayer2</text>
<rect x="1679.8" y="2531.1" width="30.5" height="16.1" fill="#e3424b"/>
<text x="1695.1" y="2541.6" font-family="Liberation Sans" font-size="11.0" text-anchor="middle" fill="#111">-0.51</text>
<line x1="1695.1" y1="2609.0" x2="1695.1" y2="2611.5" stroke="#555" stroke-width="1"/>
<text x="1692.1" y="2621.0" font-family="Liberation Sans" font-size="17.5" fill="#111" text-anchor="end" textLength="120.0" lengthAdjust="spacingAndGlyphs" transform="rotate(-30 1692.1 2621.0)">EncoderLayer3</text>
<rect x="1723.5" y="2524.2" width="30.5" height="6.9" fill="#4878a3"/>
<text x="1738.7" y="2515.2" font-family="Liberation Sans" font-size="11.0" text-anchor="middle" fill="#222">0.22</text>
<line x1="1738.7" y1="2609.0" x2="1738.7" y2="2611.5" stroke="#555" stroke-width="1"/>
<text x="1735.7" y="2621.0" font-family="Liberation Sans" font-size="17.5" fill="#111" text-anchor="end" textLength="120.0" lengthAdjust="spacingAndGlyphs" transform="rotate(-30 1735.7 2621.0)">EncoderLayer4</text>
<rect x="1767.0" y="2518.2" width="30.5" height="12.9" fill="#4878a3"/>
<text x="1782.3" y="2509.2" font-family="Liberation Sans" font-size="11.0" text-anchor="middle" fill="#222">0.41</text>
<line x1="1782.3" y1="2609.0" x2="1782.3" y2="2611.5" stroke="#555" stroke-width="1"/>
<text x="1779.3" y="2621.0" font-family="Liberation Sans" font-size="17.5" fill="#111" text-anchor="end" textLength="120.0" lengthAdjust="spacingAndGlyphs" transform="rotate(-30 1779.3 2621.0)">EncoderLayer5</text>
<rect x="1810.7" y="2527.3" width="30.5" height="3.8" fill="#4878a3"/>
<text x="1825.9" y="2518.3" font-family="Liberation Sans" font-size="11.0" text-anchor="middle" fill="#222">0.12</text>
<line x1="1825.9" y1="2609.0" x2="1825.9" y2="2611.5" stroke="#555" stroke-width="1"/>
<text x="1822.9" y="2621.0" font-family="Liberation Sans" font-size="17.5" fill="#111" text-anchor="end" textLength="120.0" lengthAdjust="spacingAndGlyphs" transform="rotate(-30 1822.9 2621.0)">EncoderLayer6</text>
<rect x="1854.2" y="2520.1" width="30.5" height="11.0" fill="#4878a3"/>
<text x="1869.5" y="2511.1" font-family="Liberation Sans" font-size="11.0" text-anchor="middle" fill="#222">0.35</text>
<line x1="1869.5" y1="2609.0" x2="1869.5" y2="2611.5" stroke="#555" stroke-width="1"/>
<text x="1866.5" y="2621.0" font-family="Liberation Sans" font-size="17.5" fill="#111" text-anchor="end" textLength="120.0" lengthAdjust="spacingAndGlyphs" transform="rotate(-30 1866.5 2621.0)">EncoderLayer7</text>
<line x1="1532.5" y1="2531.1" x2="1901.5" y2="2531.1" stroke="#777" stroke-width="1.2"/>
<line x1="1532.5" y1="2453.0" x2="1532.5" y2="2609.0" stroke="#888" stroke-width="1.2"/>
<line x1="1532.5" y1="2609.0" x2="1901.5" y2="2609.0" stroke="#888" stroke-width="1.2"/>
<rect x="1780.9" y="2463.6" width="21.7" height="6.9" fill="#e3424b"/>
<rect x="1780.9" y="2479.6" width="21.7" height="7.1" fill="#4878a3"/>
<text x="1811.6" y="2471.0" font-family="Liberation Sans" font-size="11.5" fill="#222" textLength="63.0" lengthAdjust="spacingAndGlyphs">Conflicting</text>
<text x="1811.6" y="2487.4" font-family="Liberation Sans" font-size="11.5" fill="#222" textLength="86.0" lengthAdjust="spacingAndGlyphs">Non-conflicting</text>
<text x="1482.6" y="2531.0" font-family="Liberation Sans" font-size="23.0" fill="#111" text-anchor="middle" dominant-baseline="central" transform="rotate(-90 1482.6 2531.0)" textLength="136.0" lengthAdjust="spacingAndGlyphs">Cosine Value</text>
<text x="1717.5" y="2705.2" font-family="Liberation Sans" font-size="19.5" text-anchor="middle" fill="#111" textLength="129.0" lengthAdjust="spacingAndGlyphs">Model Layer</text>
<line x1="2033.5" y1="2475.8" x2="2397.3" y2="2475.8" stroke="#cfcfcf" stroke-width="0.8" stroke-dasharray="2 2"/>
<line x1="2033.5" y1="2506.9" x2="2397.3" y2="2506.9" stroke="#cfcfcf" stroke-width="0.8" stroke-dasharray="2 2"/>
<line x1="2033.5" y1="2569.1" x2="2397.3" y2="2569.1" stroke="#cfcfcf" stroke-width="0.8" stroke-dasharray="2 2"/>
<line x1="2033.5" y1="2600.2" x2="2397.3" y2="2600.2" stroke="#cfcfcf" stroke-width="0.8" stroke-dasharray="2 2"/>
<text x="2028.6" y="2482.2" font-family="Liberation Sans" font-size="18.7" text-anchor="end" fill="#111">2</text>
<text x="2028.6" y="2513.3" font-family="Liberation Sans" font-size="18.7" text-anchor="end" fill="#111">1</text>
<text x="2028.6" y="2544.4" font-family="Liberation Sans" font-size="18.7" text-anchor="end" fill="#111">0</text>
<text x="2028.6" y="2575.5" font-family="Liberation Sans" font-size="18.7" text-anchor="end" fill="#111">−1</text>
<text x="2028.6" y="2606.6" font-family="Liberation Sans" font-size="18.7" text-anchor="end" fill="#111">−2</text>
<rect x="2049.8" y="2530.2" width="30.1" height="7.8" fill="#4878a3"/>
<text x="2064.9" y="2521.4" font-family="Liberation Sans" font-size="10.8" text-anchor="middle" fill="#222">0.25</text>
<line x1="2064.9" y1="2614.8" x2="2064.9" y2="2617.3" stroke="#555" stroke-width="1"/>
<text x="2061.9" y="2626.6" font-family="Liberation Sans" font-size="17.3" fill="#111" text-anchor="end" textLength="118.3" lengthAdjust="spacingAndGlyphs" transform="rotate(-30 2061.9 2626.6)">EncoderLayer0</text>
<rect x="2092.8" y="2538.0" width="30.1" height="8.7" fill="#e3424b"/>
<text x="2107.8" y="2548.4" font-family="Liberation Sans" font-size="10.8" text-anchor="middle" fill="#111">-0.28</text>
<line x1="2107.8" y1="2614.8" x2="2107.8" y2="2617.3" stroke="#555" stroke-width="1"/>
<text x="2104.9" y="2626.6" font-family="Liberation Sans" font-size="17.3" fill="#111" text-anchor="end" textLength="118.3" lengthAdjust="spacingAndGlyphs" transform="rotate(-30 2104.9 2626.6)">EncoderLayer1</text>
<rect x="2135.8" y="2538.0" width="30.1" height="10.3" fill="#e3424b"/>
<text x="2150.8" y="2548.4" font-family="Liberation Sans" font-size="10.8" text-anchor="middle" fill="#111">-0.33</text>
<line x1="2150.8" y1="2614.8" x2="2150.8" y2="2617.3" stroke="#555" stroke-width="1"/>
<text x="2147.9" y="2626.6" font-family="Liberation Sans" font-size="17.3" fill="#111" text-anchor="end" textLength="118.3" lengthAdjust="spacingAndGlyphs" transform="rotate(-30 2147.9 2626.6)">EncoderLayer2</text>
<rect x="2178.8" y="2538.0" width="30.1" height="19.0" fill="#e3424b"/>
<text x="2193.8" y="2548.4" font-family="Liberation Sans" font-size="10.8" text-anchor="middle" fill="#111">-0.61</text>
<line x1="2193.8" y1="2614.8" x2="2193.8" y2="2617.3" stroke="#555" stroke-width="1"/>
<text x="2190.9" y="2626.6" font-family="Liberation Sans" font-size="17.3" fill="#111" text-anchor="end" textLength="118.3" lengthAdjust="spacingAndGlyphs" transform="rotate(-30 2190.9 2626.6)">EncoderLayer3</text>
<rect x="2221.8" y="2533.3" width="30.1" height="4.7" fill="#4878a3"/>
<text x="2236.8" y="2524.5" font-family="Liberation Sans" font-size="10.8" text-anchor="middle" fill="#222">0.15</text>
<line x1="2236.8" y1="2614.8" x2="2236.8" y2="2617.3" stroke="#555" stroke-width="1"/>
<text x="2233.9" y="2626.6" font-family="Liberation Sans" font-size="17.3" fill="#111" text-anchor="end" textLength="118.3" lengthAdjust="spacingAndGlyphs" transform="rotate(-30 2233.9 2626.6)">EncoderLayer4</text>
<rect x="2264.8" y="2526.5" width="30.1" height="11.5" fill="#4878a3"/>
<text x="2279.8" y="2517.6" font-family="Liberation Sans" font-size="10.8" text-anchor="middle" fill="#222">0.37</text>
<line x1="2279.8" y1="2614.8" x2="2279.8" y2="2617.3" stroke="#555" stroke-width="1"/>
<text x="2276.8" y="2626.6" font-family="Liberation Sans" font-size="17.3" fill="#111" text-anchor="end" textLength="118.3" lengthAdjust="spacingAndGlyphs" transform="rotate(-30 2276.8 2626.6)">EncoderLayer5</text>
<rect x="2307.8" y="2529.3" width="30.1" height="8.7" fill="#4878a3"/>
<text x="2322.8" y="2520.4" font-family="Liberation Sans" font-size="10.8" text-anchor="middle" fill="#222">0.28</text>
<line x1="2322.8" y1="2614.8" x2="2322.8" y2="2617.3" stroke="#555" stroke-width="1"/>
<text x="2319.8" y="2626.6" font-family="Liberation Sans" font-size="17.3" fill="#111" text-anchor="end" textLength="118.3" lengthAdjust="spacingAndGlyphs" transform="rotate(-30 2319.8 2626.6)">EncoderLayer6</text>
<rect x="2350.7" y="2532.7" width="30.1" height="5.3" fill="#4878a3"/>
<text x="2365.8" y="2523.8" font-family="Liberation Sans" font-size="10.8" text-anchor="middle" fill="#222">0.17</text>
<line x1="2365.8" y1="2614.8" x2="2365.8" y2="2617.3" stroke="#555" stroke-width="1"/>
<text x="2362.8" y="2626.6" font-family="Liberation Sans" font-size="17.3" fill="#111" text-anchor="end" textLength="118.3" lengthAdjust="spacingAndGlyphs" transform="rotate(-30 2362.8 2626.6)">EncoderLayer7</text>
<line x1="2033.5" y1="2538.0" x2="2397.3" y2="2538.0" stroke="#777" stroke-width="1.2"/>
<line x1="2033.5" y1="2461.0" x2="2033.5" y2="2614.8" stroke="#888" stroke-width="1.2"/>
<line x1="2033.5" y1="2614.8" x2="2397.3" y2="2614.8" stroke="#888" stroke-width="1.2"/>
<rect x="2278.4" y="2471.5" width="21.4" height="6.8" fill="#e3424b"/>
<rect x="2278.4" y="2487.2" width="21.4" height="7.0" fill="#4878a3"/>
<text x="2308.7" y="2478.7" font-family="Liberation Sans" font-size="11.3" fill="#222" textLength="62.1" lengthAdjust="spacingAndGlyphs">Conflicting</text>
<text x="2308.7" y="2494.9" font-family="Liberation Sans" font-size="11.3" fill="#222" textLength="84.8" lengthAdjust="spacingAndGlyphs">Non-conflicting</text>
<text x="1984.3" y="2537.9" font-family="Liberation Sans" font-size="22.7" fill="#111" text-anchor="middle" dominant-baseline="central" transform="rotate(-90 1984.3 2537.9)" textLength="134.1" lengthAdjust="spacingAndGlyphs">Cosine Value</text>
<text x="2215.9" y="2709.7" font-family="Liberation Sans" font-size="19.2" text-anchor="middle" fill="#111" textLength="127.2" lengthAdjust="spacingAndGlyphs">Model Layer</text>
<line x1="2487.0" y1="2464.1" x2="2843.1" y2="2464.1" stroke="#cfcfcf" stroke-width="0.8" stroke-dasharray="2 2"/>
<line x1="2487.0" y1="2494.5" x2="2843.1" y2="2494.5" stroke="#cfcfcf" stroke-width="0.8" stroke-dasharray="2 2"/>
<line x1="2487.0" y1="2555.4" x2="2843.1" y2="2555.4" stroke="#cfcfcf" stroke-width="0.8" stroke-dasharray="2 2"/>
<line x1="2487.0" y1="2585.9" x2="2843.1" y2="2585.9" stroke="#cfcfcf" stroke-width="0.8" stroke-dasharray="2 2"/>
<text x="2482.2" y="2470.3" font-family="Liberation Sans" font-size="18.3" text-anchor="end" fill="#111">2</text>
<text x="2482.2" y="2500.8" font-family="Liberation Sans" font-size="18.3" text-anchor="end" fill="#111">1</text>
<text x="2482.2" y="2531.2" font-family="Liberation Sans" font-size="18.3" text-anchor="end" fill="#111">0</text>
<text x="2482.2" y="2561.7" font-family="Liberation Sans" font-size="18.3" text-anchor="end" fill="#111">−1</text>
<text x="2482.2" y="2592.1" font-family="Liberation Sans" font-size="18.3" text-anchor="end" fill="#111">−2</text>
<rect x="2503.0" y="2519.5" width="29.4" height="5.5" fill="#4878a3"/>
<text x="2517.7" y="2510.8" font-family="Liberation Sans" font-size="10.6" text-anchor="middle" fill="#222">0.18</text>
<line x1="2517.7" y1="2600.1" x2="2517.7" y2="2602.6" stroke="#555" stroke-width="1"/>
<text x="2514.8" y="2611.7" font-family="Liberation Sans" font-size="16.9" fill="#111" text-anchor="end" textLength="115.8" lengthAdjust="spacingAndGlyphs" transform="rotate(-30 2514.8 2611.7)">EncoderLayer0</text>
<rect x="2545.0" y="2525.0" width="29.4" height="9.1" fill="#e3424b"/>
<text x="2559.8" y="2535.1" font-family="Liberation Sans" font-size="10.6" text-anchor="middle" fill="#111">-0.30</text>
<line x1="2559.8" y1="2600.1" x2="2559.8" y2="2602.6" stroke="#555" stroke-width="1"/>
<text x="2556.9" y="2611.7" font-family="Liberation Sans" font-size="16.9" fill="#111" text-anchor="end" textLength="115.8" lengthAdjust="spacingAndGlyphs" transform="rotate(-30 2556.9 2611.7)">EncoderLayer1</text>
<rect x="2587.1" y="2525.0" width="29.4" height="13.1" fill="#e3424b"/>
<text x="2601.8" y="2535.1" font-family="Liberation Sans" font-size="10.6" text-anchor="middle" fill="#111">-0.43</text>
<line x1="2601.8" y1="2600.1" x2="2601.8" y2="2602.6" stroke="#555" stroke-width="1"/>
<text x="2598.9" y="2611.7" font-family="Liberation Sans" font-size="16.9" fill="#111" text-anchor="end" textLength="115.8" lengthAdjust="spacingAndGlyphs" transform="rotate(-30 2598.9 2611.7)">EncoderLayer2</text>
<rect x="2629.2" y="2525.0" width="29.4" height="6.4" fill="#e3424b"/>
<text x="2643.9" y="2535.1" font-family="Liberation Sans" font-size="10.6" text-anchor="middle" fill="#111">-0.21</text>
<line x1="2643.9" y1="2600.1" x2="2643.9" y2="2602.6" stroke="#555" stroke-width="1"/>
<text x="2641.0" y="2611.7" font-family="Liberation Sans" font-size="16.9" fill="#111" text-anchor="end" textLength="115.8" lengthAdjust="spacingAndGlyphs" transform="rotate(-30 2641.0 2611.7)">EncoderLayer3</text>
<rect x="2671.3" y="2518.0" width="29.4" height="7.0" fill="#4878a3"/>
<text x="2686.0" y="2509.3" font-family="Liberation Sans" font-size="10.6" text-anchor="middle" fill="#222">0.23</text>
<line x1="2686.0" y1="2600.1" x2="2686.0" y2="2602.6" stroke="#555" stroke-width="1"/>
<text x="2683.1" y="2611.7" font-family="Liberation Sans" font-size="16.9" fill="#111" text-anchor="end" textLength="115.8" lengthAdjust="spacingAndGlyphs" transform="rotate(-30 2683.1 2611.7)">EncoderLayer4</text>
<rect x="2713.3" y="2513.1" width="29.4" height="11.9" fill="#4878a3"/>
<text x="2728.1" y="2504.4" font-family="Liberation Sans" font-size="10.6" text-anchor="middle" fill="#222">0.39</text>
<line x1="2728.1" y1="2600.1" x2="2728.1" y2="2602.6" stroke="#555" stroke-width="1"/>
<text x="2725.2" y="2611.7" font-family="Liberation Sans" font-size="16.9" fill="#111" text-anchor="end" textLength="115.8" lengthAdjust="spacingAndGlyphs" transform="rotate(-30 2725.2 2611.7)">EncoderLayer5</text>
<rect x="2755.4" y="2510.4" width="29.4" height="14.6" fill="#4878a3"/>
<text x="2770.1" y="2501.7" font-family="Liberation Sans" font-size="10.6" text-anchor="middle" fill="#222">0.48</text>
<line x1="2770.1" y1="2600.1" x2="2770.1" y2="2602.6" stroke="#555" stroke-width="1"/>
<text x="2767.2" y="2611.7" font-family="Liberation Sans" font-size="16.9" fill="#111" text-anchor="end" textLength="115.8" lengthAdjust="spacingAndGlyphs" transform="rotate(-30 2767.2 2611.7)">EncoderLayer6</text>
<rect x="2797.5" y="2518.6" width="29.4" height="6.4" fill="#4878a3"/>
<text x="2812.2" y="2509.9" font-family="Liberation Sans" font-size="10.6" text-anchor="middle" fill="#222">0.21</text>
<line x1="2812.2" y1="2600.1" x2="2812.2" y2="2602.6" stroke="#555" stroke-width="1"/>
<text x="2809.3" y="2611.7" font-family="Liberation Sans" font-size="16.9" fill="#111" text-anchor="end" textLength="115.8" lengthAdjust="spacingAndGlyphs" transform="rotate(-30 2809.3 2611.7)">EncoderLayer7</text>
<line x1="2487.0" y1="2525.0" x2="2843.1" y2="2525.0" stroke="#777" stroke-width="1.2"/>
<line x1="2487.0" y1="2449.6" x2="2487.0" y2="2600.1" stroke="#888" stroke-width="1.2"/>
<line x1="2487.0" y1="2600.1" x2="2843.1" y2="2600.1" stroke="#888" stroke-width="1.2"/>
<rect x="2726.7" y="2459.8" width="20.9" height="6.7" fill="#e3424b"/>
<rect x="2726.7" y="2475.3" width="20.9" height="6.9" fill="#4878a3"/>
<text x="2756.3" y="2467.0" font-family="Liberation Sans" font-size="11.1" fill="#222" textLength="60.8" lengthAdjust="spacingAndGlyphs">Conflicting</text>
<text x="2756.3" y="2482.8" font-family="Liberation Sans" font-size="11.1" fill="#222" textLength="83.0" lengthAdjust="spacingAndGlyphs">Non-conflicting</text>
<text x="2438.8" y="2524.9" font-family="Liberation Sans" font-size="22.2" fill="#111" text-anchor="middle" dominant-baseline="central" transform="rotate(-90 2438.8 2524.9)" textLength="131.2" lengthAdjust="spacingAndGlyphs">Cosine Value</text>
<text x="2665.5" y="2693.0" font-family="Liberation Sans" font-size="18.8" text-anchor="middle" fill="#111" textLength="124.5" lengthAdjust="spacingAndGlyphs">Model Layer</text>
<text x="1636.3" y="2759.0" font-family="Liberation Sans" font-size="25.0" textLength="148.4" lengthAdjust="spacingAndGlyphs">(a) Epoch 10</text>
<text x="2136.0" y="2757.6" font-family="Liberation Sans" font-size="25.0" textLength="151.2" lengthAdjust="spacingAndGlyphs">(b) Epoch 20</text>
<text x="2555.0" y="2757.6" font-family="Liberation Sans" font-size="25.0" textLength="150.5" lengthAdjust="spacingAndGlyphs">(c) Epoch 30</text>
<rect x="1496.6" y="2779.7" width="1320.4" height="76.3" fill="#b4b4b4"/>
<text x="1502.7" y="2813.6" font-family="Liberation Sans" font-size="26.0" textLength="1198.3" lengthAdjust="spacingAndGlyphs">Figure: During two-stage training (without multi-objective optimization), the <tspan font-weight="bold" fill="#ff0000">Conformer model</tspan> exhibits</text>
<text x="1502.7" y="2843.8" font-family="Liberation Sans" font-size="26.0" textLength="542.3" lengthAdjust="spacingAndGlyphs">persistent gradient conflicts in the same layers</text>
<text x="2888.0" y="419.0" font-family="Liberation Sans" font-size="35.0" textLength="811.5" lengthAdjust="spacingAndGlyphs">Apply a lightweight conflict-based pruning strategy</text>
<rect x="2929.8" y="448.8" width="677.4" height="49.4" fill="#bcbccb" stroke="#4a72c4" stroke-width="1.6"/>
<text x="2936.0" y="485.0" font-family="Liberation Sans" font-size="35.0" textLength="663.0" lengthAdjust="spacingAndGlyphs">Detect conflicting layers in the first 20 epochs</text>
<rect x="2878.5" y="516.5" width="810.4" height="50.7" fill="#bcbccb" stroke="#4a72c4" stroke-width="1.6"/>
<text x="2884.0" y="552.7" font-family="Liberation Sans" font-size="35.0" textLength="798.0" lengthAdjust="spacingAndGlyphs">Limit the dynamic update-direction only to those layers</text>
<line x1="3708.8" y1="407.8" x2="4257.5" y2="407.8" stroke="#000" stroke-width="2.2"/>
<line x1="3708.8" y1="474.4" x2="4257.5" y2="474.4" stroke="#000" stroke-width="1.5"/>
<line x1="3708.8" y1="566.9" x2="4257.5" y2="566.9" stroke="#000" stroke-width="2.2"/>
<text x="3711.0" y="448.0" font-family="Liberation Serif" font-size="24.0">Model</text>
<text x="4061.4" y="434.3" font-family="Liberation Serif" font-size="24.0" text-anchor="middle">GPU</text>
<text x="4061.4" y="460.2" font-family="Liberation Serif" font-size="24.0" text-anchor="middle" textLength="135.4" lengthAdjust="spacingAndGlyphs">Memory (GB)</text>
<text x="4208.0" y="434.3" font-family="Liberation Serif" font-size="24.0" text-anchor="middle">Time</text>
<text x="4207.3" y="460.2" font-family="Liberation Serif" font-size="24.0" text-anchor="middle" textLength="90.6" lengthAdjust="spacingAndGlyphs">(h/epoch)</text>
<text x="3711.0" y="500.3" font-family="Liberation Serif" font-size="24.0">Two-stage</text>
<text x="4062.6" y="500.3" font-family="Liberation Serif" font-size="24.0" text-anchor="middle">12.5</text>
<text x="4207.5" y="500.3" font-family="Liberation Serif" font-size="24.0" text-anchor="middle">3.5</text>
<text x="3711.0" y="526.8" font-family="Liberation Serif" font-size="24.0">MSP (dynamic weighting)</text>
<text x="4062.6" y="526.8" font-family="Liberation Serif" font-size="24.0" text-anchor="middle">14.7</text>
<text x="4207.5" y="526.8" font-family="Liberation Serif" font-size="24.0" text-anchor="middle">4.1</text>
<text x="3711.0" y="552.7" font-family="Liberation Serif" font-size="24.0">MSP (Efficient)</text>
<text x="4062.6" y="552.7" font-family="Liberation Serif" font-size="24.0" text-anchor="middle">12.8</text>
<text x="4207.5" y="552.7" font-family="Liberation Serif" font-size="24.0" text-anchor="middle">3.7</text>
<text x="2993.0" y="628.5" font-family="Liberation Sans" font-size="35.0" fill="#e00000" textLength="1102.4" lengthAdjust="spacingAndGlyphs">Without compromising performance improves computation efficiency</text>
<rect x="2872.1" y="794.8" width="1409.6" height="116.8" fill="#fff" stroke="#2f5597" stroke-width="3.5"/>
<text x="2879.6" y="835.0" font-family="Liberation Sans" font-size="35.0" textLength="1349.4" lengthAdjust="spacingAndGlyphs">1. <tspan font-weight="bold">Multi-objective optimization</tspan> balances conflicting tasks and drives MSP towards</text>
<text x="2879.6" y="879.4" font-family="Liberation Sans" font-size="35.0" textLength="398.9" lengthAdjust="spacingAndGlyphs">Pareto-optimal solutions.</text>
<rect x="2872.1" y="933.2" width="1409.6" height="118.8" fill="#fff" stroke="#2f5597" stroke-width="3.5"/>
<text x="2877.7" y="976.7" font-family="Liberation Sans" font-size="35.0" textLength="1311.3" lengthAdjust="spacingAndGlyphs">2. <tspan font-weight="bold">Multilevel optimization (VM-MSP)</tspan> further improves MSP by separating highly</text>
<text x="2877.7" y="1018.6" font-family="Liberation Sans" font-size="35.0" textLength="912.3" lengthAdjust="spacingAndGlyphs">conflicting objectives across different optimization levels.</text>
<line x1="2896.0" y1="1066.7" x2="4258.7" y2="1066.7" stroke="#000" stroke-width="2.6"/>
<line x1="2896.0" y1="1135.8" x2="4258.7" y2="1135.8" stroke="#000" stroke-width="2"/>
<text x="3042.3" y="1097.5" font-family="Liberation Serif" font-size="21.5" text-anchor="middle">Task</text>
<text x="3042.3" y="1123.4" font-family="Liberation Serif" font-size="21.5" text-anchor="middle">Param</text>
<text x="3247.6" y="1111.0" font-family="Liberation Serif" font-size="21.5" text-anchor="middle">Lang</text>
<text x="3371.6" y="1097.5" font-family="Liberation Serif" font-size="21.5" text-anchor="middle">Two-stage</text>
<text x="3371.6" y="1123.4" font-family="Liberation Serif" font-size="21.5" text-anchor="middle">training</text>
<text x="3502.3" y="1097.5" font-family="Liberation Serif" font-size="21.5" text-anchor="middle">Two-stage</text>
<text x="3502.3" y="1123.4" font-family="Liberation Serif" font-size="21.5" text-anchor="middle">static</text>
<text x="3622.5" y="1097.5" font-family="Liberation Serif" font-size="21.5" text-anchor="middle">Joint</text>
<text x="3622.5" y="1123.4" font-family="Liberation Serif" font-size="21.5" text-anchor="middle">training</text>
<text x="3726.7" y="1097.5" font-family="Liberation Serif" font-size="21.5" text-anchor="middle">VS-</text>
<text x="3726.7" y="1123.4" font-family="Liberation Serif" font-size="21.5" text-anchor="middle">MSP</text>
<text x="3824.0" y="1097.5" font-family="Liberation Serif" font-size="21.5" text-anchor="middle">VC-</text>
<text x="3824.0" y="1123.4" font-family="Liberation Serif" font-size="21.5" text-anchor="middle">MSP</text>
<text x="3938.0" y="1097.5" font-family="Liberation Serif" font-size="21.5" text-anchor="middle">VM-MSP</text>
<text x="3938.0" y="1123.4" font-family="Liberation Serif" font-size="21.5" text-anchor="middle">UAS</text>
<text x="4064.5" y="1097.5" font-family="Liberation Serif" font-size="21.5" text-anchor="middle">VM-MSP</text>
<text x="4064.5" y="1123.4" font-family="Liberation Serif" font-size="21.5" text-anchor="middle">USA</text>
<text x="4192.7" y="1097.5" font-family="Liberation Serif" font-size="21.5" text-anchor="middle">VM-MSP</text>
<text x="4192.7" y="1123.4" font-family="Liberation Serif" font-size="21.5" text-anchor="middle">(Efficient)</text>
<rect x="3189.0" y="1290.0" width="1069.7" height="24.6" fill="#e4f7fb"/>
<text x="3247.6" y="1164.7" font-family="Liberation Serif" font-size="21.5" text-anchor="middle">En</text>
<text x="3371.6" y="1164.7" font-family="Liberation Serif" font-size="21.5" text-anchor="middle">22.2%</text>
<text x="3502.3" y="1164.7" font-family="Liberation Serif" font-size="21.5" text-anchor="middle">22.2%</text>
<text x="3622.5" y="1164.7" font-family="Liberation Serif" font-size="21.5" text-anchor="middle">21.3%</text>
<text x="3726.7" y="1164.7" font-family="Liberation Serif" font-size="21.5" text-anchor="middle">21.1%</text>
<text x="3824.0" y="1164.7" font-family="Liberation Serif" font-size="21.5" text-anchor="middle">20.6%</text>
<text x="3938.0" y="1164.7" font-family="Liberation Serif" font-size="21.5" text-anchor="middle" font-weight="bold" textLength="72.0" lengthAdjust="spacingAndGlyphs">19.7%</text>
<text x="4064.5" y="1164.7" font-family="Liberation Serif" font-size="21.5" text-anchor="middle">19.9%</text>
<text x="4192.7" y="1164.7" font-family="Liberation Serif" font-size="21.5" text-anchor="middle">19.6%</text>
<text x="3247.6" y="1190.0" font-family="Liberation Serif" font-size="21.5" text-anchor="middle">Fr</text>
<text x="3371.6" y="1190.0" font-family="Liberation Serif" font-size="21.5" text-anchor="middle">23.8%</text>
<text x="3502.3" y="1190.0" font-family="Liberation Serif" font-size="21.5" text-anchor="middle">23.6%</text>
<text x="3622.5" y="1190.0" font-family="Liberation Serif" font-size="21.5" text-anchor="middle">22.9%</text>
<text x="3726.7" y="1190.0" font-family="Liberation Serif" font-size="21.5" text-anchor="middle">23.1%</text>
<text x="3824.0" y="1190.0" font-family="Liberation Serif" font-size="21.5" text-anchor="middle">22.6%</text>
<text x="3938.0" y="1190.0" font-family="Liberation Serif" font-size="21.5" text-anchor="middle" font-weight="bold" textLength="72.0" lengthAdjust="spacingAndGlyphs">21.8%</text>
<text x="4064.5" y="1190.0" font-family="Liberation Serif" font-size="21.5" text-anchor="middle">22.1%</text>
<text x="4192.7" y="1190.0" font-family="Liberation Serif" font-size="21.5" text-anchor="middle">21.7%</text>
<text x="3247.6" y="1214.7" font-family="Liberation Serif" font-size="21.5" text-anchor="middle">De</text>
<text x="3371.6" y="1214.7" font-family="Liberation Serif" font-size="21.5" text-anchor="middle">16.7%</text>
<text x="3502.3" y="1214.7" font-family="Liberation Serif" font-size="21.5" text-anchor="middle">16.6%</text>
<text x="3622.5" y="1214.7" font-family="Liberation Serif" font-size="21.5" text-anchor="middle">16.1%</text>
<text x="3726.7" y="1214.7" font-family="Liberation Serif" font-size="21.5" text-anchor="middle">16.0%</text>
<text x="3824.0" y="1214.7" font-family="Liberation Serif" font-size="21.5" text-anchor="middle">15.3%</text>
<text x="3938.0" y="1214.7" font-family="Liberation Serif" font-size="21.5" text-anchor="middle" font-weight="bold" textLength="72.0" lengthAdjust="spacingAndGlyphs">14.6%</text>
<text x="4064.5" y="1214.7" font-family="Liberation Serif" font-size="21.5" text-anchor="middle">14.9%</text>
<text x="4192.7" y="1214.7" font-family="Liberation Serif" font-size="21.5" text-anchor="middle">14.7%</text>
<text x="3247.6" y="1240.6" font-family="Liberation Serif" font-size="21.5" text-anchor="middle">Es</text>
<text x="3371.6" y="1240.6" font-family="Liberation Serif" font-size="21.5" text-anchor="middle">18.8%</text>
<text x="3502.3" y="1240.6" font-family="Liberation Serif" font-size="21.5" text-anchor="middle">18.9%</text>
<text x="3622.5" y="1240.6" font-family="Liberation Serif" font-size="21.5" text-anchor="middle">18.2%</text>
<text x="3726.7" y="1240.6" font-family="Liberation Serif" font-size="21.5" text-anchor="middle">18.4%</text>
<text x="3824.0" y="1240.6" font-family="Liberation Serif" font-size="21.5" text-anchor="middle">17.7%</text>
<text x="3938.0" y="1240.6" font-family="Liberation Serif" font-size="21.5" text-anchor="middle" font-weight="bold" textLength="72.0" lengthAdjust="spacingAndGlyphs">17.0%</text>
<text x="4064.5" y="1240.6" font-family="Liberation Serif" font-size="21.5" text-anchor="middle">17.2%</text>
<text x="4192.7" y="1240.6" font-family="Liberation Serif" font-size="21.5" text-anchor="middle">16.9%</text>
<text x="3247.6" y="1265.2" font-family="Liberation Serif" font-size="21.5" text-anchor="middle">Ca</text>
<text x="3371.6" y="1265.2" font-family="Liberation Serif" font-size="21.5" text-anchor="middle">21.2%</text>
<text x="3502.3" y="1265.2" font-family="Liberation Serif" font-size="21.5" text-anchor="middle">21.0%</text>
<text x="3622.5" y="1265.2" font-family="Liberation Serif" font-size="21.5" text-anchor="middle">20.5%</text>
<text x="3726.7" y="1265.2" font-family="Liberation Serif" font-size="21.5" text-anchor="middle">20.3%</text>
<text x="3824.0" y="1265.2" font-family="Liberation Serif" font-size="21.5" text-anchor="middle">19.8%</text>
<text x="3938.0" y="1265.2" font-family="Liberation Serif" font-size="21.5" text-anchor="middle" font-weight="bold" textLength="72.0" lengthAdjust="spacingAndGlyphs">19.1%</text>
<text x="4064.5" y="1265.2" font-family="Liberation Serif" font-size="21.5" text-anchor="middle">19.3%</text>
<text x="4192.7" y="1265.2" font-family="Liberation Serif" font-size="21.5" text-anchor="middle">19.3%</text>
<text x="3247.6" y="1308.4" font-family="Liberation Serif" font-size="21.5" text-anchor="middle">Ave.</text>
<text x="3371.6" y="1308.4" font-family="Liberation Serif" font-size="21.5" text-anchor="middle">20.5%</text>
<text x="3502.3" y="1308.4" font-family="Liberation Serif" font-size="21.5" text-anchor="middle">20.4%</text>
<text x="3622.5" y="1308.4" font-family="Liberation Serif" font-size="21.5" text-anchor="middle">19.8%</text>
<text x="3726.7" y="1308.4" font-family="Liberation Serif" font-size="21.5" text-anchor="middle">19.7%</text>
<text x="3824.0" y="1308.4" font-family="Liberation Serif" font-size="21.5" text-anchor="middle">19.2%</text>
<text x="3938.0" y="1308.4" font-family="Liberation Serif" font-size="21.5" text-anchor="middle" font-weight="bold" textLength="72.0" lengthAdjust="spacingAndGlyphs">18.4%</text>
<text x="4064.5" y="1308.4" font-family="Liberation Serif" font-size="21.5" text-anchor="middle">18.7%</text>
<text x="4192.7" y="1308.4" font-family="Liberation Serif" font-size="21.5" text-anchor="middle">18.4 %</text>
<line x1="3206.0" y1="1279.4" x2="4240.0" y2="1279.4" stroke="#000" stroke-width="1.4"/>
<line x1="2896.0" y1="1323.2" x2="4258.7" y2="1323.2" stroke="#000" stroke-width="2"/>
<text x="3042.3" y="1211.6" font-family="Liberation Serif" font-size="21.5" text-anchor="middle" textLength="251.0" lengthAdjust="spacingAndGlyphs">Speech recognition (WER ↓)</text>
<text x="3042.3" y="1240.6" font-family="Liberation Serif" font-size="21.5" text-anchor="middle">(150 M)</text>
<rect x="3189.0" y="1476.7" width="1069.7" height="24.6" fill="#e4f7fb"/>
<text x="3247.6" y="1351.6" font-family="Liberation Serif" font-size="21.5" text-anchor="middle">En</text>
<text x="3371.6" y="1351.6" font-family="Liberation Serif" font-size="21.5" text-anchor="middle">28.6%</text>
<text x="3502.3" y="1351.6" font-family="Liberation Serif" font-size="21.5" text-anchor="middle">28.4%</text>
<text x="3622.5" y="1351.6" font-family="Liberation Serif" font-size="21.5" text-anchor="middle">27.8%</text>
<text x="3726.7" y="1351.6" font-family="Liberation Serif" font-size="21.5" text-anchor="middle">27.9%</text>
<text x="3824.0" y="1351.6" font-family="Liberation Serif" font-size="21.5" text-anchor="middle">27.3%</text>
<text x="3938.0" y="1351.6" font-family="Liberation Serif" font-size="21.5" text-anchor="middle" font-weight="bold" textLength="72.0" lengthAdjust="spacingAndGlyphs">26.9%</text>
<text x="4064.5" y="1351.6" font-family="Liberation Serif" font-size="21.5" text-anchor="middle">27.2%</text>
<text x="4192.7" y="1351.6" font-family="Liberation Serif" font-size="21.5" text-anchor="middle">26.8%</text>
<text x="3247.6" y="1376.5" font-family="Liberation Serif" font-size="21.5" text-anchor="middle">Fr</text>
<text x="3371.6" y="1376.5" font-family="Liberation Serif" font-size="21.5" text-anchor="middle">26.1%</text>
<text x="3502.3" y="1376.5" font-family="Liberation Serif" font-size="21.5" text-anchor="middle">26.0%</text>
<text x="3622.5" y="1376.5" font-family="Liberation Serif" font-size="21.5" text-anchor="middle">25.3%</text>
<text x="3726.7" y="1376.5" font-family="Liberation Serif" font-size="21.5" text-anchor="middle">25.1%</text>
<text x="3824.0" y="1376.5" font-family="Liberation Serif" font-size="21.5" text-anchor="middle">24.5%</text>
<text x="3938.0" y="1376.5" font-family="Liberation Serif" font-size="21.5" text-anchor="middle" font-weight="bold" textLength="72.0" lengthAdjust="spacingAndGlyphs">24.1%</text>
<text x="4064.5" y="1376.5" font-family="Liberation Serif" font-size="21.5" text-anchor="middle">24.3%</text>
<text x="4192.7" y="1376.5" font-family="Liberation Serif" font-size="21.5" text-anchor="middle">24.3%</text>
<text x="3247.6" y="1401.4" font-family="Liberation Serif" font-size="21.5" text-anchor="middle">De</text>
<text x="3371.6" y="1401.4" font-family="Liberation Serif" font-size="21.5" text-anchor="middle">22.5%</text>
<text x="3502.3" y="1401.4" font-family="Liberation Serif" font-size="21.5" text-anchor="middle">22.6%</text>
<text x="3622.5" y="1401.4" font-family="Liberation Serif" font-size="21.5" text-anchor="middle">22.0%</text>
<text x="3726.7" y="1401.4" font-family="Liberation Serif" font-size="21.5" text-anchor="middle">22.2%</text>
<text x="3824.0" y="1401.4" font-family="Liberation Serif" font-size="21.5" text-anchor="middle">21.6%</text>
<text x="3938.0" y="1401.4" font-family="Liberation Serif" font-size="21.5" text-anchor="middle" font-weight="bold" textLength="72.0" lengthAdjust="spacingAndGlyphs">21.2%</text>
<text x="4064.5" y="1401.4" font-family="Liberation Serif" font-size="21.5" text-anchor="middle">21.5%</text>
<text x="4192.7" y="1401.4" font-family="Liberation Serif" font-size="21.5" text-anchor="middle">20.9%</text>
<text x="3247.6" y="1426.4" font-family="Liberation Serif" font-size="21.5" text-anchor="middle">Es</text>
<text x="3371.6" y="1426.4" font-family="Liberation Serif" font-size="21.5" text-anchor="middle">23.9%</text>
<text x="3502.3" y="1426.4" font-family="Liberation Serif" font-size="21.5" text-anchor="middle">23.8%</text>
<text x="3622.5" y="1426.4" font-family="Liberation Serif" font-size="21.5" text-anchor="middle">23.1%</text>
<text x="3726.7" y="1426.4" font-family="Liberation Serif" font-size="21.5" text-anchor="middle">23.3%</text>
<text x="3824.0" y="1426.4" font-family="Liberation Serif" font-size="21.5" text-anchor="middle">22.6%</text>
<text x="3938.0" y="1426.4" font-family="Liberation Serif" font-size="21.5" text-anchor="middle" font-weight="bold" textLength="72.0" lengthAdjust="spacingAndGlyphs">22.1%</text>
<text x="4064.5" y="1426.4" font-family="Liberation Serif" font-size="21.5" text-anchor="middle">22.3%</text>
<text x="4192.7" y="1426.4" font-family="Liberation Serif" font-size="21.5" text-anchor="middle">22.2%</text>
<text x="3247.6" y="1451.4" font-family="Liberation Serif" font-size="21.5" text-anchor="middle">Ca</text>
<text x="3371.6" y="1451.4" font-family="Liberation Serif" font-size="21.5" text-anchor="middle">25.2%</text>
<text x="3502.3" y="1451.4" font-family="Liberation Serif" font-size="21.5" text-anchor="middle">25.0%</text>
<text x="3622.5" y="1451.4" font-family="Liberation Serif" font-size="21.5" text-anchor="middle">24.6%</text>
<text x="3726.7" y="1451.4" font-family="Liberation Serif" font-size="21.5" text-anchor="middle">24.8%</text>
<text x="3824.0" y="1451.4" font-family="Liberation Serif" font-size="21.5" text-anchor="middle">24.2%</text>
<text x="3938.0" y="1451.4" font-family="Liberation Serif" font-size="21.5" text-anchor="middle" font-weight="bold" textLength="72.0" lengthAdjust="spacingAndGlyphs">23.8%</text>
<text x="4064.5" y="1451.4" font-family="Liberation Serif" font-size="21.5" text-anchor="middle">24.1%</text>
<text x="4192.7" y="1451.4" font-family="Liberation Serif" font-size="21.5" text-anchor="middle">23.9%</text>
<text x="3247.6" y="1494.6" font-family="Liberation Serif" font-size="21.5" text-anchor="middle">Ave.</text>
<text x="3371.6" y="1494.6" font-family="Liberation Serif" font-size="21.5" text-anchor="middle">25.3%</text>
<text x="3502.3" y="1494.6" font-family="Liberation Serif" font-size="21.5" text-anchor="middle">25.1%</text>
<text x="3622.5" y="1494.6" font-family="Liberation Serif" font-size="21.5" text-anchor="middle">24.5%</text>
<text x="3726.7" y="1494.6" font-family="Liberation Serif" font-size="21.5" text-anchor="middle">24.6%</text>
<text x="3824.0" y="1494.6" font-family="Liberation Serif" font-size="21.5" text-anchor="middle">24.0%</text>
<text x="3938.0" y="1494.6" font-family="Liberation Serif" font-size="21.5" text-anchor="middle" font-weight="bold" textLength="72.0" lengthAdjust="spacingAndGlyphs">23.6%</text>
<text x="4064.5" y="1494.6" font-family="Liberation Serif" font-size="21.5" text-anchor="middle">23.9%</text>
<text x="4192.7" y="1494.6" font-family="Liberation Serif" font-size="21.5" text-anchor="middle">23.6 %</text>
<line x1="3206.0" y1="1465.6" x2="4240.0" y2="1465.6" stroke="#000" stroke-width="1.4"/>
<line x1="2896.0" y1="1510.0" x2="4258.7" y2="1510.0" stroke="#000" stroke-width="2"/>
<text x="3042.3" y="1397.8" font-family="Liberation Serif" font-size="21.5" text-anchor="middle" textLength="251.0" lengthAdjust="spacingAndGlyphs">Speech recognition (WER ↓)</text>
<text x="3042.3" y="1426.8" font-family="Liberation Serif" font-size="21.5" text-anchor="middle">(83 M)</text>
<rect x="3189.0" y="1639.3" width="1069.7" height="23.5" fill="#e4f7fb"/>
<text x="3247.6" y="1538.2" font-family="Liberation Serif" font-size="21.5" text-anchor="middle" textLength="74.0" lengthAdjust="spacingAndGlyphs">Fr⟶En</text>
<text x="3371.6" y="1538.2" font-family="Liberation Serif" font-size="21.5" text-anchor="middle">27.2</text>
<text x="3502.3" y="1538.2" font-family="Liberation Serif" font-size="21.5" text-anchor="middle">27.4</text>
<text x="3622.5" y="1538.2" font-family="Liberation Serif" font-size="21.5" text-anchor="middle">28.1</text>
<text x="3726.7" y="1538.2" font-family="Liberation Serif" font-size="21.5" text-anchor="middle">28.3</text>
<text x="3824.0" y="1538.2" font-family="Liberation Serif" font-size="21.5" text-anchor="middle">28.9</text>
<text x="3938.0" y="1538.2" font-family="Liberation Serif" font-size="21.5" text-anchor="middle">29.5</text>
<text x="4064.5" y="1538.2" font-family="Liberation Serif" font-size="21.5" text-anchor="middle" font-weight="bold">29.6</text>
<text x="4192.7" y="1538.2" font-family="Liberation Serif" font-size="21.5" text-anchor="middle">29.4</text>
<text x="3247.6" y="1562.9" font-family="Liberation Serif" font-size="21.5" text-anchor="middle" textLength="74.0" lengthAdjust="spacingAndGlyphs">De⟶En</text>
<text x="3371.6" y="1562.9" font-family="Liberation Serif" font-size="21.5" text-anchor="middle">26.9</text>
<text x="3502.3" y="1562.9" font-family="Liberation Serif" font-size="21.5" text-anchor="middle">27.1</text>
<text x="3622.5" y="1562.9" font-family="Liberation Serif" font-size="21.5" text-anchor="middle">27.9</text>
<text x="3726.7" y="1562.9" font-family="Liberation Serif" font-size="21.5" text-anchor="middle">27.7</text>
<text x="3824.0" y="1562.9" font-family="Liberation Serif" font-size="21.5" text-anchor="middle">28.2</text>
<text x="3938.0" y="1562.9" font-family="Liberation Serif" font-size="21.5" text-anchor="middle">28.5</text>
<text x="4064.5" y="1562.9" font-family="Liberation Serif" font-size="21.5" text-anchor="middle" font-weight="bold">28.7</text>
<text x="4192.7" y="1562.9" font-family="Liberation Serif" font-size="21.5" text-anchor="middle">28.5</text>
<text x="3247.6" y="1588.2" font-family="Liberation Serif" font-size="21.5" text-anchor="middle" textLength="74.0" lengthAdjust="spacingAndGlyphs">Es⟶En</text>
<text x="3371.6" y="1588.2" font-family="Liberation Serif" font-size="21.5" text-anchor="middle">29.1</text>
<text x="3502.3" y="1588.2" font-family="Liberation Serif" font-size="21.5" text-anchor="middle">29.3</text>
<text x="3622.5" y="1588.2" font-family="Liberation Serif" font-size="21.5" text-anchor="middle">30.2</text>
<text x="3726.7" y="1588.2" font-family="Liberation Serif" font-size="21.5" text-anchor="middle">30.0</text>
<text x="3824.0" y="1588.2" font-family="Liberation Serif" font-size="21.5" text-anchor="middle">30.9</text>
<text x="3938.0" y="1588.2" font-family="Liberation Serif" font-size="21.5" text-anchor="middle">31.3</text>
<text x="4064.5" y="1588.2" font-family="Liberation Serif" font-size="21.5" text-anchor="middle" font-weight="bold">31.6</text>
<text x="4192.7" y="1588.2" font-family="Liberation Serif" font-size="21.5" text-anchor="middle">31.5</text>
<text x="3247.6" y="1612.8" font-family="Liberation Serif" font-size="21.5" text-anchor="middle" textLength="74.0" lengthAdjust="spacingAndGlyphs">Ca⟶En</text>
<text x="3371.6" y="1612.8" font-family="Liberation Serif" font-size="21.5" text-anchor="middle">22.7</text>
<text x="3502.3" y="1612.8" font-family="Liberation Serif" font-size="21.5" text-anchor="middle">22.6</text>
<text x="3622.5" y="1612.8" font-family="Liberation Serif" font-size="21.5" text-anchor="middle">23.8</text>
<text x="3726.7" y="1612.8" font-family="Liberation Serif" font-size="21.5" text-anchor="middle">23.6</text>
<text x="3824.0" y="1612.8" font-family="Liberation Serif" font-size="21.5" text-anchor="middle">24.5</text>
<text x="3938.0" y="1612.8" font-family="Liberation Serif" font-size="21.5" text-anchor="middle">25.4</text>
<text x="4064.5" y="1612.8" font-family="Liberation Serif" font-size="21.5" text-anchor="middle" font-weight="bold">25.8</text>
<text x="4192.7" y="1612.8" font-family="Liberation Serif" font-size="21.5" text-anchor="middle">25.6</text>
<text x="3247.6" y="1656.0" font-family="Liberation Serif" font-size="21.5" text-anchor="middle">Ave.</text>
<text x="3371.6" y="1656.0" font-family="Liberation Serif" font-size="21.5" text-anchor="middle">26.5</text>
<text x="3502.3" y="1656.0" font-family="Liberation Serif" font-size="21.5" text-anchor="middle">26.6</text>
<text x="3622.5" y="1656.0" font-family="Liberation Serif" font-size="21.5" text-anchor="middle">27.5</text>
<text x="3726.7" y="1656.0" font-family="Liberation Serif" font-size="21.5" text-anchor="middle">27.4</text>
<text x="3824.0" y="1656.0" font-family="Liberation Serif" font-size="21.5" text-anchor="middle">28.1</text>
<text x="3938.0" y="1656.0" font-family="Liberation Serif" font-size="21.5" text-anchor="middle">28.7</text>
<text x="4064.5" y="1656.0" font-family="Liberation Serif" font-size="21.5" text-anchor="middle" font-weight="bold">28.9</text>
<text x="4192.7" y="1656.0" font-family="Liberation Serif" font-size="21.5" text-anchor="middle">28.8</text>
<line x1="3206.0" y1="1627.6" x2="4240.0" y2="1627.6" stroke="#000" stroke-width="1.4"/>
<line x1="2896.0" y1="1670.8" x2="4258.7" y2="1670.8" stroke="#000" stroke-width="2"/>
<text x="3042.3" y="1585.0" font-family="Liberation Serif" font-size="21.5" text-anchor="middle" textLength="190.0" lengthAdjust="spacingAndGlyphs">Translation (BLEU ↑)</text>
<text x="3042.3" y="1614.0" font-family="Liberation Serif" font-size="21.5" text-anchor="middle">(150 M)</text>
<rect x="3189.0" y="1800.8" width="1069.7" height="23.5" fill="#e4f7fb"/>
<text x="3247.6" y="1699.0" font-family="Liberation Serif" font-size="21.5" text-anchor="middle" textLength="74.0" lengthAdjust="spacingAndGlyphs">Fr⟶En</text>
<text x="3371.6" y="1699.0" font-family="Liberation Serif" font-size="21.5" text-anchor="middle">24.2</text>
<text x="3502.3" y="1699.0" font-family="Liberation Serif" font-size="21.5" text-anchor="middle">23.5</text>
<text x="3622.5" y="1699.0" font-family="Liberation Serif" font-size="21.5" text-anchor="middle">24.1</text>
<text x="3726.7" y="1699.0" font-family="Liberation Serif" font-size="21.5" text-anchor="middle">23.9</text>
<text x="3824.0" y="1699.0" font-family="Liberation Serif" font-size="21.5" text-anchor="middle">25.8</text>
<text x="3938.0" y="1699.0" font-family="Liberation Serif" font-size="21.5" text-anchor="middle">26.5</text>
<text x="4064.5" y="1699.0" font-family="Liberation Serif" font-size="21.5" text-anchor="middle" font-weight="bold">26.6</text>
<text x="4192.7" y="1699.0" font-family="Liberation Serif" font-size="21.5" text-anchor="middle">26.4</text>
<text x="3247.6" y="1723.8" font-family="Liberation Serif" font-size="21.5" text-anchor="middle" textLength="74.0" lengthAdjust="spacingAndGlyphs">De⟶En</text>
<text x="3371.6" y="1723.8" font-family="Liberation Serif" font-size="21.5" text-anchor="middle">22.4</text>
<text x="3502.3" y="1723.8" font-family="Liberation Serif" font-size="21.5" text-anchor="middle">22.6</text>
<text x="3622.5" y="1723.8" font-family="Liberation Serif" font-size="21.5" text-anchor="middle">23.3</text>
<text x="3726.7" y="1723.8" font-family="Liberation Serif" font-size="21.5" text-anchor="middle">23.0</text>
<text x="3824.0" y="1723.8" font-family="Liberation Serif" font-size="21.5" text-anchor="middle">23.9</text>
<text x="3938.0" y="1723.8" font-family="Liberation Serif" font-size="21.5" text-anchor="middle">24.5</text>
<text x="4064.5" y="1723.8" font-family="Liberation Serif" font-size="21.5" text-anchor="middle" font-weight="bold">24.7</text>
<text x="4192.7" y="1723.8" font-family="Liberation Serif" font-size="21.5" text-anchor="middle">24.4</text>
<text x="3247.6" y="1749.7" font-family="Liberation Serif" font-size="21.5" text-anchor="middle" textLength="74.0" lengthAdjust="spacingAndGlyphs">Es⟶En</text>
<text x="3371.6" y="1749.7" font-family="Liberation Serif" font-size="21.5" text-anchor="middle">24.6</text>
<text x="3502.3" y="1749.7" font-family="Liberation Serif" font-size="21.5" text-anchor="middle">24.5</text>
<text x="3622.5" y="1749.7" font-family="Liberation Serif" font-size="21.5" text-anchor="middle">25.1</text>
<text x="3726.7" y="1749.7" font-family="Liberation Serif" font-size="21.5" text-anchor="middle">24.8</text>
<text x="3824.0" y="1749.7" font-family="Liberation Serif" font-size="21.5" text-anchor="middle">25.6</text>
<text x="3938.0" y="1749.7" font-family="Liberation Serif" font-size="21.5" text-anchor="middle">26.1</text>
<text x="4064.5" y="1749.7" font-family="Liberation Serif" font-size="21.5" text-anchor="middle" font-weight="bold">26.5</text>
<text x="4192.7" y="1749.7" font-family="Liberation Serif" font-size="21.5" text-anchor="middle">26.8</text>
<text x="3247.6" y="1774.3" font-family="Liberation Serif" font-size="21.5" text-anchor="middle" textLength="74.0" lengthAdjust="spacingAndGlyphs">Ca⟶En</text>
<text x="3371.6" y="1774.3" font-family="Liberation Serif" font-size="21.5" text-anchor="middle">19.7</text>
<text x="3502.3" y="1774.3" font-family="Liberation Serif" font-size="21.5" text-anchor="middle">19.5</text>
<text x="3622.5" y="1774.3" font-family="Liberation Serif" font-size="21.5" text-anchor="middle">20.2</text>
<text x="3726.7" y="1774.3" font-family="Liberation Serif" font-size="21.5" text-anchor="middle">20.5</text>
<text x="3824.0" y="1774.3" font-family="Liberation Serif" font-size="21.5" text-anchor="middle">20.8</text>
<text x="3938.0" y="1774.3" font-family="Liberation Serif" font-size="21.5" text-anchor="middle">21.3</text>
<text x="4064.5" y="1774.3" font-family="Liberation Serif" font-size="21.5" text-anchor="middle" font-weight="bold">21.6</text>
<text x="4192.7" y="1774.3" font-family="Liberation Serif" font-size="21.5" text-anchor="middle">21.4</text>
<text x="3247.6" y="1817.5" font-family="Liberation Serif" font-size="21.5" text-anchor="middle">Ave.</text>
<text x="3371.6" y="1817.5" font-family="Liberation Serif" font-size="21.5" text-anchor="middle">22.7</text>
<text x="3502.3" y="1817.5" font-family="Liberation Serif" font-size="21.5" text-anchor="middle">22.5</text>
<text x="3622.5" y="1817.5" font-family="Liberation Serif" font-size="21.5" text-anchor="middle">23.2</text>
<text x="3726.7" y="1817.5" font-family="Liberation Serif" font-size="21.5" text-anchor="middle">23.1</text>
<text x="3824.0" y="1817.5" font-family="Liberation Serif" font-size="21.5" text-anchor="middle">24.0</text>
<text x="3938.0" y="1817.5" font-family="Liberation Serif" font-size="21.5" text-anchor="middle">24.6</text>
<text x="4064.5" y="1817.5" font-family="Liberation Serif" font-size="21.5" text-anchor="middle" font-weight="bold">24.9</text>
<text x="4192.7" y="1817.5" font-family="Liberation Serif" font-size="21.5" text-anchor="middle">24.8</text>
<line x1="3206.0" y1="1788.5" x2="4240.0" y2="1788.5" stroke="#000" stroke-width="1.4"/>
<line x1="2896.0" y1="1833.0" x2="4258.7" y2="1833.0" stroke="#000" stroke-width="2.6"/>
<text x="3042.3" y="1746.6" font-family="Liberation Serif" font-size="21.5" text-anchor="middle" textLength="190.0" lengthAdjust="spacingAndGlyphs">Translation (BLEU ↑)</text>
<text x="3042.3" y="1774.3" font-family="Liberation Serif" font-size="21.5" text-anchor="middle">(83 M)</text>
<rect x="3160.0" y="1841.0" width="898.4" height="42.5" fill="#b4b4b4"/>
<text x="3167.5" y="1873.0" font-family="Liberation Sans" font-size="28.0" textLength="884.5" lengthAdjust="spacingAndGlyphs"><tspan font-weight="bold">CoVoST v2:</tspan> Speech recognition and translation using <tspan font-weight="bold">Conformer models.</tspan></text>
<rect x="2872.1" y="1900.7" width="1409.6" height="73.6" fill="#fff" stroke="#2f5597" stroke-width="3.5"/>
<text x="2877.7" y="1942.6" font-family="Liberation Sans" font-size="35.0" textLength="1273.3" lengthAdjust="spacingAndGlyphs">3. The <tspan font-weight="bold">order of optimization</tspan> impacts MSP accuracy in Multilevel optimization.</text>
<rect x="2872.1" y="1990.7" width="1409.6" height="72.9" fill="#fff" stroke="#2f5597" stroke-width="3.5"/>
<text x="2877.7" y="2031.4" font-family="Liberation Sans" font-size="35.0" textLength="1230.0" lengthAdjust="spacingAndGlyphs">4. The <tspan font-weight="bold">Penalty parameters (</tspan><tspan font-weight="bold" font-family="Liberation Serif" font-style="italic">η</tspan><tspan font-weight="bold">)</tspan> play a crucial role in multilevel MSP training.</text>
<line x1="3018.3" y1="2079.7" x2="4176.7" y2="2079.7" stroke="#000" stroke-width="2.6"/>
<line x1="3018.3" y1="2146.3" x2="4176.7" y2="2146.3" stroke="#000" stroke-width="2"/>
<text x="3135.4" y="2120.4" font-family="Liberation Serif" font-size="20.0" text-anchor="middle">Task</text>
<text x="3337.0" y="2108.0" font-family="Liberation Serif" font-size="20.0" text-anchor="middle">Lang /</text>
<text x="3337.0" y="2130.9" font-family="Liberation Serif" font-size="20.0" text-anchor="middle" textLength="100.0" lengthAdjust="spacingAndGlyphs">Lang⟶Eng</text>
<text x="3470.8" y="2108.0" font-family="Liberation Serif" font-size="20.0" text-anchor="middle">Two-stage</text>
<text x="3470.8" y="2130.9" font-family="Liberation Serif" font-size="20.0" text-anchor="middle">training</text>
<text x="3613.0" y="2108.0" font-family="Liberation Serif" font-size="20.0" text-anchor="middle">VM-MSP</text>
<text x="3613.0" y="2130.9" font-family="Liberation Serif" font-size="20.0" text-anchor="middle">UAS (IR=.02)</text>
<text x="3771.7" y="2108.0" font-family="Liberation Serif" font-size="20.0" text-anchor="middle">VM-MSP</text>
<text x="3771.7" y="2130.9" font-family="Liberation Serif" font-size="20.0" text-anchor="middle">USA (IR=.02)</text>
<text x="3935.0" y="2108.0" font-family="Liberation Serif" font-size="20.0" text-anchor="middle">VM-MSP</text>
<text x="3935.0" y="2130.9" font-family="Liberation Serif" font-size="20.0" text-anchor="middle">UAS (IR=.002)</text>
<text x="4103.3" y="2108.0" font-family="Liberation Serif" font-size="20.0" text-anchor="middle">VM-MSP</text>
<text x="4103.3" y="2130.9" font-family="Liberation Serif" font-size="20.0" text-anchor="middle">USA (IR=.002)</text>
<rect x="3267.4" y="2293.0" width="909.3" height="24.7" fill="#e4f7fb"/>
<text x="3337.0" y="2174.0" font-family="Liberation Serif" font-size="20.0" text-anchor="middle">En</text>
<text x="3470.8" y="2174.0" font-family="Liberation Serif" font-size="20.0" text-anchor="middle">28.6%</text>
<text x="3613.0" y="2174.0" font-family="Liberation Serif" font-size="20.0" text-anchor="middle">26.9%</text>
<text x="3771.7" y="2174.0" font-family="Liberation Serif" font-size="20.0" text-anchor="middle">27.2%</text>
<text x="3935.0" y="2174.0" font-family="Liberation Serif" font-size="20.0" text-anchor="middle">28.9%</text>
<text x="4103.3" y="2174.0" font-family="Liberation Serif" font-size="20.0" text-anchor="middle" font-weight="bold">26.3%</text>
<text x="3337.0" y="2198.7" font-family="Liberation Serif" font-size="20.0" text-anchor="middle">Fr</text>
<text x="3470.8" y="2198.7" font-family="Liberation Serif" font-size="20.0" text-anchor="middle">26.1%</text>
<text x="3613.0" y="2198.7" font-family="Liberation Serif" font-size="20.0" text-anchor="middle">24.1%</text>
<text x="3771.7" y="2198.7" font-family="Liberation Serif" font-size="20.0" text-anchor="middle">24.3%</text>
<text x="3935.0" y="2198.7" font-family="Liberation Serif" font-size="20.0" text-anchor="middle">26.4%</text>
<text x="4103.3" y="2198.7" font-family="Liberation Serif" font-size="20.0" text-anchor="middle" font-weight="bold">23.8%</text>
<text x="3337.0" y="2222.0" font-family="Liberation Serif" font-size="20.0" text-anchor="middle">De</text>
<text x="3470.8" y="2222.0" font-family="Liberation Serif" font-size="20.0" text-anchor="middle">22.5%</text>
<text x="3613.0" y="2222.0" font-family="Liberation Serif" font-size="20.0" text-anchor="middle">21.2%</text>
<text x="3771.7" y="2222.0" font-family="Liberation Serif" font-size="20.0" text-anchor="middle">21.5%</text>
<text x="3935.0" y="2222.0" font-family="Liberation Serif" font-size="20.0" text-anchor="middle">22.8%</text>
<text x="4103.3" y="2222.0" font-family="Liberation Serif" font-size="20.0" text-anchor="middle" font-weight="bold">20.5%</text>
<text x="3337.0" y="2246.0" font-family="Liberation Serif" font-size="20.0" text-anchor="middle">Es</text>
<text x="3470.8" y="2246.0" font-family="Liberation Serif" font-size="20.0" text-anchor="middle">23.9%</text>
<text x="3613.0" y="2246.0" font-family="Liberation Serif" font-size="20.0" text-anchor="middle">22.1%</text>
<text x="3771.7" y="2246.0" font-family="Liberation Serif" font-size="20.0" text-anchor="middle">22.3%</text>
<text x="3935.0" y="2246.0" font-family="Liberation Serif" font-size="20.0" text-anchor="middle">24.1%</text>
<text x="4103.3" y="2246.0" font-family="Liberation Serif" font-size="20.0" text-anchor="middle" font-weight="bold">21.7%</text>
<text x="3337.0" y="2269.6" font-family="Liberation Serif" font-size="20.0" text-anchor="middle">Ca</text>
<text x="3470.8" y="2269.6" font-family="Liberation Serif" font-size="20.0" text-anchor="middle">25.2%</text>
<text x="3613.0" y="2269.6" font-family="Liberation Serif" font-size="20.0" text-anchor="middle">23.8%</text>
<text x="3771.7" y="2269.6" font-family="Liberation Serif" font-size="20.0" text-anchor="middle">24.1%</text>
<text x="3935.0" y="2269.6" font-family="Liberation Serif" font-size="20.0" text-anchor="middle">25.5%</text>
<text x="4103.3" y="2269.6" font-family="Liberation Serif" font-size="20.0" text-anchor="middle" font-weight="bold">23.2%</text>
<text x="3337.0" y="2311.5" font-family="Liberation Serif" font-size="20.0" text-anchor="middle">Ave.</text>
<text x="3470.8" y="2311.5" font-family="Liberation Serif" font-size="20.0" text-anchor="middle">25.3%</text>
<text x="3613.0" y="2311.5" font-family="Liberation Serif" font-size="20.0" text-anchor="middle">23.6%</text>
<text x="3771.7" y="2311.5" font-family="Liberation Serif" font-size="20.0" text-anchor="middle">23.9%</text>
<text x="3935.0" y="2311.5" font-family="Liberation Serif" font-size="20.0" text-anchor="middle">25.5%</text>
<text x="4103.3" y="2311.5" font-family="Liberation Serif" font-size="20.0" text-anchor="middle" font-weight="bold">23.1%</text>
<line x1="3284.6" y1="2283.2" x2="4171.0" y2="2283.2" stroke="#000" stroke-width="1.4"/>
<line x1="3018.3" y1="2325.0" x2="4176.7" y2="2325.0" stroke="#000" stroke-width="2"/>
<text x="3135.4" y="2206.0" font-family="Liberation Serif" font-size="20.0" text-anchor="middle">Speech recognition (83 M)</text>
<text x="3135.4" y="2234.5" font-family="Liberation Serif" font-size="20.0" text-anchor="middle">(WER ↓)</text>
<rect x="3267.4" y="2448.4" width="909.3" height="24.6" fill="#e4f7fb"/>
<text x="3337.0" y="2352.8" font-family="Liberation Serif" font-size="20.0" text-anchor="middle" textLength="67.0" lengthAdjust="spacingAndGlyphs">Fr⟶En</text>
<text x="3470.8" y="2352.8" font-family="Liberation Serif" font-size="20.0" text-anchor="middle">24.2</text>
<text x="3613.0" y="2352.8" font-family="Liberation Serif" font-size="20.0" text-anchor="middle">26.5</text>
<text x="3771.7" y="2352.8" font-family="Liberation Serif" font-size="20.0" text-anchor="middle">26.6</text>
<text x="3935.0" y="2352.8" font-family="Liberation Serif" font-size="20.0" text-anchor="middle" font-weight="bold">26.9</text>
<text x="4103.3" y="2352.8" font-family="Liberation Serif" font-size="20.0" text-anchor="middle">24.9</text>
<text x="3337.0" y="2376.3" font-family="Liberation Serif" font-size="20.0" text-anchor="middle" textLength="67.0" lengthAdjust="spacingAndGlyphs">De⟶En</text>
<text x="3470.8" y="2376.3" font-family="Liberation Serif" font-size="20.0" text-anchor="middle">22.4</text>
<text x="3613.0" y="2376.3" font-family="Liberation Serif" font-size="20.0" text-anchor="middle">24.5</text>
<text x="3771.7" y="2376.3" font-family="Liberation Serif" font-size="20.0" text-anchor="middle">24.7</text>
<text x="3935.0" y="2376.3" font-family="Liberation Serif" font-size="20.0" text-anchor="middle" font-weight="bold">25.3</text>
<text x="4103.3" y="2376.3" font-family="Liberation Serif" font-size="20.0" text-anchor="middle">22.8</text>
<text x="3337.0" y="2401.0" font-family="Liberation Serif" font-size="20.0" text-anchor="middle" textLength="67.0" lengthAdjust="spacingAndGlyphs">Es⟶En</text>
<text x="3470.8" y="2401.0" font-family="Liberation Serif" font-size="20.0" text-anchor="middle">24.6</text>
<text x="3613.0" y="2401.0" font-family="Liberation Serif" font-size="20.0" text-anchor="middle">26.1</text>
<text x="3771.7" y="2401.0" font-family="Liberation Serif" font-size="20.0" text-anchor="middle">26.5</text>
<text x="3935.0" y="2401.0" font-family="Liberation Serif" font-size="20.0" text-anchor="middle" font-weight="bold">26.7</text>
<text x="4103.3" y="2401.0" font-family="Liberation Serif" font-size="20.0" text-anchor="middle">25.3</text>
<text x="3337.0" y="2423.7" font-family="Liberation Serif" font-size="20.0" text-anchor="middle" textLength="67.0" lengthAdjust="spacingAndGlyphs">Ca⟶En</text>
<text x="3470.8" y="2423.7" font-family="Liberation Serif" font-size="20.0" text-anchor="middle">19.7</text>
<text x="3613.0" y="2423.7" font-family="Liberation Serif" font-size="20.0" text-anchor="middle">21.3</text>
<text x="3771.7" y="2423.7" font-family="Liberation Serif" font-size="20.0" text-anchor="middle">21.6</text>
<text x="3935.0" y="2423.7" font-family="Liberation Serif" font-size="20.0" text-anchor="middle" font-weight="bold">22.1</text>
<text x="4103.3" y="2423.7" font-family="Liberation Serif" font-size="20.0" text-anchor="middle">20.1</text>
<text x="3337.0" y="2466.9" font-family="Liberation Serif" font-size="20.0" text-anchor="middle">Ave.</text>
<text x="3470.8" y="2466.9" font-family="Liberation Serif" font-size="20.0" text-anchor="middle">22.7</text>
<text x="3613.0" y="2466.9" font-family="Liberation Serif" font-size="20.0" text-anchor="middle">24.6</text>
<text x="3771.7" y="2466.9" font-family="Liberation Serif" font-size="20.0" text-anchor="middle">24.9</text>
<text x="3935.0" y="2466.9" font-family="Liberation Serif" font-size="20.0" text-anchor="middle" font-weight="bold">25.3</text>
<text x="4103.3" y="2466.9" font-family="Liberation Serif" font-size="20.0" text-anchor="middle">23.3</text>
<line x1="3284.6" y1="2438.0" x2="4171.0" y2="2438.0" stroke="#000" stroke-width="1.4"/>
<line x1="3018.3" y1="2481.0" x2="4176.7" y2="2481.0" stroke="#000" stroke-width="2.6"/>
<text x="3135.4" y="2372.6" font-family="Liberation Serif" font-size="20.0" text-anchor="middle">Translation (83 M)</text>
<text x="3135.4" y="2402.0" font-family="Liberation Serif" font-size="20.0" text-anchor="middle">(BLEU ↑)</text>
<rect x="3455.4" y="2484.0" width="357.6" height="44.5" fill="#b4b4b4"/>
<text x="3463.4" y="2517.5" font-family="Liberation Sans" font-size="28.0" textLength="332.9" lengthAdjust="spacingAndGlyphs">Effect of <tspan font-weight="bold">penalty parameter</tspan></text>
<rect x="2872.1" y="2551.8" width="1409.6" height="118.1" fill="#fff" stroke="#2f5597" stroke-width="3.5"/>
<text x="2879.0" y="2593.3" font-family="Liberation Sans" font-size="35.0" textLength="1390.0" lengthAdjust="spacingAndGlyphs">5. Focusing only on the <tspan font-weight="bold">gradients of conflicting layers</tspan> when computing the dynamic</text>
<text x="2879.0" y="2636.4" font-family="Liberation Sans" font-size="35.0" textLength="1102.0" lengthAdjust="spacingAndGlyphs">update direction improves efficiency without degrading performance.</text>
<rect x="2872.4" y="2714.1" width="1409.2" height="127.0" fill="#cfe0f3" stroke="#2f5597" stroke-width="3.5"/>
<text x="2906.7" y="2759.7" font-family="Liberation Serif" font-size="42.0" textLength="1342.8" lengthAdjust="spacingAndGlyphs">This work was supported by IBM through the IBM-Rensselaer Future of Computing</text>
<text x="3386.0" y="2806.0" font-family="Liberation Serif" font-size="42.0" textLength="382.6" lengthAdjust="spacingAndGlyphs">Research Collaboration.</text>
</svg>
</body></html>
